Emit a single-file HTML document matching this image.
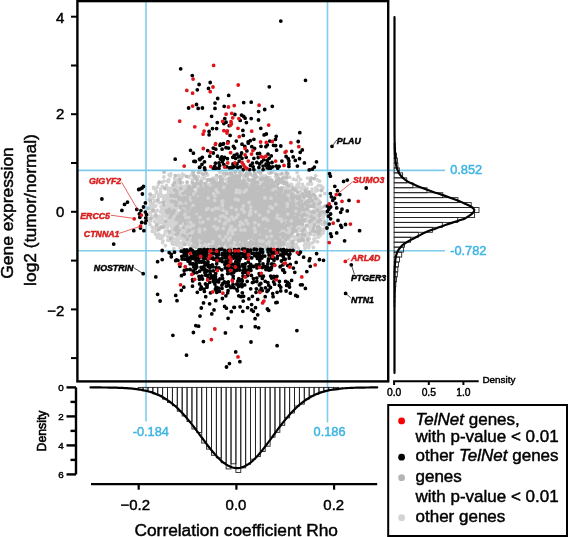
<!DOCTYPE html><html><head><meta charset="utf-8"><style>html,body{margin:0;padding:0;background:#fff;width:568px;height:537px;overflow:hidden}svg{display:block;will-change:transform}text{font-family:"Liberation Sans",sans-serif;stroke-width:0.45px;paint-order:stroke}</style></head><body>
<svg width="568" height="537" viewBox="0 0 568 537">
<path d="M179.4 193h0M288.8 220.1h0M301.1 205.9h0M255.1 210.3h0M200.6 218.9h0M175.7 208.9h0M269.4 217.2h0M238.8 204.3h0M243.7 205.5h0M217.5 209h0M244.4 229.5h0M165.9 208.7h0M267.8 205.6h0M217.4 225.2h0M246.7 221.8h0M215.3 241.8h0M308.2 216.6h0M214.3 230.7h0M258.9 195.2h0M213.9 237h0M231.4 209.4h0M246.2 215.3h0M235.9 177.4h0M320 220h0M193.9 235.6h0M250.8 216.4h0M262.6 247.7h0M210.9 231.5h0M154 210.7h0M298.1 236.9h0M263.8 178.1h0M272.8 225.9h0M153.6 187.3h0M196.1 211.2h0M223.8 227.4h0M260 221.4h0M244 221.4h0M295.1 213.9h0M206.7 224.2h0M161.4 195.2h0M187.7 221.8h0M290.8 220.8h0M249.4 207h0M178.3 190.3h0M276.2 229.3h0M290.8 247.1h0M221.3 237.1h0M288.2 212.7h0M158.6 218.4h0M196.5 218.2h0M213.8 222.4h0M301.3 209h0M192.4 216.1h0M268.4 224.5h0M255.3 176.6h0M181.7 242.9h0M247.5 185.6h0M194.3 187h0M187 239.6h0M225.3 238.6h0M245.1 185.6h0M198.7 194.7h0M296.2 217.8h0M235.7 245.8h0M150 224.5h0M184.5 187.4h0M196.2 239.5h0M229.1 178.6h0M181.7 247.1h0M286.1 193.7h0M177.5 213.2h0M286.5 207.3h0M208.5 186.2h0M232.4 203.8h0M248 190.1h0M210.6 198h0M176.9 191.8h0M186 191.8h0M263.9 218h0M171.2 226.5h0M250.1 245.9h0M226.4 211.7h0M202.2 218.5h0M260.2 219.6h0M223.5 227.5h0M240.5 221.1h0M190.2 220.2h0M187.1 198.7h0M284.9 216.1h0M227.2 236.2h0M303.9 241h0M226.9 219.9h0M219.8 210.2h0M194 210.9h0M256.9 197.1h0M262.5 189.5h0M217.9 224.1h0M185.1 201.4h0M201.4 204.3h0M237.6 215.5h0M284.3 232.2h0M216.2 208.7h0M166.5 185.4h0M199.7 231h0M241.9 232.4h0M282.2 212.6h0M205.3 207.2h0M291.8 213.2h0M199.7 224.9h0M291.6 213.7h0M223.6 238.2h0M284.2 235.3h0M198.5 221.8h0M253.8 179.3h0M295 218h0M243.2 201.3h0M232.9 227.5h0M275.9 214.8h0M193.6 201.8h0M195.9 194.5h0M235 206h0M238.7 199.1h0M193.5 212.2h0M218.9 239.5h0M191.7 220.2h0M234 189.3h0M271.7 219.5h0M282 199.7h0M319 219.2h0M179.5 227.5h0M218.4 188.7h0M200 229.1h0M255 205.4h0M319.6 231.3h0M218.6 196h0M258.5 210.1h0M176 219.4h0M193 216.3h0M272.3 237.8h0M242.8 209h0M254.4 187.5h0M311.9 221.1h0M231.4 210h0M254.5 204.2h0M163.9 176.9h0M230 205.5h0M274.8 238.2h0M211.6 222.1h0M225.7 211.8h0M272.4 228.3h0M250.9 219h0M165.6 201h0M254.6 208.6h0M198.1 223.2h0M191 202.3h0M279.1 208.7h0M305.7 226.6h0M275.5 239h0M173.1 206.6h0M230.9 241.2h0M210.4 214.9h0M240.5 235.2h0M233.5 203.5h0M220 187.6h0M297.3 231.2h0M256.8 221.6h0M206.6 207.8h0M275.3 200h0M197.9 248h0M311.8 221.9h0M261.9 219.8h0M305.3 207h0M240 225.8h0M306 211h0M247.3 206.1h0M204.2 202.8h0M240.1 233.9h0M202.4 203.9h0M216.4 223.1h0M269.8 190.8h0M253.2 195.9h0M270.5 196.6h0M183.7 201.7h0M233 196h0M246.2 219h0M240 221.4h0M278.2 201.3h0M236.1 215.4h0M198.9 201.6h0M214.5 218h0M251.9 225.7h0M202.6 230h0M256.1 208.2h0M235 232.1h0M256.8 230h0M241.1 238.8h0M208.6 188.3h0M288.6 236.1h0M217.6 245h0M232.3 204.2h0M239.3 220.3h0M238.4 224h0M208.7 229h0M197.6 219.3h0M227.5 184.4h0M254.4 228.7h0M182.4 174.1h0M205 199.2h0M241.3 215.7h0M313.4 229h0M223.7 219.2h0M191.8 213.8h0M251.3 220.3h0M280.9 202.2h0M250.7 213.4h0M236.6 222.4h0M222.5 220.2h0M234.3 236.4h0M230.6 222.1h0M260.6 237.5h0M187.7 230.2h0M271.9 224.8h0M282.7 231.7h0M293.1 203.2h0M256.7 205.1h0M295.4 218.7h0M173.7 218.2h0M188 235.6h0M219.8 172.3h0M217.4 236.4h0M251.8 203.4h0M267 227.5h0M306.4 234h0M253.6 200.3h0M249.6 222h0M236.7 224.4h0M179.3 227.4h0M236.5 223.1h0M231.4 210h0M248.2 231.6h0M220.7 222.5h0M199.4 224.3h0M236.9 190.5h0M291.6 198.3h0M239.8 189.9h0M153.3 229.1h0M169.1 174.8h0M225.7 185.2h0M217.3 223.1h0M262.8 220.9h0M230.3 245.9h0M232.2 223.1h0M241.3 190.6h0M251.2 217.1h0M266.9 229.7h0M310.6 178.3h0M209.5 206.6h0M194.9 224.2h0M232.3 218.8h0M158.5 197h0M232.9 207.1h0M207.1 213.7h0M222.8 195h0M315.1 202.6h0M266.9 227.8h0M281.9 204.7h0M188.6 224.7h0M217.5 210.7h0M255.7 196.8h0M297.6 221.4h0M209.9 224.7h0M230.6 229.2h0M194.3 208.8h0M236.2 201.1h0M214.4 228.1h0M275.1 193.5h0M214.3 222.5h0M263.4 195.8h0M264.4 218.9h0M298.1 234.5h0M261.9 208.2h0M248.4 199.1h0M196.8 179.6h0M174.3 190.9h0M231.1 218h0M172.4 214h0M255 234.2h0M231.4 220.3h0M218.1 234.2h0M162 220.7h0M279.6 174.4h0M210.9 188.1h0M152.3 207.8h0M194.1 236.4h0M211 194h0M231.9 223.9h0M274.4 225.8h0M165.1 199.7h0M226.9 199.3h0M270.7 209.1h0M232.1 208.4h0M237.5 186.2h0M201 180.7h0M231.3 188.6h0M250.8 239.3h0M264.2 207h0M295.4 212h0M233.1 217h0M212.8 224h0M177.1 180.8h0M291.9 201.2h0M218.6 222.3h0M213.1 192.5h0M225.9 197.1h0M261.1 207h0M223 230.8h0M162.3 186.4h0M269.7 240.6h0M239.5 201.8h0M293.3 225.9h0M283.6 180h0M229.1 195.4h0M183.5 227.1h0M269.6 206.4h0M223.4 242.8h0M266.2 213.3h0M259.4 217.9h0M175.7 205.6h0M248.6 227.9h0M178.6 199.9h0M207.6 185.9h0M287.2 224.7h0M297.1 172.7h0M168.8 179.8h0M245.7 246.6h0M265.5 196.8h0M261.4 223.8h0M247.7 223.4h0M274.4 238.6h0M299.9 236.6h0M228.4 179.3h0M261.1 186.2h0M253.8 221.6h0M266 221.4h0M198.5 231.7h0M202.5 186.1h0M278.2 226.2h0M191.2 210.8h0M283.9 234.2h0M184.7 237.5h0M253.5 213.4h0M240.7 184.1h0M229.2 225.6h0M191.5 218.5h0M206.6 227.2h0M161.8 216.2h0M251.2 190.6h0M223.6 233.4h0M269.6 196.2h0M283.7 222.5h0M241.4 245.5h0M270.2 223.1h0M281 228.9h0M295.7 213.6h0M273.7 226.2h0M237.8 214.1h0M240.5 197.2h0M272.3 217.6h0M190.5 221.1h0M220.2 215.3h0M185.2 224h0M269.4 224.3h0M306.2 207.4h0M220.2 215.7h0M170.9 237.7h0M176.9 226.7h0M292.5 199.4h0M227.5 211.9h0M317.3 221.1h0M284.8 176.5h0M240 173.9h0M285.9 244h0M269.5 215.5h0M202.4 223.5h0M197.3 219.1h0M223.7 207.1h0M261.8 235.3h0M278 224.8h0M315.8 191h0M239.1 219.6h0M214.9 209.7h0M247.1 214.1h0M256.2 235.4h0M178.1 240.7h0M269.5 235.7h0M309.8 211.1h0M255.7 221.2h0M207.1 200.8h0M198.9 232.7h0M239.6 241.9h0M231.1 241h0M233 205.4h0M161.4 219.7h0M318.3 217.8h0M186.4 227.6h0M170.5 193.3h0M289.1 224.1h0M282 220.7h0M230.3 219.4h0M220.5 236.9h0M174.6 178.4h0M195.5 233.9h0M226.7 227.4h0M253.5 212.7h0M161.7 226.3h0M189.1 212.4h0M272 208.3h0M150.4 204h0M264.9 230.2h0M174 216.9h0M250 237.2h0M255.2 219.1h0M221.4 225.3h0M272.7 212.8h0M233.9 200.4h0M268.1 191.4h0M184.3 234.1h0M237 231.6h0M272.8 200.9h0M259.9 208.5h0M246.2 221h0M232 190.4h0M250.3 216.4h0M261.2 195.1h0M245.4 211.9h0M215.6 210.7h0M224.1 189h0M210.1 206.8h0M258.1 212.9h0M303 227.9h0M250.9 220.1h0M168.7 223.1h0M295.7 196h0M298.5 228.1h0M249.5 207.6h0M237 200.5h0M235.2 217h0M239 191.9h0M279.9 203.1h0M254.8 227.6h0M241.7 224.3h0M224.3 222.5h0M176.3 228.6h0M218.6 205.9h0M271.9 233.8h0M215.9 195.9h0M259.2 228.5h0M176.6 217h0M285.5 201.1h0M209.8 198.2h0M255.5 178.9h0M229.8 225.2h0M233.4 234.8h0M264.9 206h0M188.8 195.2h0M259 213.3h0M241.4 198h0M290.2 233h0M271.4 194.1h0M185 234.9h0M229.9 200.7h0M200 225.7h0M250.4 220.1h0M225.8 195.9h0M247.8 210.7h0M226.4 228h0M315.6 203.7h0M281.4 201.6h0M275.5 228.6h0M237.7 220.6h0M199.5 209.4h0M280.8 231h0M214.2 218h0M238.8 206.2h0M216.5 214.1h0M295.9 214h0M200.7 222.1h0M206.4 222h0M185.9 235.2h0M273.2 207.3h0M258 193.2h0M246.2 221.1h0M285.9 207.6h0M185.5 205.4h0M219.1 248.3h0M233.9 238.5h0M239.5 188.8h0M257.5 226.1h0M209.7 185.6h0M255.5 225h0M280.1 227.6h0M166.8 189.1h0M274.6 242.5h0M285.9 232.2h0M235.5 234.8h0M308.5 226.3h0M294.7 239.6h0M202.8 238.9h0M200.3 198.2h0M311.6 184h0M227.3 233.7h0M254.3 208.5h0M192.5 226h0M260.9 214.5h0M190.6 188.2h0M235.7 215.1h0M275 210h0M278.6 192.5h0M155.6 234.2h0M216.3 199.7h0M229.5 192.4h0M220.2 189.2h0M244.1 204.7h0M233.6 216h0M256.9 182.8h0M243.4 210.9h0M182.6 211h0M259.6 225.2h0M208.4 200h0M214.7 204.6h0M235 218.8h0M200.9 194h0M233.6 192.3h0M198.3 222.8h0M231.7 196.8h0M169.7 196.8h0M167.3 226.4h0M270.5 221.9h0M250.6 206.5h0M243.7 217.2h0M238.3 206.6h0M186.2 221.6h0M253.8 194.5h0M225.3 215.4h0M259 183.2h0M171 189.4h0M178.6 195.2h0M275.4 193.7h0M268.1 215.1h0M276 223.4h0M273.3 227.3h0M264.7 223.5h0M286.8 216.4h0M212 246.7h0M213.9 223.8h0M223.5 203h0M193 228.6h0M226.7 218.5h0M157.1 225.4h0M202.9 178.8h0M202.7 185h0M309.7 183.6h0M249.3 196h0M198.2 191.3h0M292.2 194.7h0M206.7 220.5h0M219 229.4h0M201.9 184.8h0M257.1 239.1h0M260.6 199.9h0M290.2 231.3h0M218.6 224.5h0M234.7 218.3h0M266 232.9h0M240.2 217.3h0M257.5 200.6h0M253.4 212.3h0M239.3 217.9h0M296.8 225.8h0M238.4 193.2h0M253.3 195.3h0M293.3 202.6h0M207.4 213.2h0M189.7 225.6h0M251.3 203h0M289.8 226.7h0M249.5 245h0M218.3 211h0M229.9 195.7h0M243.4 199.1h0M225.2 206.8h0M216.2 215h0M168.3 181.6h0M226.9 211.6h0M182.1 214.1h0M210.3 220h0M226.7 237.5h0M300.8 228.9h0M237.6 232.5h0M270.3 225.2h0M272.2 209h0M272.4 226.4h0M255.4 213.1h0M218 227.4h0M213.8 195.8h0M313.9 239.1h0M201.6 242.9h0M268.3 221.1h0M227.7 231.3h0M260.8 194.7h0M203.4 235.5h0M271.3 194.6h0M169 224.8h0M199.3 202.5h0M213.2 220.7h0M220.2 233.9h0M184.9 199.8h0M259.6 235.4h0M234.6 210.2h0M298.5 237.2h0M250.9 211.8h0M294.7 229.7h0M220.9 244.6h0M287.8 220.7h0M258.7 231.3h0M216.1 193.6h0M291.8 185.4h0M167.9 189.6h0M260 236.4h0M207.5 241.4h0M312.4 242.8h0M178.3 241.4h0M163 241.1h0M261.3 215.8h0M234.8 183.8h0M198.6 220.2h0M258.9 234.3h0M280.3 207.6h0M233.8 243.8h0M174.9 226.6h0M198.2 220.6h0M322.5 224.2h0M216.6 203.4h0M172.7 216.1h0M243.3 199.2h0M201.1 239.3h0M290.2 222.6h0M227.4 240.2h0M268.8 220h0M320.4 213.6h0M245.6 237.7h0M260 218.1h0M222.3 230h0M257.2 219.9h0M314.8 215h0M316 197.8h0M243.5 201h0M254.5 229.9h0M263.3 221h0M225.5 193.2h0M276.8 217.1h0M290.8 184.4h0M226 183.8h0M288.1 202.6h0M189.5 233.5h0M233.4 221.3h0M232.7 238.1h0M250.3 221.6h0M236.8 235.2h0M289.5 209.8h0M277.2 187.8h0M200.6 206.3h0M203.3 226.9h0M173.3 186.6h0M246.1 199.8h0M239.8 218.2h0M206.2 208.7h0M276.7 216.6h0M240.4 229.4h0M203.4 193.2h0M220.6 247.8h0M283.2 234.2h0M214.2 184.8h0M185.4 193.8h0M263.1 222.1h0M177.1 221.4h0M301.3 234.5h0M204.9 234.7h0M216.2 240.3h0M180.8 198h0M221.2 231h0M172.1 221h0M220.2 207.5h0M178 224.5h0M243.6 224.7h0M244.9 214.2h0M195.9 216.1h0M273.4 219.1h0M261.6 233.2h0M252.5 211.6h0M191.9 240.7h0M229 213.1h0M241.2 232.1h0M277 202.8h0M233.4 238.9h0M208.8 217.1h0M197.8 188.3h0M177 219.5h0M225 212.1h0M165.3 215.1h0M200.5 242.5h0M191.2 236.4h0M182.1 196.4h0M303.2 201.8h0M217.1 185.8h0M244.1 243.4h0M223.6 211.1h0M236.9 201.7h0M177.6 217.2h0M221.8 182.5h0M177.9 225.1h0M278.4 215.1h0M307.7 233.5h0M201.4 195.7h0M259.4 177.6h0M269.5 234.4h0M180.4 195.4h0M319.6 206.7h0M244.3 209.6h0M312 204.8h0M194.7 245.7h0M166.2 210.1h0M173.6 185.6h0M180.1 216.9h0M202.1 194.5h0M212.4 237.4h0M266.1 219.4h0M270.9 209h0M239.9 245.6h0M193.6 218.6h0M233.4 235h0M260.2 216h0M260.8 230h0M213.8 228h0M217.8 243.1h0M212.2 217.3h0M198.4 213.6h0M288 243.6h0M276.8 229.2h0M242 191.1h0M265.4 203.5h0M249.5 214h0M275.9 203.1h0M273.2 216.3h0M312 213.8h0M229 179.6h0M277.1 216.7h0M258.9 209.8h0M296.8 214h0M229.3 223.8h0M183.9 226.8h0M196.4 221h0M287.6 208.7h0M206.5 248.4h0M237.8 237h0M264.1 225h0M302.9 215.5h0M165 211.6h0M208.6 194.6h0M217.9 224.4h0M260 217.9h0M230.3 217.6h0M216.1 199.9h0M240.3 233.3h0M203.1 216.6h0M269.1 197.6h0M254.4 219.5h0M284.7 199.3h0M216.5 246.5h0M301.4 204.5h0M284 222.6h0M269.4 193.1h0M244.9 230.1h0M289.7 225.5h0M257.8 235.7h0M317.8 189.8h0M152.1 217.8h0M272.6 198.8h0M266.4 205h0M278.1 213.8h0M317.3 198.6h0M306.9 203.1h0M270.8 223.2h0M177.3 179.7h0M230.3 210.9h0M210.6 231h0M252.3 228.6h0M189.9 214h0M230.7 236.5h0M297.2 207.2h0M262.2 223.4h0M230.7 182.6h0M195 201h0M227.2 195.2h0M247.6 229.2h0M246 219.6h0M207.3 232.8h0M206.7 216.6h0M318.4 185.4h0M287 222.4h0M248.4 244.1h0M210.5 229h0M214.8 241.9h0M180.5 215.5h0M213 195.5h0M284.7 209h0M189.8 197.5h0M254.7 185.4h0M253.3 235.5h0M241.5 219.4h0M219.5 199.5h0M235.7 220.6h0M306.9 220.2h0M203.8 232.7h0M189 177h0M225.8 202.6h0M266.5 215.1h0M175.7 202h0M177.8 195.9h0M294.4 244.9h0M220.5 243h0M232.5 198.4h0M231.9 233.8h0M305.6 212h0M175.3 220.6h0M215.1 203.1h0M256.5 220.4h0M179.6 202.7h0M302.2 212.2h0M185.8 216.5h0M190.5 219.5h0M240 189.9h0M157.3 210.5h0M174.8 208.2h0M215 211.5h0M288.9 239.7h0M221.2 224.5h0M267.9 185.6h0M240.1 196.3h0M290.8 240.9h0M251.3 245h0M223.3 200.9h0M300.1 216.4h0M252 190.2h0M270.4 214.6h0M229.9 194.8h0M200.4 207.8h0M243.4 241h0M153.9 188.6h0M191.1 201.7h0M196.6 193.2h0M204.4 224.6h0M216.4 198h0M264.5 218.8h0M189.8 239.6h0M205 196.7h0M253.3 199.7h0M188.5 242.9h0M214.3 197h0M244.5 213h0M258.8 207h0M256.9 192.9h0M275.3 208.9h0M200.8 191.4h0M279.6 214.9h0M216.9 222.6h0M228.6 209h0M251.7 206.9h0M155.5 216.3h0M215.8 228.3h0M289.7 195.7h0M228.3 248.2h0M289.2 200.9h0M248.3 243h0M297.8 208.8h0M255.1 226.9h0M225.7 211.4h0M282.5 216.2h0M233.4 239.3h0M291 227.4h0M217.1 200.4h0M184.8 204h0M251.3 190.6h0M196 196.3h0M245.6 207.9h0M308.6 242.3h0M239.1 213.8h0M287.8 199.1h0M282.1 191.6h0M219.2 222.9h0M243 184.7h0M198.5 219h0M203.9 219.1h0M250.1 227.9h0M230 196.4h0M164.1 220.9h0M226.6 242.6h0M245.7 229.6h0M187.3 210h0M257 209.2h0M268.3 208.2h0M223.5 223.9h0M176.9 245h0M309.2 211.4h0M256.5 235.5h0M254.1 229.1h0M221.3 226.4h0M211.1 194h0M226.6 230.8h0M250.8 223.7h0M218.4 219h0M199.5 213.8h0M241.3 200.4h0M307.5 178.1h0M267.2 209.8h0M284.9 206.3h0M276.1 201.2h0M200.1 212.1h0M238.2 196.9h0M292.1 195.1h0M225.1 218.2h0M230.2 236.6h0M192.5 235.2h0M289.9 216.7h0M208.5 187.8h0M249.3 194.5h0M174.6 207.4h0M210.9 243.6h0M249.6 214.2h0M275.2 224h0M264.5 193.4h0M235.1 225.2h0M236 226.4h0M285.2 241.9h0M246.1 227.3h0M217.5 208.8h0M270.8 190.9h0M291.6 193.6h0M231.4 200.3h0M194.5 225.1h0M156.8 230h0M222.4 209.9h0M251.5 241.5h0M244.6 201.9h0M236.1 235.5h0M187.5 221.3h0M294.5 203.6h0M228.2 234.1h0M207.6 215.4h0M222.3 220.6h0M182.5 182.6h0M288.1 200h0M190 233h0M207.9 211.7h0M181.5 210.1h0M252.9 236.5h0M271.4 191.5h0M219.1 229h0M194.4 197.5h0M219.9 237.6h0M179.8 231.5h0M269.5 202.6h0M176.1 209.9h0M218.2 203h0M280.3 239.9h0M232.4 239.2h0M202.2 220.4h0M261.8 218.7h0M232.8 196.8h0M264.1 248.6h0M268.5 214.4h0M223.1 196.6h0M300.7 215.6h0M291.9 197.9h0M271.1 231.9h0M228.3 204.9h0M297.8 202.6h0M304.7 228.1h0M319.6 213.6h0M224.8 195h0M162 182.3h0M217.1 216h0M249.6 223.6h0M215.3 196.7h0M202 219.4h0M243 181.2h0M228.3 195h0M187.9 217.2h0M194.4 219.8h0M244.2 205.8h0M193.5 183.5h0M253.1 213.2h0M202.8 202.1h0M176.8 221.3h0M279.1 194.2h0M263.7 206.2h0M249.9 196.9h0M205.7 209.3h0M279.8 201.6h0M208.1 238.2h0M198.3 211.3h0M223.8 201.1h0M209.1 190.7h0M187.4 237.9h0M176.5 240.5h0M167.8 240.2h0M227.4 227.7h0M224.1 225.1h0M205.2 223.5h0M305.1 189.6h0M237.5 233.1h0M210.5 216.2h0M247.8 235.5h0M255.6 223.6h0M203.9 205.7h0M217.5 201.9h0M238.7 197.8h0M270.5 200.7h0M207.4 184.9h0M212.4 184h0M220.9 225.6h0M274 219.7h0M217.1 236.1h0M256.3 207.1h0M243.2 218.3h0M194.7 243.2h0M169.8 224.4h0M190.8 214.5h0M224.4 219.2h0M310.4 206.3h0M262.4 223.7h0M247.8 192.7h0M235.4 182.6h0M290.5 245.5h0M243.9 226.4h0M234.5 179.3h0M220.6 234.7h0M232 199.4h0M237 229.3h0M208.8 220.7h0M291.6 204.1h0M266.5 196.5h0M260.3 226.1h0M275.7 195.1h0M245.1 188.8h0M236.5 191.3h0M244.2 233.4h0M288.3 204.9h0M303.4 221.7h0M303.3 214.9h0M183.1 217.1h0M190.8 195.8h0M299.5 193.2h0M224.2 184.5h0M254.1 238h0M232.6 229.5h0M269.1 211.5h0M272.1 181.2h0M227.2 218.5h0M266.5 241.9h0M224.6 197.9h0M212.8 209h0M190.2 186.8h0M248.6 190.8h0M233.2 215.4h0M231 236.3h0M252.8 219.4h0M306.2 208h0M168.2 204.3h0M282.3 195.2h0M193 224.8h0M287.3 246.1h0M208.5 201.7h0M222.9 200.9h0M234.3 190.4h0M221.9 212.5h0M238.8 199.4h0M231.9 206.2h0M193.7 210.7h0M197 219h0M282.3 225.2h0M238.3 228.4h0M223.9 225h0M214.7 220.9h0M184.5 226.3h0M292.4 224.6h0M276.4 216.8h0M213.5 178.6h0M257.4 234.4h0M275.5 210.4h0M262.7 226.2h0M265.3 202.3h0M178.7 175.4h0M213 206.8h0M193.7 218.1h0M170.2 219.6h0M308.5 211.4h0M148.5 214h0M204.6 215.4h0M217.7 202.1h0M247.2 235.3h0M223.8 216.5h0M190.1 214.8h0M164.4 224.3h0M187.1 215.6h0M202.3 208.2h0M215.3 196.8h0M223.7 198.2h0M215.5 205.9h0M180.4 218.2h0M260.8 217h0M156.8 224.4h0M270.9 180.3h0M245.2 226.8h0M290.8 243.1h0M251.5 232.2h0M244.9 230.2h0M174 198.6h0M297.4 222.3h0M176.1 211.3h0M150.6 212.5h0M278 180.3h0M229.2 221.1h0M225.1 216.9h0M200.1 198.7h0M234.1 178.2h0M227.9 185.4h0M197.6 243.9h0M214.4 205.2h0M272.9 199.4h0M204.8 213.4h0M262.5 196.2h0M231.5 177.6h0M172.8 212.8h0M201.6 219.4h0M268.8 173.1h0M248.1 217.1h0M216.8 217.5h0M195.3 222.9h0M252.1 234.4h0M174.7 192.9h0M208.3 221.6h0M189.2 233.1h0M304.2 210.1h0M286.9 184.6h0M184.6 226.3h0M274.6 188.3h0M210.9 223.6h0M231.4 199.5h0M232.6 231.1h0M209.2 189.4h0M295.1 205.7h0M277.2 236.4h0M279.1 214.6h0M249.6 224h0M312.8 221.6h0M160.2 235.4h0M241.6 212.1h0M222.9 230.7h0M235 220.8h0M234.6 234.2h0M179.5 223.2h0M258.9 215.1h0M305 248.3h0M222 240.2h0M293.1 205.6h0M274.4 226.7h0M218.3 191.2h0M226.9 235.8h0M281.2 223.7h0M257.5 198.3h0M207.6 218.6h0M224.4 195.8h0M173.8 238.7h0M230.4 223.7h0M186.7 190.5h0M277.7 222h0M279.2 200.3h0M214.8 221.8h0M220.8 241.8h0M296.9 201h0M284.2 212h0M275.8 223.7h0M225 221.1h0M256.3 209.5h0M256.3 230.7h0M241 229.5h0M288.4 220.3h0M239 208.4h0M210.5 216.6h0M260.4 173.9h0M277.9 198.5h0M284 240.7h0M311.1 230.7h0M218.9 248.1h0M200.5 216.4h0M185.1 217.2h0M269.7 236.9h0M163 209.8h0M200.6 239.4h0M254.6 239h0M250.5 231.5h0M272.6 223.2h0M202.6 212.3h0M309.7 245.1h0M223.6 229h0M161.8 238.7h0M233.8 172.8h0M194.4 210.9h0M219.3 215.9h0M198.2 181.2h0M314 196.9h0M183.8 187.2h0M220.1 240.8h0M206.2 215h0M302.5 213.2h0M189 196.1h0M266.1 203.9h0M225.2 241.6h0M257.5 245.7h0M204.2 217.9h0M256.2 224.4h0M263.1 178.8h0M157.2 201.4h0M213.8 232.8h0M266.5 207.2h0M191.6 197.9h0M294.7 224.3h0M265.4 175.9h0M199.1 182.9h0M175.5 224.6h0M251.6 203.3h0M268.6 246.6h0M260.6 205.9h0M181.3 209.1h0M213 221.9h0M262.4 213.3h0M245.4 218.9h0M229.4 219.8h0M233.9 247.7h0M237.8 219.2h0M260.5 216.5h0M286.8 209.6h0M236 222.2h0M209.6 202.5h0M257.8 235.4h0M225.4 198.3h0M207.3 211.1h0M222.9 213.9h0M187.7 205.6h0M172.3 236h0M169.5 201.1h0M190.5 223.1h0M230.9 203.5h0M216.5 228.4h0M206.2 246.2h0M158.3 222.4h0M287.3 232.8h0M251 200.7h0M275.3 226.8h0M245.8 182.4h0M275.1 222.9h0M270.2 207.6h0M318.8 236.8h0M258.2 196.3h0M209.7 184.5h0M252.1 204.9h0M250.1 192.4h0M322.7 214.5h0M276.1 199.2h0M280.6 236.3h0M264.7 229.5h0M184.5 206.1h0M181.1 186.8h0M275.2 210.5h0M276.6 211h0M189.2 243.4h0M292.4 212.4h0M261.5 180.1h0M209.6 241.4h0M245 214.5h0M305.3 244.5h0M190.2 207.6h0M249.9 195.1h0M264.6 230.2h0M240.6 187.4h0M228.8 216.1h0M255.5 215.8h0M303.7 204.4h0M177.3 238.4h0M205 193.1h0M249.5 191.3h0M200 212.3h0M239.9 206.6h0M291.9 231.9h0M255 237h0M232.6 238.9h0M212.3 207.2h0M255.9 227.3h0M243.7 224.9h0M249.2 214.7h0M267.5 193.2h0M287.1 235.1h0M201.2 188.6h0M238.3 227.3h0M208.8 203.8h0M173.9 195.8h0M311.6 222.5h0M284.3 213.3h0M197.7 207.9h0M260.8 206.3h0M281.9 229.9h0M177.4 224.9h0M189.5 211.7h0M235.8 210.4h0M316.1 197.9h0M233.7 238h0M318.6 224.6h0M299.7 211.5h0M289.8 212.9h0M298.5 187.6h0M283.6 206h0M223.2 215.7h0M255.6 213.4h0M179.1 202.7h0M256.4 232.5h0M234 218.6h0M197.9 227.5h0M221.2 185.6h0M233.4 243.5h0M206.2 183h0M263.4 229.9h0M204.5 204.6h0M278.9 205.5h0M231.3 208.7h0M278.8 212h0M250.7 220.9h0M325.9 223.3h0M206.9 196.8h0M271.6 234.6h0M203.8 216.1h0M299.8 196.7h0M269.8 240.1h0M283.3 223h0M281.5 243.4h0M314.3 234.6h0M184.6 196.9h0M228.4 188.1h0M180.5 209h0M267.2 218.4h0M217.4 196.8h0M177.5 237.2h0M266.2 180.4h0M242.3 243.2h0M173.5 221.5h0M262.7 222.7h0M245.8 196.8h0M195.2 202.7h0M199.2 212.3h0M254.3 209.3h0M306.5 243.2h0M171.7 225.9h0M183.9 199.6h0M259 209.6h0M259.9 204.1h0M271.8 223.7h0M149.9 212.6h0M253.5 234.1h0M178.6 204h0M217.1 193.6h0M303.6 236.6h0M241.1 208.6h0M238 214h0M209.1 190.4h0M229.9 224.3h0M232.8 244h0M150 208.3h0M267.5 240.5h0M231.3 221.6h0M244.9 224.9h0M243.2 220.7h0M280.8 213.1h0M238.4 195.1h0M199.5 214.9h0M267.1 211.3h0M316.9 207.3h0M250.2 209.2h0M305.6 213.6h0M181.4 203.6h0M273.2 235.1h0M226.6 203.9h0M298 194.8h0M265.2 227.5h0M194.2 178.5h0M274.6 215.8h0M268.8 193.2h0M213 227.3h0M246 219.3h0M213.9 220.3h0M248.1 232.9h0M257.2 226.1h0M176.9 228.7h0M286.4 175.4h0M290.4 192.4h0M266.7 203.4h0M202.5 204.8h0M269.8 208.9h0M271.3 216h0M193.7 243.8h0M206 209.9h0M304.4 245.3h0M251.2 239h0M264.9 196.3h0M207.6 217.7h0M295.9 205.4h0M212.3 198.6h0M224.8 197h0M255.5 232.9h0M243.1 176.2h0M165.8 213.4h0M299.7 204.4h0M272.2 213.7h0M291.7 192h0M177.9 204.5h0M240.4 219.2h0M183.8 232.2h0M232.2 196.7h0M214.5 205.4h0M262.6 211.9h0M286.6 202.9h0M258.8 244.6h0M234.4 226.7h0M261.9 175.4h0M291.9 197.2h0M218.4 206.9h0M278.8 215.8h0M229 212.5h0M212.4 238.2h0M187.1 219.4h0M229 218.6h0M208.7 201.1h0M270.9 228.5h0M197.8 187.1h0M215.4 221h0M190.4 196.7h0M197 234.1h0M261.2 218h0M246.6 228.1h0M246.5 224.5h0M291.9 203.1h0M174.5 217.7h0M231.5 195h0M237 216.1h0M311.3 223.1h0M287.5 220.2h0M190.1 213.8h0M313.2 206.5h0M225.7 202.2h0M253.2 224.7h0M273.9 228.1h0M210.4 207.4h0M273.9 224.9h0M305.1 192.5h0M223.7 242h0M201.9 212.9h0M199.7 212h0M246.1 202h0M242.1 203.3h0M287.5 217.2h0M286.2 196.8h0M235.1 239.7h0M201.5 241.7h0M229.1 227.8h0M249.5 216h0M263.6 229.2h0M205.8 238.1h0M208.2 216.4h0M272.2 188.4h0M248 227.1h0M279.8 231.5h0M185.9 191.9h0M280.3 202.9h0M257.6 224.5h0M232.6 208.7h0M181.9 193.6h0M262.9 217.4h0M239 237.4h0M286.7 187.1h0M230.3 218h0M205.4 212.7h0M224.7 235.5h0M183.7 175h0M295.4 226h0M222.9 207.2h0M270.7 226.8h0M196.6 242.3h0M305.4 210.2h0M283.3 207.3h0M179.1 220.5h0M290.4 233.7h0M223.3 193.9h0M183.1 194.8h0M294 194.2h0M254.5 213.3h0M265 216h0M286 196.3h0M244.6 197.9h0M229.2 228.1h0M253.1 222.8h0M279.1 248.4h0M287.5 214.2h0M279.7 231.7h0M249.9 207.5h0M228.1 244.9h0M314.7 239h0M235.1 190.6h0M240.5 205.2h0M270.2 195.6h0M170.5 240.5h0M222.3 217.6h0M231.8 210.8h0M204.9 210.6h0M193.5 227h0M214.2 189h0M215.3 227.6h0M239.1 208.8h0M169.1 199.8h0M228.3 212.7h0M295.8 230.2h0M251.4 188.4h0M310.2 213h0M237.8 225.7h0M227.2 219h0M182 205.8h0M260.8 241.5h0M163 221.9h0M257.6 181.3h0M227.1 207.6h0M172.4 202.7h0M251.6 234.2h0M198.1 213.9h0M270.2 224.1h0M165.1 233.7h0M169.5 213.9h0M311.4 221.8h0M258.8 200.2h0M219.3 210.3h0M282.9 207.9h0M203.2 219.7h0M317.6 180h0M186.3 228.8h0M218.9 246.3h0M168.1 189.6h0M292.5 218.6h0M246.5 215.1h0M203.1 202.2h0M266.3 227.2h0M268.4 212.8h0M243.9 218.7h0M182.5 199.1h0M325.1 224.9h0M243.1 189.2h0M173.1 208.3h0M284.1 208.3h0M261.1 215.6h0M287.3 189.8h0M244.7 230.1h0M321.4 229.6h0M315.8 234.6h0M302.6 239.7h0M256.2 220.8h0M251 206.9h0M186 218.3h0M290 198.6h0M309.2 213h0M222.2 218h0M298.8 195.1h0M283.3 239.5h0M229.5 237.4h0M246.9 223h0M161.6 222.4h0M213.2 178.2h0M303.7 198.7h0M233.6 206.1h0M283.3 209.2h0M217.6 214.6h0M318.9 234.1h0M209.4 205.2h0M242.8 223.4h0M239.7 200.1h0M320.3 228.4h0M224.5 227.2h0M193.9 208.3h0M183.5 212.5h0M199.4 212h0M248.1 236.2h0M185 221.2h0M199 239.5h0M261 211.4h0M309.8 216.2h0M197.6 233.5h0M230.6 200.8h0M298.7 227.5h0M288.7 214.3h0M289 206.5h0M205.6 189.4h0M243.4 187.2h0M206.3 187h0M192.2 201h0M206.1 202.5h0M246.7 234.3h0M188.8 203.3h0M268 224.7h0M238.7 205.2h0M213 217.1h0M185.9 224.3h0M261.4 221.3h0M280.8 208.3h0M202.2 214.9h0M249.2 206.6h0M225.2 228.2h0M229.4 175.8h0M195.9 222.5h0M255 211.4h0M239.9 198.6h0M267 207.6h0M300.8 187.8h0M223.4 228.5h0M223.2 210.1h0M199.5 208.1h0M224.8 207.8h0M221.8 201.4h0M167.7 201.4h0M257.2 231.4h0M219.7 186.2h0M245.1 212.9h0M201.8 227.9h0M278.2 200.4h0M222.7 226.4h0M195 222.3h0M303.1 219.7h0M273.6 202.9h0M235.3 203.3h0M207.7 229.9h0M262.9 182.7h0M247.6 205.5h0M201.4 238.7h0M167.5 230h0M323.1 217.2h0M298.2 199.4h0M191.9 240.7h0M255.5 190.4h0M236.9 185.3h0M248.5 173.1h0M242.3 172.1h0M231.3 207.9h0M318.1 237.3h0M230.7 205.2h0M293.6 195.2h0M245.2 233.9h0M207.4 190.7h0M154.3 196.5h0M202.8 221.8h0M187.7 215.9h0M225.7 208.5h0M230.4 224.4h0M265.7 228h0M153.9 207h0M165.4 245.7h0M214.5 231.3h0M280.8 246h0M154.4 216.8h0M263.8 221.8h0M254.3 215.5h0M282 224.2h0M165.3 231.1h0M299.7 228.3h0M254.8 247.1h0M233.7 220.6h0M203 220.5h0M230.4 215.9h0M205.1 221.8h0M193.9 237.1h0M232.4 193.1h0M200.5 223.2h0M174.8 195.3h0M237.7 226.4h0M225.1 200.9h0M238.5 190.6h0M272.8 226.1h0M318.8 200.4h0M320 214.4h0M275.4 199.1h0M266.9 205.8h0M205.8 188.6h0M294.9 236.8h0M269.5 177.6h0M233.5 199.9h0M191.4 202.1h0M282.2 197.1h0M171.5 233h0M248.5 188.1h0M187.2 237.5h0M215.5 211.9h0M232.4 227.2h0M212.7 215.2h0M241.7 189.4h0M284.7 239.7h0M238.8 211h0M230.4 193.4h0M322.2 189.5h0M172.9 191.9h0M266.3 246.2h0M211.2 184.4h0M202.5 220.4h0M214.9 224.3h0M197.7 190.4h0M174.7 191.8h0M220.8 242.6h0M255.9 189.1h0M253.8 230.6h0M220.5 232.1h0M217.2 198.2h0M214.2 220.2h0M254.7 217.3h0M195.7 204.2h0M278.5 220.4h0M211.4 209.7h0M210.6 226.6h0M167.7 198.2h0M239.2 213h0M308.1 237.6h0M186.2 217.1h0M259.9 204.4h0M150.7 220.6h0M231.4 208.8h0M199.5 202.9h0M283 201.3h0M264.1 205.1h0M200.7 203.2h0M306.3 216.7h0M193.6 214.4h0M215.9 235h0M232.3 220.3h0M287.7 247.6h0M301.4 235.9h0M320.3 213.9h0M203.6 216.9h0M252.8 205h0M290.7 217h0M222.2 215.5h0M185.7 220.6h0M209.6 200h0M157.4 237.7h0M246.6 201.5h0M222.1 214.3h0M228.3 215.9h0M203.6 201.5h0M287.9 206.1h0M276.4 245.1h0M188.7 232.1h0M228.9 196h0M221 214.9h0M229.3 223.2h0M180.9 216.4h0M246.9 234.4h0M263.9 203.2h0M313.5 214.1h0M195 215h0M208.9 180.1h0M248.8 194.8h0M259.5 206h0M263.9 219.1h0M204.1 189.1h0M242.4 219.2h0M250.7 212.2h0M234.7 194.3h0M208.4 228.4h0M224.1 196.5h0M242.2 220.4h0M283.8 222.4h0M226.2 190.2h0M283 200.6h0M162.5 213h0M216.2 206.8h0M185.3 209.5h0M180.4 216.8h0M170.6 214.7h0M225.4 226.7h0M316.1 215.3h0M245.3 198.5h0M229.2 228.9h0M272.1 217.6h0M293.2 224.1h0M272.9 213.1h0M314.6 234.8h0M153.1 195.6h0M231.5 220.4h0M206.6 202.4h0M251.4 225.7h0M291 230.9h0M239.5 207.3h0M238.1 242.6h0M218 211.7h0M198.7 241.4h0M238 226.6h0M228 218.5h0M258.1 219.5h0M273.9 203.6h0M230.3 178.8h0M269.6 213.7h0M204.6 175.4h0M235.7 210.1h0M277.3 186.4h0M224.6 212.7h0M241.1 217.2h0M174.8 207.1h0M309.3 238.6h0M214 221.9h0M203.7 208h0M243.3 229.4h0M241.2 207.1h0M238.2 226.9h0M199.7 190h0M211 221h0M222.4 211.8h0M176.9 187.2h0M261.3 234.8h0M158.1 220h0M229.2 199.9h0M184.3 221.5h0M220.4 227.6h0M261.4 210.7h0M279.8 215.3h0M239.3 193.6h0M186.2 219.7h0M293 221h0M209.6 204h0M269.1 193.4h0M184.2 191.4h0M231.8 202.2h0M289.4 191.7h0M240.5 183.1h0M220.6 172h0M227.2 232.7h0M227.3 205.2h0M221.7 240.3h0M279.5 217h0M198.5 176.8h0M243.2 230.9h0M216.3 203.5h0M310.4 218.4h0M299 227.3h0M281.4 230.4h0M276.2 203.6h0M283.3 204.7h0M233.4 201.1h0M270 217.8h0M167 196h0M252.3 224.7h0M225 230.8h0M188.6 242.8h0M183.8 240.9h0M175.3 179.5h0M193.8 234h0M246.1 228.9h0M180 247.5h0M279.4 203.3h0M210.4 230.3h0M187.3 207.1h0M309.2 214.6h0M196.6 235.9h0M226.1 235.5h0M271.3 219.8h0M220.2 230.2h0M219.7 208.4h0M215.4 239.5h0M173.6 210.6h0M253.3 229.8h0M246 223.4h0M245.8 217.1h0M264.6 197h0M300.5 237.6h0M267.5 216.1h0M232.1 183.1h0M170.4 213.6h0M205.2 207.3h0M196.3 238.5h0M294.5 202h0M255.9 230.1h0M191.7 204.5h0M228.7 218.4h0M200.2 228.4h0M237.2 246.3h0M228.9 201.2h0M172.4 198h0M185.7 202.2h0M235.3 231.7h0M211.6 237.2h0M207.7 222.7h0M173.8 248.6h0M258.6 208.7h0M249.3 229.4h0M269.9 216.3h0M180.1 195.4h0M263.2 237.7h0M188.1 190.9h0M203.7 185.2h0M257.6 221.5h0M227.8 194.5h0M215.9 184.9h0M246.6 184.7h0M209.5 195.9h0M255.8 199.6h0M199.8 238.2h0M267 214.4h0M230.4 225h0M204 197.5h0M191.3 218.6h0M193.7 235.6h0M265.7 235.2h0M270.6 235h0M186.6 216.5h0M241.5 240.4h0M280.8 211.9h0M172.2 230.5h0M152.3 216.6h0M262.7 206.5h0M181.7 215.7h0M170.1 223.5h0M249.9 231.1h0M237.4 237.4h0M220 231.5h0M298.9 206.8h0M227.3 224.3h0M192.6 195.7h0M222.8 213.4h0M168.4 194h0M170.6 204.1h0M207.5 231.5h0M233.8 191.1h0M196.1 214.9h0M249.3 215.1h0M198.2 209.2h0M169.9 199.7h0M278.4 219.1h0M226.5 204.4h0M278.6 217.1h0M204.5 178.4h0M260.6 240.8h0M291.5 191.2h0M199.7 198.4h0M241.4 231.9h0M198.5 209.4h0M225.3 201.6h0M212.4 206.4h0M197.1 177.7h0M274.8 202.8h0M259.6 211.1h0M205.3 226.2h0M223.5 220.3h0M194.7 236.7h0M236 194.3h0M299.7 202.1h0M230.7 177.9h0M185.8 242.8h0M196.7 217.9h0M199.5 188.6h0M308.4 225.5h0M248 214.5h0M283.6 208.9h0M279.5 207.6h0M168.7 224.1h0M224.9 229.8h0M211.9 200.9h0M275.3 218.6h0M298.2 196.2h0M274.2 233.8h0M212 208.7h0M189.8 186.5h0M206 224.5h0M192.4 179.5h0M233.4 204.6h0M223.8 203.1h0M247.3 224.8h0M248.6 191.3h0M265.6 215.1h0M211.1 228.5h0M284.3 188.5h0M228.4 192.8h0M230.2 236h0M293.1 236.8h0M188.7 200.8h0M253.6 208.3h0M220.2 209.1h0M233.8 245.1h0M243.2 234.6h0M207 227.7h0M216.4 199.8h0M167.8 236.6h0M297.9 229.5h0M186.6 216.6h0M208.6 220.5h0M288.6 239.1h0M219.7 229.5h0M256.2 242.9h0M215.2 190.1h0M287.2 219.3h0M210.3 222.3h0M234.4 195.7h0M267.1 196.6h0M277.5 222.6h0M220.9 223.3h0M209.8 203.1h0M266.7 219.4h0M198.5 188.9h0M241.5 234h0M186.8 239.5h0M304.9 210.6h0M173.4 201.2h0M249.1 212.2h0M249.7 220.6h0M226.4 197.4h0M194.4 203.2h0M191.9 217.5h0M307 201h0M297.4 225.8h0M279.7 208.4h0M246.7 220.6h0M191 211.4h0M166.5 206.9h0M175.8 226.9h0M184.7 201.2h0M203.2 214.5h0M226.2 245.7h0M257 212.4h0M285.8 223h0M247.8 243.1h0M314 232h0M210.5 229.6h0M223 224.3h0M215.3 226.7h0M288.9 220.6h0M276.6 186.9h0M212.4 213.3h0M200.5 220.1h0M256 239.2h0M185.2 220.2h0M262.3 207.3h0M271 199.5h0M262 202.7h0M226.9 220.5h0M243.8 233.7h0M232.2 226.1h0M210.9 217.7h0M215 238.4h0M194.6 198.3h0M243.8 194.5h0M275.3 190.4h0M218.8 210.4h0M220 230.7h0M304.2 187.1h0M214.5 187.1h0M241.7 218.8h0M282 226.3h0M291.1 231.9h0M225 227.9h0M270.2 181.7h0M181.3 219.2h0M284.6 234.1h0M234.5 174.3h0M273.4 183.3h0M266 223.8h0M163.3 207.1h0M193.6 194.7h0M225.2 196.2h0M273.8 220.4h0M168.8 200.9h0M185.9 230.2h0M275.8 193.9h0M187.6 218.7h0M272.9 227.7h0M292.4 212.2h0M167.7 222.9h0M243 237.5h0M238.1 240.4h0M150.4 214.2h0M238.6 197.1h0M297.9 214.4h0M214.2 223.7h0M280.7 217.9h0M207.1 205.6h0M273.4 232.5h0M259.4 226.2h0M159.2 216.3h0M197 241.8h0M225 225.9h0M255.3 188.3h0M192.1 188.5h0M218.3 215.4h0M271.3 236.2h0M228.8 211.5h0M224.2 171.9h0M156.3 191.1h0M155.9 218.1h0M294.5 220h0M234.8 180.7h0M279.2 206.4h0M311.7 225.9h0M242.8 212.7h0M191.3 174.8h0M214.9 242.3h0M196.7 205.2h0M254.6 211.7h0M273.5 245.3h0M241.2 193.2h0M257.5 206.4h0M236.1 221.7h0M257.2 201.5h0M193.6 201.3h0M199.1 211.8h0M298.4 240.9h0M194.3 222.3h0M221.4 214.4h0M234.7 197.8h0M218.8 230h0M310.8 224.8h0M192.9 184.7h0M186.8 229.9h0M252.2 200.3h0M191.9 219.5h0M283.7 187.3h0M308.6 247.5h0M230 218.7h0M236.5 211.5h0M247.5 206.4h0M242.9 210.6h0M287.7 237.6h0M176.6 195.7h0M279.5 234.3h0M288 186.6h0M279.7 191h0M259.3 194.2h0M171.5 220.4h0M249 204.4h0M238.1 226.1h0M245.5 220.2h0M173.5 214.5h0M197.6 193.5h0M213.7 216.9h0M201.3 233.5h0M292 214.2h0M194 192.5h0M183.6 195.6h0M262.3 225.1h0M251.1 236.2h0M250 219.9h0M235.2 208.8h0M271.5 220.8h0M192.2 230.9h0M168.2 198.3h0M269.1 209h0M190.9 221.9h0M259.9 239.6h0M256 204.6h0M246.7 223.1h0M220.6 208.4h0M268.7 213.3h0M174.7 224.6h0M162.1 195.5h0M211.2 242.3h0M273 193.7h0M303.2 231.4h0M287.4 232.7h0M180.6 189.8h0M252.2 208h0M237.4 217.8h0M290.9 213.6h0M156.3 193.1h0M252.1 232.5h0M210.4 201.1h0M233.5 195.6h0M183.4 203.5h0M253.5 201.4h0M174.2 207.1h0M239.1 227.7h0M179.8 228.7h0M267.2 194.3h0M182.6 216.3h0M276.4 220.2h0M244.6 187.5h0M303.7 188.9h0M237.4 198.2h0M232.2 235.3h0M222.2 219.3h0M260.9 244.7h0M246.2 209.8h0M252.4 229.2h0M261.2 195.9h0M218.3 242.6h0M228.6 190h0M164.4 196.3h0M170.9 207.1h0M291.9 205.2h0M160.8 188.9h0M269.1 228.3h0M203 238.8h0M247 189.7h0M159.1 202.7h0M190.8 239h0M242.2 193.7h0M236.3 212.3h0M178.5 194.5h0M228.3 207.1h0M168.3 212.8h0M261.4 225h0M229 210.9h0M221.7 218.4h0M190.3 195.1h0M257.1 223h0M213.9 230.5h0M172.2 217.7h0M231.4 219.6h0M323.6 230.6h0M209.8 221.5h0M218.7 212.6h0M237.7 242.7h0M222.6 222.1h0M215 203.5h0M266.5 212.9h0M255.4 230.2h0M269.8 177.6h0M248.1 202.6h0M187.8 230.7h0M245.2 192.6h0M325 214.1h0M236.9 182.8h0M310.3 203.6h0M183.6 203.8h0M223.9 211.8h0M219.8 209.9h0M251.6 209h0M221.4 248.6h0M253.6 226.8h0M256.1 214.7h0M265.4 217.3h0M255.7 188.3h0M265.9 195.7h0M154.8 232.6h0M174.8 243h0M216.1 211.5h0M290.3 220h0M288.3 222.9h0M235.2 198.6h0M215.8 198.2h0M239.5 223.7h0M175 200.3h0M195.1 209.8h0M260.1 223.4h0M267.9 201.6h0M212.9 208.5h0M236.9 223.4h0M273.5 215h0M210.3 221h0M232.7 217.3h0M180.6 230.8h0M228.7 220.7h0M214 196.7h0M173.5 194.3h0M234.8 208.1h0M169.5 195.8h0M249.7 190.1h0M232.9 179.9h0M251.6 203.1h0M269.7 225.4h0M286 228.8h0M267.5 233.1h0M197.4 236.9h0M226.9 224.9h0M185.1 235.3h0M252.4 219.3h0M169.2 209.8h0M269.8 209.1h0M191.8 234.5h0M296.7 231.7h0M261.8 179.9h0M202.4 204.8h0M268.2 232.3h0M226.5 212h0M278.8 231.8h0M239.6 244.5h0M302.8 210.4h0M314.5 207.1h0M203.2 189.7h0M257.8 210.6h0M246.4 176.9h0M299.3 216.6h0M184 214.9h0M226.3 223.9h0M237.9 212.4h0M197.1 207h0M304.4 193.2h0M207.3 226.2h0M286 219.9h0M276.5 246h0M179.1 214.4h0M257.3 221.7h0M246.4 227.1h0M267.8 227.9h0M180.7 209.5h0M186.6 227.9h0M282.1 223.1h0M230.6 212.5h0M181.6 177.7h0M219.3 231.6h0M250.9 219.5h0M208 196.2h0M310.6 224.5h0M273.9 192.4h0M200.8 226.6h0M271.3 220.5h0M266.4 217.8h0M215.1 224.9h0M269.5 183.7h0M245.6 188.8h0M167.5 180.8h0M260.5 188h0M241.7 216h0M183.2 225.8h0M236 205.3h0M179.1 223h0M174.9 191.9h0M163.6 199.2h0M312 194.8h0M269.2 200.6h0M252 236.2h0M176.3 218h0M192.9 172.4h0M260.7 219h0M238.2 235.2h0M230.8 218.9h0M248.6 228.6h0M197.4 210.9h0M239.4 213.9h0M223.7 197.7h0M245.5 202.3h0M264.9 210.3h0M201.9 184.9h0M309.7 195.2h0M273 172.2h0M287.8 246.9h0M275.3 240.5h0M229.7 235.8h0M232.7 226.2h0M217.2 225.9h0M249.1 201.5h0M248.2 219.8h0M212.4 191.8h0M215.2 183.7h0M304.1 214.5h0M217.1 197.5h0M317.2 190.6h0M196.9 229h0M216.2 188h0M252.3 248.4h0M216.3 218.1h0M226.4 210.8h0M191 225h0M308.7 202.5h0M279.1 233.5h0M214.7 203.9h0M222.6 212.8h0M229.1 189.4h0M231.2 222.4h0M197.2 190.4h0M233.4 198.5h0M163.3 235.9h0M205 206.4h0M292.9 236.8h0M263.7 197.7h0M238.4 220.3h0M161.6 208.5h0M278.5 227.3h0M198 232.2h0M192.2 203.8h0M224.3 202.5h0M230.7 193.2h0M179 201.7h0M311.2 218.8h0M168.9 210h0M240.8 237.5h0M193.3 226.2h0M271.1 207.4h0M222.2 217.9h0M218.1 229.2h0M214.2 223.4h0M224.5 233.6h0M183.5 221.2h0M191.6 194.1h0M186.5 219.4h0M166.5 213.2h0M268.7 179.9h0M257 227h0M164.9 188.7h0M152.3 227.2h0M232.6 215h0M172.3 241.2h0M255.6 243.6h0M205.7 200.6h0M251 207.6h0M262.7 239.5h0M234.5 211.7h0M220.9 203.3h0M180 212.7h0M231.2 195.8h0M243.4 199.2h0M278.5 210.1h0M257.3 231.3h0M304.7 204.9h0M225.7 224.5h0M207.4 186.5h0M266 230.4h0M262.4 190.6h0M300.2 209.8h0M263 237.2h0M226 226.4h0M274 188.7h0M273.4 232.5h0M285.9 209.9h0M215.1 213.7h0M282 213.9h0M196.9 211.4h0M282.6 208.6h0M184.7 186.5h0M258.2 194.2h0M274.5 189.3h0M204.8 235.3h0M177.9 207.4h0M213.2 197.6h0M281.5 180.5h0M275.3 245.7h0M259 232.5h0M236.7 211.1h0M269.2 213.8h0M273.9 195.3h0M232.7 192.7h0M149.7 221.6h0M268.8 220.6h0M191.3 240.9h0M300 202.7h0M290.4 248.4h0M320.5 211.4h0M281.6 234.2h0M222.7 191.8h0M208.2 238.8h0M196.7 201.6h0M228.4 228.7h0M256.8 225.4h0M151.5 204.3h0M209.7 233.2h0M275.6 246.3h0M239.5 230.8h0M261.5 210.1h0M234.4 230.1h0M315.9 188h0M191.8 240h0M174.5 193.1h0M222.2 206.8h0M225.6 205h0M244.9 208.8h0M257.3 237.9h0M255.6 199.2h0M214.8 223.3h0M221.3 200h0M232.2 219.6h0M235.8 227.9h0M261.2 225h0M265.7 195.7h0M289.2 203.4h0M173.8 217.4h0M225.5 202.8h0M232.3 244.5h0M204.4 196.3h0M152.2 231.3h0M250.6 223.5h0M192 186h0M225.7 230.7h0M200.2 194.8h0M255.6 217.5h0M270 228h0M315.2 221.3h0M197 196h0M233.5 227.6h0M284.6 207.3h0M220.9 237.2h0M198.8 213.4h0M320.4 235.3h0M263.5 187h0M161.5 217.6h0M292.2 220.9h0M255.7 180.6h0M250.7 195.6h0M247.7 228.3h0M173.2 228.6h0M233.1 229.2h0M269.7 194h0M159.8 228.8h0M175.4 179.5h0M214.3 223.1h0M300.1 228.5h0M229.5 221.6h0M171.9 210.7h0M270.2 207.5h0M223.8 205.9h0M214.7 225.1h0M218.3 186.9h0M221.8 217.1h0M199.8 215.2h0M202 214.8h0M172 190.1h0M227.2 212.2h0M272 215h0M275.4 219.1h0M277.6 226.5h0M214.9 193.8h0M217.4 196.8h0M256.3 205.2h0M202.3 233.3h0M179.5 177.2h0M216.9 188.9h0M209.2 205.6h0M260.6 206.1h0M302.6 199.5h0M220.1 225.4h0M253.2 186.9h0M252.7 205.3h0M251.3 227.3h0M155.5 214h0M220.6 222.9h0M184.4 218.1h0M197.6 214.4h0M237.9 218.2h0M265.7 217.9h0M237.7 236.2h0M282 180.3h0M276.2 192.8h0M228.8 235.4h0M215.2 228.5h0M241.9 208.6h0M268.4 213.9h0M251.3 189.2h0M238.3 247.4h0M184.7 195.6h0M250.9 194.6h0M186.9 185.4h0M292.6 200.8h0M286.9 223.9h0M295 197.2h0M277.2 245.5h0M235.6 206.1h0M274.7 236.3h0M237.4 219.8h0M300.5 179.4h0M271.1 212.4h0M254.2 214.1h0M240 197.5h0M230.4 197.5h0M233.7 195.6h0M219.9 214.6h0M251.3 215.5h0M272.1 216.4h0M210.7 184.7h0M266.4 227h0M241.3 227.5h0M221.3 226.6h0M306.1 221.2h0M221.2 223.8h0M256.8 202.1h0M272.1 217.1h0M246.3 204.8h0M298.9 215.3h0M272.9 183.1h0M240.5 185.8h0M294.5 248.3h0M275.5 225.2h0M311.6 203.2h0M226.1 209.4h0M195.5 210.6h0M252.9 211.3h0M202.5 213.5h0M217.6 207.5h0M189.6 206.6h0M253.2 218.3h0M204.3 205.6h0M259.1 204.9h0M320.7 185.9h0M289.6 219h0M170.6 225.3h0M248.2 214.5h0M273.1 201.3h0M185.9 238.3h0M226.8 224.6h0M250.8 217.2h0M264.3 214.8h0M223 195.2h0M263.9 208.6h0M255 227.1h0M225.5 217.4h0M190.3 227.5h0M188.9 188h0M255.1 204h0M272.2 209.5h0M228.8 203h0M272.2 196.1h0M228.1 227.7h0M262 214h0M308 245.9h0M243.6 212.9h0M233.9 172.5h0M248.3 207.4h0M255.5 209.6h0M264.1 232.7h0M265.5 197.4h0M240.8 213.9h0M302.6 200.2h0M262.2 211.1h0M273.4 233.2h0M257.6 244h0M170.9 174h0M235.2 241.3h0M306.3 211.1h0M163.9 225.4h0M204.5 245.1h0M197.7 207.8h0M269 237.7h0M243 234.3h0M162.6 242.5h0M213 212.4h0M268.2 217.4h0M176.8 203.9h0M168.1 207.8h0M218.6 237.5h0M253.7 202h0M253 216h0M174.2 219.9h0M236.1 226.8h0M168.8 188.4h0M203.4 185h0M279.3 218.6h0M180.6 211.9h0M251.8 205.6h0M316.7 214.5h0M206 198.5h0M163.9 181.2h0M180.3 223.1h0M187.5 222.2h0M316.2 210.8h0M209.3 222.8h0M262.2 219.9h0M187.6 195.9h0M264.7 208h0M258.4 188.2h0M231.7 238.7h0M258.9 196.9h0M277.9 181.2h0M229.4 202.9h0M226.4 212.2h0M246.8 223h0M254.5 234.4h0M246.5 234.5h0M206.8 220.5h0M182.4 229h0M247.5 207.9h0M280 203.7h0M270 225h0M249.8 197.9h0M297.1 184.8h0M277.7 194h0M232.7 181.4h0M319.7 181.2h0M285 214.6h0M175.8 185.7h0M243 206.9h0M255.5 202.9h0M226.4 199.2h0M258.3 202.4h0M277.9 228.7h0M220 224.7h0M194.9 183.8h0M204.3 201.9h0M205.6 217.9h0M323.9 221h0M178.7 205.3h0M159.9 227.6h0M253.7 186.3h0M238.6 180.6h0M286.5 178.1h0M197.2 215.1h0M241.3 196.4h0M253 220.4h0M247.2 213.7h0M284.9 206.3h0M279.9 209.4h0M187 217h0M236.3 244h0M202.7 234.2h0M297.8 238.6h0M312.3 220h0M236.2 221.2h0M218.1 217.5h0M181.4 238.6h0M256.6 215.9h0M217.4 212.9h0M190 195.2h0M175.8 234.8h0M188.1 200.2h0M289.5 205.5h0M217.4 230.1h0M223.9 218.8h0M308.3 199.9h0M282 190.9h0M258 209.4h0M243.3 211.8h0M269.7 212.5h0M271 234.3h0M180.9 184.8h0M236 221.6h0M226.5 229.7h0M265 192.8h0M293.7 228.3h0M214.5 185.5h0M268.5 219.2h0M177 205.7h0M231.7 194.1h0M232.6 193.7h0M267 240.6h0M205.1 209.4h0M267.8 231.9h0M196.6 185.3h0M243.8 217h0M263.4 229.5h0M203.4 226h0M257.2 246.8h0M205 201.4h0M181 223.3h0M185.9 234.8h0M229.9 220.2h0M246.4 217.9h0M262.1 190.9h0M202.5 204.3h0M174.2 209.6h0M233.3 225.2h0M277.6 227.4h0M216.6 190h0M268 232.8h0M289.1 228.5h0M286.8 213.4h0M179.3 205.6h0M231.2 237.9h0M202 220.7h0M174.3 225.4h0M193.9 241.1h0M284.3 201.9h0M272.1 190.2h0M281.9 207.9h0M254.6 221.4h0M271.7 215.3h0M238.1 226.6h0M243.5 224.7h0M184.2 205.2h0M247.3 175.9h0M202.6 228.1h0M186.1 229.2h0M197.1 208.4h0M282.6 198.7h0M205.3 215.2h0M197.4 232.8h0M288.2 188.1h0M261.7 216.7h0M224.9 233.7h0M254.9 207.2h0M254.7 228.7h0M239.3 225.3h0M185.7 234.7h0M234.6 193.4h0M204.9 217.1h0M257.3 248.6h0M189.7 233.3h0M263.8 236.9h0M276.7 241.8h0M224.8 212.6h0M317.6 241.8h0M215 210.3h0M272.4 221.4h0M267 210.7h0M296.5 187.7h0M290.8 223.9h0M238.6 219h0M275 198.2h0M263.9 218.2h0M192.4 245.7h0M249.5 197.7h0M201.7 230.1h0M207.4 228h0M211.2 213h0M237.9 208h0M292.3 215.5h0M183.8 214.6h0M244.5 227h0M268.9 222.2h0M284.1 229.4h0M234 211h0M240.8 198.3h0M289.7 213.6h0M228.9 219.7h0M250.4 200.5h0M230.1 215.4h0M225.7 207.1h0M238.1 217.1h0M207 244.6h0M226 220h0M307.3 214.5h0M246.7 185.5h0M271.5 190.1h0M189 227.3h0M279 211.6h0M310.3 211.6h0M206.8 221.4h0M215 181.3h0M208.6 215.4h0M171.3 226.9h0M284 199.5h0M179.5 203.3h0M243 193.6h0M253.2 218.2h0M222.6 246.9h0M275.1 211.1h0M274.8 191.2h0M272 186.3h0M253.9 207.4h0M303.9 205.1h0M240.2 217.2h0M190.2 244.6h0M303.7 221.3h0M173.9 214.4h0M202.6 209.3h0M228 227.8h0M188.1 229.5h0M313.4 247.5h0M221.3 210.6h0M231.6 225.1h0M208.9 200.3h0M197.7 225.2h0M296.8 246.3h0M261.4 224h0M293.3 223.9h0M219.7 186.2h0M241.4 189h0M298 204.2h0M226.6 248h0M269.8 231.6h0M243.5 220.8h0M170.5 188.3h0M227 228.1h0M207.5 190.1h0M177.4 201.1h0M286.4 221h0M277.1 210.4h0M265.8 208.9h0M252.2 227.5h0M150.3 219.1h0M236.7 179.7h0M157.2 187.1h0M259.3 203.2h0M241.9 218.8h0M223.9 226.6h0M200.8 212.5h0M219.3 211.6h0M237.8 233.2h0M260.5 190.1h0M306.5 203.6h0M287.3 208.6h0M242.9 229.4h0M308.4 205.8h0M155.9 205.8h0M239.9 210.4h0M248 222.1h0M213.8 221.1h0M224.9 195.8h0M238.6 185.5h0M225.2 217.3h0M219.5 221.3h0M230 248.4h0M279.1 201.3h0M202.7 188.7h0M208 216.8h0M285 191.3h0M234.3 208.7h0M229.6 198h0M243.2 236.9h0M218.2 238.7h0M245.5 225.7h0M309.7 225.7h0M210.8 215.4h0M210.2 225.1h0M196.8 244.8h0M184.3 243h0M164.7 210.4h0M293.6 213.2h0M266.8 213.2h0M204.5 187.4h0M313.6 221.1h0M183.2 229.5h0M181.6 188.4h0M287.6 222.5h0M296.8 204.5h0M191.7 221.9h0M228.2 222.7h0M272.7 245.1h0M240 242h0M212.8 247.3h0M241.9 193h0M195.2 195h0M246 237h0M268.2 242.7h0M305.5 231.3h0M153.7 228.3h0M219.7 212h0M231.3 194.9h0M259.3 220.9h0M172.4 233h0M277.8 208.7h0M317.2 207.1h0M203.4 231.5h0M252.8 212.2h0M246.9 215.7h0M270.3 196.3h0M263.4 178.5h0M165.8 195.6h0M186.9 207h0M245.5 196.5h0M195.7 224h0M154.6 201h0M226.8 212.4h0M290.2 225.6h0M213.9 213h0M250.2 221h0M227.3 230.2h0M216.5 189.8h0M267.8 227.2h0M167.1 217.5h0M195 225h0M255.1 217.2h0M213.5 179.4h0M231.2 191.5h0M240.3 205.2h0M240.7 209.3h0M191.2 202.4h0M174.4 234.2h0M243.2 189.7h0M221.9 212.3h0M241.4 217.5h0M203.9 225.6h0M249.6 230.2h0M256.5 220.1h0M197.5 187.1h0M292.6 220.3h0M275.3 220.8h0M234.4 228.7h0M254.6 228.5h0M267.8 228.4h0M252.1 175.5h0M236.9 241.6h0M229.1 233.5h0M309.1 224.3h0M211.5 224.9h0M190.5 213.9h0M216.9 206.9h0M292.1 246.4h0M265.1 215.3h0M194.7 210.8h0M269.3 241.1h0M216.5 243.1h0M188.5 198.6h0M219.4 219.8h0M249.5 214.4h0M264.9 232.6h0M290.3 205.4h0M226.1 223.4h0M242.2 244.1h0M233 223.3h0M231.8 213.2h0M232 230.2h0M243.1 241.3h0M206.4 205.8h0M255.6 193.9h0M226.6 217.5h0M193.5 221h0M256.5 203.6h0M261.3 248.5h0M299.5 204h0M206.3 236.9h0M158.5 194.5h0M222.2 236.1h0M182.4 242.7h0M222 235h0M243.7 217.2h0M212.6 232.7h0M270.8 231.5h0M236.3 242.9h0M246.1 231.4h0M300.6 208.7h0M232.6 201.9h0M186.7 226.9h0M239 227.5h0M300.2 218.1h0M189.7 207.7h0M191.4 187.9h0M232.1 244.5h0M244.7 201.8h0M247.1 205.7h0M236.5 231.8h0M196.5 206.8h0M279.7 239.6h0M251.3 218.3h0M265.1 207.2h0M176 187.4h0M313.2 211.1h0M276.8 188.1h0M262.7 202.3h0M220.9 185.1h0M246.2 208.3h0M247.7 184.4h0M216.7 224.8h0M282.9 234.6h0M257.5 223.5h0M233 212.1h0M212.1 197h0M180.5 188.4h0M188 244h0M263 237.4h0M299.8 210.3h0M203.4 215.2h0M225.7 226.7h0M186.1 229.2h0M239.7 219.4h0M187 201.3h0M218.1 221.5h0M267.4 225.1h0M251.3 209.1h0M251.2 220.7h0M293.6 224.5h0M150.2 205.8h0M255.3 203h0M155.7 227.3h0M177.6 223.6h0M247.3 216.8h0M217.3 225.8h0M201.9 221.1h0M206.2 210.3h0M276.7 198h0M202.5 233.8h0M269.6 199.4h0M228 223.7h0M291.9 216.2h0M222.4 200.8h0M263.6 215.7h0M272.7 227h0M162.7 218.9h0M219.7 213h0M203.3 203.5h0M252.3 194.6h0M195.3 199.8h0M203.3 225.9h0M241.8 190.5h0M229.5 199h0M154.6 221.6h0M202.8 220.5h0M171.6 219.3h0M218.4 206.2h0M270.4 233.6h0M263.2 206.4h0M259 202.8h0M221.2 202.3h0M270.9 200.5h0M247.5 210.8h0M181.5 202.7h0M239.1 217.9h0M184.1 229.3h0M187.3 227.9h0M267.9 225.3h0M196 195.5h0M204.8 246.3h0M245.5 216.9h0M233.8 217.8h0M236 209.7h0M148.6 207.8h0M243.6 177.9h0M261.7 241.1h0M213 213.7h0M246.6 206.9h0M187.1 218.2h0M229.2 224.7h0M222.8 216.4h0M266.7 213.6h0M262.9 237.6h0M229.9 199h0M317.6 205.7h0M225.2 216.7h0M225.3 230h0M256 202.9h0M227.9 183.2h0M171.9 228.3h0M269.7 192.7h0M217.9 191.7h0M291.7 184.6h0M165.2 223.5h0M323.5 229.4h0M237.3 215h0M233.3 222h0M193.5 191.5h0M284.4 230.2h0M207.3 219.3h0M239.8 225h0M212 200.9h0M227.8 214.1h0M222.4 185.7h0M324.8 193.5h0M310.3 228.3h0M297.8 205.1h0M197 201.6h0M209 230.6h0M255.7 188.1h0M190.3 239.2h0M233.3 203h0M257.2 225.7h0M241 202.2h0M201.4 172.8h0M182 211.4h0M243.5 198.1h0M196.3 223.6h0M235.6 204.9h0M216.2 195.5h0M251.5 235.7h0M223.2 198h0M230.7 216.1h0M245.2 208.9h0M198.8 215.3h0M222 210.4h0M278.5 234.8h0M218.8 212h0M185.7 189h0M220 193.7h0M284.5 229.3h0M191.2 226.4h0M251.6 218.3h0M180.3 208.7h0M207.7 210.9h0M236.7 222.8h0M245.3 200.6h0M273.7 231.8h0M311.9 191.3h0M277 222.9h0M224.9 243.8h0M277.3 197.6h0M242.2 204.8h0M262 237.9h0M189.4 200.3h0M257.4 191.6h0M248.3 184.2h0M199.4 208.5h0M191.4 190.7h0M232.8 221.5h0M195.7 212.4h0M293.4 179.2h0M293.8 227.6h0M247.3 213.3h0M191.8 238.3h0M217 202.8h0M272.8 219.8h0M260.9 208.5h0M170.8 212.6h0M228.9 227.8h0M153.1 203.6h0M257.1 240.2h0M170.7 210.8h0M209.9 246.3h0M257.3 199.1h0M233.5 238.6h0M203.1 188.7h0M179.7 192h0M184.8 213h0M267.9 216.3h0M151.5 205.4h0M289 203.1h0M197.7 208.8h0M251.8 199.9h0M223.9 196.7h0M278.4 232.5h0M236.6 217.4h0M182.7 202.1h0M298.3 176.6h0M201.6 226.8h0M239.9 235.5h0M238.5 210.1h0M293.8 201.2h0M188.3 210.1h0M242.7 240.3h0M228.7 227.9h0M160.7 212h0M255.8 222.8h0M208.2 212.8h0M199 204.6h0M307.6 235.8h0M266.1 192.5h0M273.9 209.3h0M229.3 196h0M206.4 231h0M251.2 205.7h0M207.6 175h0M202.1 178.2h0M171 197.6h0M190.3 247.4h0M187.3 186.3h0M288.7 206.8h0M230.7 229.7h0M177.5 187h0M239.6 233.9h0M214.5 192.9h0M298 226.4h0M299.3 230.3h0M288.1 219h0M205.2 211.6h0M215 224.4h0M325.3 206.1h0M155.6 189h0M271.5 215.6h0M302.2 226.5h0M181.4 231.4h0M205.6 234.8h0M225.2 216.3h0M252 208.1h0M272.2 233.7h0M297.3 212.4h0M213.4 218.3h0M229.4 173.7h0M227.6 200.5h0M158.5 184h0M320.1 209.7h0M249.4 246.9h0M256.7 192.3h0M325.7 228.1h0M255.5 196.4h0M234.5 238.8h0M322.8 187.4h0M315.2 210.1h0M211.1 211.7h0M211.8 221.4h0M260.4 219.1h0M228.3 199.1h0M262 222.1h0M194.9 227h0M282.9 191.8h0M280.7 209.1h0M296.4 205.6h0M302.5 230.5h0M163.6 198.6h0M270.8 195.5h0M173 205.5h0M202.6 218.6h0M247.2 213.8h0M171 203.2h0M197.5 182.1h0M195.7 217.4h0M251.3 231h0M276.5 221.7h0M253.7 211.1h0M245.7 233h0M215.9 203.6h0M219 204.8h0M264.1 229.1h0M253.1 227.2h0M255.9 197.3h0M232.7 235.2h0M166.3 206.7h0M288.6 189.2h0M261.4 231.7h0M183.6 239h0M215.1 217.4h0M196.4 229.2h0M294.5 187.6h0M210.4 242.4h0M275.6 220.3h0M231.4 198.3h0M230.4 216.8h0M212.1 209.1h0M201.7 218.2h0M248.9 212.9h0M230.6 231.2h0M301.3 202.8h0M275.6 176.9h0M273 230.3h0M294.1 238.5h0M170.1 175.9h0M231.2 204.5h0M243.4 229.6h0M234.1 242.4h0M180.1 199.7h0M235.6 246.8h0M270.3 187.6h0M291.6 213h0M310.4 234.3h0M314.1 224.6h0M203.6 184.4h0M195 210.4h0M174.3 214.5h0M203.5 244h0M240.6 216.8h0M233.9 188.2h0M200.5 231.6h0M213.1 229h0M175.9 244.5h0M225.7 199h0M164 201.4h0M278.2 234.3h0M249.7 210h0M149 218.5h0M149.1 199.5h0M206 210.3h0M317.4 203.2h0M150.2 194.2h0M275 213.8h0M238.3 201.2h0M202.3 220h0M210.4 239.1h0M157.8 226.7h0M168.6 190.7h0M206.6 211.7h0M240.9 223.1h0M277.3 224.9h0M281.7 238.9h0M262.2 198.4h0M300.4 201.8h0M212.9 182.4h0M231.6 227.7h0M222.2 226.1h0M263 208.5h0M150.2 213.8h0M218.6 213.7h0M224.3 215h0M225.1 194.4h0M189.7 217.2h0M261.9 175.3h0M247.6 200.9h0M243.1 238h0M247.2 197h0M235.3 202.8h0M192.3 220.1h0M242 198.3h0M255.8 207h0M258.6 232.4h0M193.7 228.5h0M270.5 191.6h0M201.7 202.6h0M267.8 233.1h0M241.5 192.1h0M221.1 209.5h0M286.7 182.2h0M232.7 219h0M256 223.9h0M277.2 205.9h0M303.6 197.4h0M213.8 236.2h0M310.2 229.7h0M244.5 237.6h0M293.5 244.3h0M168.8 232h0M275.9 242.6h0M267.1 232.1h0M194.9 229.2h0M268.5 213h0M219.3 208.1h0M211.5 208.4h0M256.3 211.4h0M206.9 204.8h0M242.3 216.8h0M272.8 183.8h0M282.8 226.4h0M258.3 222.1h0M199.7 219.5h0M202.9 214h0M180.9 213.9h0M245.5 182h0M297.5 205.2h0M267.9 214.5h0M254.6 229.9h0M172.4 212.9h0M196.7 226.9h0M264.4 187.4h0M232.9 218h0M265.1 237.9h0M256 213.9h0M223.1 245.2h0M238.8 198.6h0M227.1 218.6h0M250.2 246h0M218.1 230.8h0M202.2 207.8h0M316.7 222h0M284.6 217.9h0M210.9 223.2h0M245.4 221.4h0M198 224h0M277.3 197.5h0M213.8 231.5h0M221.8 237.2h0M298.9 183.1h0M229.7 223.1h0M201.5 224.7h0M279.8 204.7h0M195.1 226.6h0M258.1 197.1h0M318.5 212.4h0M253.2 223.4h0M232.9 227h0M255.2 204.7h0M193.2 220.4h0M208.9 233h0M196.5 176.7h0M241.3 202.3h0M298.5 248.3h0M288.8 237.1h0M197.2 220.2h0M280.1 217.4h0M222 208h0M292.5 236.7h0M238.7 242.8h0M283.3 221.5h0M235.5 247.6h0M271.8 223.3h0M258.9 194.1h0M206 225.2h0M211.3 213.8h0M232.6 218.6h0M245.3 187.3h0M269.6 216.5h0M231.7 199h0M187 243.7h0M267.8 239.3h0M255 217.8h0M304.4 209.2h0M296.2 207.8h0M257.2 217.8h0M239.7 235.7h0M224.2 221.8h0M211.3 179.3h0M168.2 220.2h0M284 226.3h0M246.3 197.1h0M221.4 245.1h0M253.1 197.1h0M211.4 215.8h0M245.3 200.5h0M249.5 228.5h0M158.6 234.2h0M216.1 223.6h0M206.3 219.2h0M240.5 211.5h0M287.3 231.6h0M197 214.8h0M281.3 233.9h0M293.5 204.8h0M209.5 231.7h0M254 225.2h0M158.5 223.2h0M240.1 232.3h0M265.2 202.9h0M223.2 218.1h0M223.5 233.9h0M251 200.6h0M240.9 216.5h0M266.7 207.1h0M286.6 225h0M225.4 214.6h0M220.2 206.2h0M273.8 183.3h0M221.6 199.3h0M270.1 214.9h0M284.5 222.3h0M190.7 210.8h0M180.8 219.6h0M221.4 224.5h0M202 206.7h0M278.4 232.4h0M286.9 219.3h0M200.3 200h0M168 202.7h0M267.4 210.7h0M217.1 211.5h0M239.8 222.7h0M307 188.5h0M277.4 225.5h0M215.4 246.1h0M273.9 215.2h0M260.3 225.6h0M226.4 220.9h0M168.6 192.6h0M284.9 200.8h0M223.6 232.9h0M234.5 237.6h0M239.4 194h0M216.3 227.5h0M269.4 184.9h0M234.4 188.5h0M205.4 214.8h0M231 230.9h0M167.7 210.7h0M233.9 245.5h0M238.4 214.6h0M150.8 205.8h0M323 233.2h0M264.5 177.8h0M196.1 185.3h0M289.2 245.1h0M280.4 203.4h0M283.9 244.5h0M190.6 214.9h0M228.1 212.4h0M196.1 193.1h0M269.3 222.1h0M301.3 204.1h0M284.6 209.5h0M212.1 228.4h0M319.5 212h0M272.4 230h0M205.5 228h0M285.4 201h0M296.4 179.9h0M203.6 223.2h0M195.4 212.6h0M217.2 206.3h0M250.4 204.4h0M160.5 193.8h0M233.6 237h0M203.4 190.1h0M238.1 222.4h0M320.8 207.4h0M258.2 197.8h0M225.9 218.9h0M179.3 187.7h0M314.2 215.7h0M183.4 213.7h0M186.9 230.1h0M266.2 245.5h0M217.3 210.5h0M228.1 214.9h0M251.7 221.7h0M180.6 220.9h0M280.5 223.9h0M168 212.8h0M233.7 207.5h0M222.2 233.6h0M230.7 200.2h0M185.7 202.9h0M265.7 192.2h0M264.2 203.3h0M160.8 202.7h0M191.7 235.1h0M296.3 244.3h0M228.1 230h0M214.2 233.4h0M199.9 242h0M250.8 186.4h0M264 206.5h0M315.7 198h0M228.8 221.8h0M212.4 185.9h0M320.3 222.6h0M229.2 237.2h0M254.4 217.2h0M298.1 217.6h0M202.1 227.6h0M253.2 235.6h0M249.8 243.6h0M253.2 232.4h0M214.5 225.3h0M218.6 246.4h0M289.5 233.2h0M242.8 219.7h0M169.2 207.5h0M210.1 224.5h0M254 223.6h0M206.8 228.9h0M264.1 248.1h0M231.5 223.4h0M202.4 213.3h0M283.2 238h0M201.3 215.2h0M195.7 241.5h0M241.9 234.2h0M217.9 206.8h0M235.6 230h0M305.7 236.8h0M280.8 196.7h0M161.4 209.9h0M186.1 235.4h0M297.4 238.7h0M284.5 220.5h0M252.6 240.2h0M242.3 172h0M268 187.5h0M265 182.6h0M249.1 236.3h0M206.4 215.7h0M193.1 228.9h0M248.6 233.7h0M243.1 175.5h0M251.3 223h0M225.7 218.7h0M241.6 218.4h0M231.6 188.6h0M285 213.8h0M234.3 205.5h0M299.8 223.2h0M271.2 226.1h0M235 199.5h0M227.1 200.9h0M252.6 224.7h0M197.5 210.7h0M289.4 197.6h0M177.4 231.7h0M282.7 207.5h0M150.1 198h0M270.2 199.5h0M171.2 215.2h0M224.8 240.9h0M302.6 201.9h0M264.6 221.9h0M273.8 210.2h0M202.7 207.2h0M309.7 192.1h0M205 245.7h0M222 208.8h0M223.4 244h0M229 191h0M204.6 206h0M243.1 243.3h0M225.9 218.5h0M301.6 209.6h0M187.1 233.2h0M164.8 223.3h0M214.7 219h0M263.9 202.6h0M218 200.3h0M245.8 223.3h0M246.2 199.5h0M208.4 224.1h0M195.8 209h0M284.4 240.4h0M201.4 242h0M187.2 224.5h0M221.9 231.7h0M258 195.7h0M245.2 234.1h0M217.6 241h0M290.2 205.4h0M264.8 209.2h0M251.5 187.7h0M234.6 215.5h0M249.5 213h0M230.1 210.6h0M261.7 216.2h0M219.6 225.5h0M197.7 219.8h0M213.5 224.8h0M277.6 189.3h0M274.7 201.4h0M224.5 221.8h0M181.8 197.9h0M149.7 199.1h0M190.7 192h0M216.2 222.3h0M225.1 187h0M179.9 243.7h0M262.7 215.8h0M270.3 220.8h0M191.4 208.8h0M234 180.1h0M313.5 217.3h0M213.7 205h0M233.1 207.7h0M208.8 239.9h0M292 232.1h0M198.1 242.6h0M283.6 235.4h0M274.3 229.7h0M262.1 234.5h0M242.7 204h0M201.9 244.3h0M225.7 231.5h0M208.3 208.9h0M317.2 218.2h0M215.1 228.5h0M289.6 177.2h0M193.2 230.5h0M160.4 196h0M252.8 226.8h0M278.8 194.4h0M224.1 199.2h0M254.3 181.4h0M305.5 244.1h0M180.5 237.9h0M207.7 186h0M202.1 215.4h0M237.4 208.6h0M242.3 199.5h0M184.2 216.6h0M244.2 185.6h0M238.9 199.1h0M258.4 212.9h0M290.4 206.9h0M259.8 189.1h0M259.5 189h0M276 203.6h0M224.2 235.1h0M240.4 230.5h0M172.4 213.6h0M242.7 190.2h0M168.5 209.8h0M156.6 234.9h0M305.4 215.3h0M253.9 236h0M213.9 232.3h0M255.9 242.8h0M289.6 198.4h0M269.4 245.3h0M204.5 205.9h0M248.6 244.1h0M169.7 214.6h0M234.9 204.8h0M177.5 230h0M195.4 198.9h0M167.7 195.7h0M184 188.4h0M176.8 225.2h0M194 197.2h0M196.5 237.4h0M322.1 207.4h0M228.6 229.2h0M216.4 201.3h0M243.6 215.4h0M256.8 206.6h0M230.3 186.2h0M241.7 238.2h0M264.6 215.3h0M191.5 211.3h0M221.1 213.2h0M231.5 202.1h0M225.3 203.2h0M150.4 220.9h0M214 199.7h0M244.2 234.2h0M237.7 203.1h0M208.4 199.9h0M160.4 238.4h0M216 205.3h0M296.5 203.2h0M162.3 221.5h0M222.6 222.4h0M269.5 236.7h0M221.8 227.8h0M243.9 247.3h0M231.7 205.6h0M177.5 218.6h0M242.4 244.9h0M245.5 180.4h0M205.1 198.8h0M282 200.3h0M261.6 218.3h0M244.2 239.2h0M220.7 212.7h0M259.1 219.3h0M291 212.7h0M209.8 215h0M276.5 246h0M230.1 203.5h0M297.7 236.5h0M241.5 201.7h0M228.5 215.7h0M234.4 235.7h0M271.1 194.6h0M261.4 230.8h0M196.7 241.2h0M230.7 211.1h0M197 235.1h0M169.4 233.6h0M271.4 212.9h0M234.7 209.1h0M195.3 245.7h0M188.7 202.9h0M185.4 196.8h0M223.4 189.6h0M204 226.4h0M302.5 184.4h0M228.8 238.1h0M216.2 179.8h0M252.7 190.2h0M224.1 218.2h0M279.1 244.7h0M246.8 188.1h0M263.1 212.7h0M314 235h0M175.6 224.7h0M225.6 243.6h0M294.7 204.7h0M240.9 210.5h0M200.6 202.6h0M234 194.6h0M215.1 241.1h0M215.6 219.2h0M272.9 205.7h0M309.5 220.8h0M206.9 224.2h0M228.1 206.2h0M315 220.7h0M264.5 229.9h0M234.7 174h0M263.9 201.8h0M283.4 201.1h0M235.9 216h0M167.5 217.2h0M254.2 218.2h0M172 212.2h0M190.2 224h0M269.6 213.6h0M239.4 212.9h0M198.7 208.2h0M289.3 224.6h0M184.2 211.4h0M177.9 182.9h0M209.1 241.1h0M214.2 242.9h0M299.5 202.5h0M235.4 209.9h0M209.7 214.7h0M232.4 209.1h0M259.1 239.4h0M274.3 194.9h0M300.7 191.4h0M209.2 223.4h0M241.1 235.1h0M179.2 217.6h0M178.3 201.9h0M211.4 228.8h0M239.5 203.1h0M299.8 208.5h0M243.5 195.5h0M168.6 203.2h0M313.1 218.6h0M233.8 230.5h0M228.8 217.6h0M230.4 225.4h0M155.3 212.4h0M222.4 244.2h0M250.8 226.8h0M229 210.2h0M277 186.6h0M265.4 193.1h0M239.8 197.3h0M214.1 210.6h0M221.4 230.7h0M267.2 203.8h0M227.8 200.9h0M259.6 214.3h0M252.4 196.7h0M196 234.1h0M200.6 233.6h0M251.4 244.1h0M224 222.3h0M217 188.5h0M214.7 196.8h0M250.1 233.6h0M205.1 233.6h0M288.2 208.6h0M223.5 188.5h0M264.8 217.6h0M242.1 230.8h0M265.7 217.6h0M180.4 235.4h0M275.1 233.6h0M248.5 236.5h0M224.7 186.1h0M274.2 226.4h0M251.8 217.8h0M205.7 228.7h0M210.1 224.7h0M273.1 201.5h0M190.5 232.1h0M226.9 209.3h0M273.7 233.2h0M164.8 197.7h0M298.4 186.2h0M314.2 241.2h0M267.7 230.6h0M272.5 212.3h0M273 217.2h0M172.6 234.1h0M151.6 204.5h0M169.3 196.5h0M219.1 221.3h0M256.5 210.9h0M216.7 191.1h0M196.4 220.7h0M292.7 229.1h0M306.2 204.5h0M265 215h0M222.3 221.1h0M276.5 205.8h0M312.1 189.1h0M240.1 247h0M178.8 230.8h0M151.4 202.8h0M237.2 213.4h0M262.1 245.1h0M244 214.1h0M160.5 191.6h0M186.4 207.2h0M315.7 175.7h0M233.2 229.7h0M202.1 237h0M271.5 223.7h0M207.2 200h0M174.6 217.2h0M153.7 196.6h0M161 206.7h0M225.1 234.6h0M173 222.1h0M267.1 238.1h0M241.1 211.8h0M236.4 237h0M264.5 195.3h0M190.3 213.8h0M239.3 225.8h0M307 191.7h0M276.1 245.9h0M169.2 214.4h0M175.2 229h0M243.6 205.9h0M202.8 206.6h0M153.2 206.2h0M252.3 230.6h0M186.1 221.9h0M234.7 212.8h0M284 224.7h0M182.9 233.2h0M185.3 226.1h0M248.4 225.3h0M217.5 218.8h0M166.9 210.1h0M287.6 219.1h0M246.9 235.2h0M262.4 208.4h0M240 193.2h0M222.2 215.5h0M207.7 202.6h0M274 187h0M306.5 211.5h0M195.8 214.2h0M186.3 223.4h0M284.4 218.1h0M270 211.8h0M260 241.5h0M221.2 205.3h0M272.4 208.5h0M205.4 247.8h0M230.7 223.5h0M237.7 231.6h0M307.9 184.2h0M165.9 216.5h0M230.5 213.8h0M236.1 204.7h0M246.1 231.7h0M192.6 220.8h0M152.4 198.4h0M170.8 194.3h0M162.1 216.3h0M252.4 211.7h0M176.4 222.1h0M175.9 224h0M302.5 231.8h0" stroke="#d3d3d3" stroke-width="3.8" stroke-linecap="round" fill="none"/>
<path d="M267.5 194.5h0M282 173.7h0M226.9 219h0M268.8 217.1h0M230.2 195.9h0M292.2 208.2h0M274.4 220.5h0M266.2 188.9h0M232.9 212.2h0M265 202.4h0M246.2 216.9h0M309.8 212.9h0M251.3 204.1h0M232.3 220.1h0M236.2 186.4h0M231.5 233h0M229.2 210.6h0M220.1 220.1h0M180.6 207.2h0M239 186.6h0M244.5 204.6h0M279.7 228.6h0M230.5 183h0M266.4 230.9h0M237.8 206.4h0M230.9 205h0M240.2 235h0M273.4 224.1h0M252.8 193.7h0M226.1 223.2h0M267.3 207.1h0M272.8 213.9h0M256.6 245.4h0M275.3 214.3h0M183.4 201.3h0M275.4 221h0M231.4 178.2h0M261.2 211.1h0M232.6 199.9h0M202 196h0M234.3 244.6h0M248.2 201.1h0M232.6 204.9h0M226.7 200.4h0M233.9 210.1h0M269.4 204.3h0M197.2 238.1h0M279.6 200.9h0M235 212.8h0M291.2 212.1h0M207.6 219.7h0M278.8 218.3h0M224.5 209.1h0M223.9 215.9h0M292.4 208.2h0M268.6 211.7h0M275.4 215h0M273 222.5h0M187.2 197.7h0M296.3 210.9h0M239.2 207.9h0M273.5 204.6h0M252.7 208.1h0M255.6 206.3h0M238.2 203.9h0M192.9 207.2h0M268.9 216.2h0M246.9 227.3h0M319.5 215.8h0M238.6 208.7h0M208.4 227.5h0M245.5 226.8h0M282 200.6h0M264.2 206.5h0M267.7 206.9h0M248.8 216.1h0M225.8 224.6h0M305.8 191.9h0M227.3 213.1h0M205.4 219.2h0M243 209h0M215.7 241.3h0M301.2 220.8h0M254.1 191.1h0M232 227.3h0M193.1 223.5h0M234 205.6h0M258.9 188.1h0M230.4 227.6h0M206.6 238.5h0M203.7 234.3h0M211.4 192.6h0M240.7 196.6h0M210.4 208.5h0M194.3 198.4h0M233.9 226h0M246.3 232.8h0M247.7 219.3h0M263.3 209.3h0M227.1 209.4h0M213.6 206.5h0M200.5 184.9h0M189.6 217.5h0M250.6 233.8h0M208.3 230.2h0M248.1 218.9h0M257.5 203.4h0M247.6 213.2h0M214.5 187.6h0M292.1 201.2h0M271.4 186.5h0M315.9 199.1h0M297.8 219.2h0M205.5 223.8h0M246.1 202.5h0M243.6 207.4h0M231.2 227.5h0M209.3 204.5h0M294.7 210.7h0M276.7 180.2h0M202.1 242.9h0M219.3 207h0M245.3 244.7h0M274.5 234.8h0M280.6 221.4h0M219.2 191.7h0M286.7 229.5h0M246.3 200h0M243.7 230.6h0M246.4 198.4h0M284.1 183.3h0M264 204.4h0M222.4 221.9h0M264.5 208.1h0M212.6 223.1h0M260.7 221.1h0M228.3 208.5h0M257.6 216.5h0M235.9 210.3h0M253.8 190.4h0M237.2 213.1h0M284.9 226.4h0M264.4 240h0M269.1 208.7h0M205.6 236.9h0M216 185.9h0M281.8 204.3h0M198.8 192.9h0M225.8 223h0M210.4 206.3h0M234.9 228.2h0M252.4 206.8h0M197.1 217.1h0M282.2 181.7h0M221.4 217.8h0M279.6 193.3h0M276.4 223.6h0M220 233.9h0M235.2 197.8h0M201.3 207.4h0M268 236.8h0M197.4 244.5h0M247.1 222.7h0M267.1 179.3h0M229.3 237.4h0M209.8 210.7h0M227.5 197.4h0M216.3 218.8h0M245.1 234.8h0M293.6 205.6h0M296.5 220.9h0M251.3 198h0M239 238.1h0M230.6 200.6h0M217.5 212.1h0M256.1 194.5h0M211.4 211.9h0M247.9 226.5h0M246.4 229.6h0M239.7 231.4h0M275.7 181.8h0M254.8 229.7h0M253.3 203.2h0M222.1 201.5h0M264 217.8h0M192.2 194.4h0M219.5 205.3h0M259.5 224.6h0M212.1 218.6h0M223.9 231.9h0M231.9 228.7h0M297.8 209.4h0M264.7 205.1h0M223.9 217h0M255.8 216.8h0M320.1 202.5h0M227 238.3h0M240.9 200.4h0M222.9 222h0M230.2 183.5h0M230.9 198.4h0M235.7 203.6h0M293.1 189.6h0M267.7 195h0M238.1 177.1h0M257.9 194.9h0M176.4 234.4h0M236.7 194.9h0M216.4 228.1h0M244.5 195.9h0M215.8 222.1h0M247 238.2h0M216.8 226.4h0M263.1 207.8h0M257.4 210.9h0M237.5 192.6h0M255.4 244.2h0M262.9 229.9h0M249 228.9h0M278.7 189h0M246.6 222.2h0M278.1 199.8h0M218.1 189.5h0M199.9 203.8h0M232.8 199.8h0M258.8 216h0M184.4 244.4h0M241.8 225.9h0M243.3 216.6h0M295.6 223.4h0M229.7 186.2h0M263.9 209.3h0M253.5 207.2h0M205.6 223h0M250.7 203.8h0M234.8 194h0M240.2 175.1h0M173.1 184.9h0M312.3 200.5h0M246.1 206.9h0M215.2 229h0M240.3 221.8h0M279.3 193.1h0M212.6 189.9h0M236.4 200.5h0M250.9 214.6h0M258.2 239h0M219.8 187.2h0M256.2 218.8h0M218.9 213.5h0M205.9 187h0M299.1 220.9h0M219.9 203.6h0M245.6 227.6h0M244.8 227.7h0M273.3 214.6h0M270.9 199.3h0M271.2 227.2h0M246.9 188.4h0M201.8 217.4h0M265.6 232.6h0M260 209.5h0M242.3 235.8h0M222.9 221.3h0M224.8 204.2h0M248.1 192.1h0M219.7 206.4h0M251.6 190.6h0M263.7 223.8h0M289.4 223.4h0M218.7 182.9h0M298.6 240.6h0M220.3 186.5h0M196 204.6h0M231.6 208.3h0M269.5 203.1h0M218.4 235.7h0M217.1 225.5h0M212.4 226.2h0M256.3 210.1h0M262.2 219.1h0M239.3 193.6h0M271 197.9h0M266.1 197.8h0M289.4 209.9h0M286 201.7h0M291.9 189.6h0M212.1 188.5h0M220 242.8h0M279.9 181.1h0M268.1 180h0M229.5 196.5h0M221.6 200.6h0M279 222.7h0M257.1 224.9h0M275.4 201h0M196.7 227.9h0M214.5 198.5h0M220.6 180.7h0M279.5 208h0M286.8 212.1h0M216.4 247.2h0M237 244.2h0M242.6 223.3h0M278.5 234.9h0M218.2 186.2h0M271.6 221.3h0M248.9 193h0M313.7 194.5h0M252.7 199.3h0M231 209.6h0M221.2 203.7h0M234.4 219.1h0M231.7 222.7h0M238.6 222.8h0M189.6 235.7h0M207.6 207.8h0M272.9 182.9h0M222.8 203.5h0M265.7 194.7h0M263.5 201.5h0M232.5 188.6h0M183.7 219.4h0M210.2 196.6h0M260.1 199.9h0M252 234.3h0M275.4 203.9h0M193.9 175.5h0M293.5 196h0M241.2 200.9h0M289.5 206.2h0M219.7 216h0M219.1 187.5h0M203.4 220h0M207.6 225h0M298.9 230h0M242.6 227.1h0M203.2 197.9h0M169.4 231.7h0M226.7 224.9h0M259.3 205.5h0M218.2 229.7h0M242.8 201.6h0M234.7 231.9h0M225.5 231.2h0M257.8 208.9h0M199.7 218.8h0M227.7 210.1h0M258.6 214.1h0M297.9 234.8h0M267.3 234.3h0M205.2 230.5h0M310.8 198.2h0M224.7 236.4h0M156 215.6h0M238.6 222.2h0M213.4 236.5h0M264.6 217.5h0M286.2 202.7h0M262.6 208.9h0M252.1 224.9h0M247.3 216.4h0M257.3 208.3h0M287.2 205.8h0M273.9 203.1h0M224.8 190.5h0M252.4 186.9h0M231.9 224.7h0M245.6 220.5h0M236.7 242.4h0M247.3 222.9h0M218.4 211.1h0M293.3 214h0M223.4 228.9h0M272.3 234.9h0M250.2 199.3h0M224.2 210.8h0M235.7 190.9h0M214.6 209.1h0M212.8 220.8h0M261.1 230.6h0M225 187.5h0M264 208.8h0M269.1 198.6h0M252.8 206h0M233.2 199.2h0M222.5 237h0M210.5 215.9h0M260.8 230.4h0M277.8 239.1h0M239.8 232.4h0M268.1 188.9h0M241 201.6h0M277 203h0M201.7 215.8h0M192.6 240.3h0M245.1 175.1h0M204.9 207.4h0M248.7 202.9h0M226.7 179.3h0M253.8 196.5h0M271.6 243.8h0M191.9 192.1h0M177.3 226.3h0M284.4 215.1h0M238.5 202.2h0M238.9 206.4h0M255.5 187.5h0M306.8 204.6h0M223.3 219.6h0M221.8 228.4h0M211.3 224.2h0M246.8 203h0M233.5 219.4h0M268.5 190.2h0M226.6 239.5h0M237.1 207.8h0M270.3 199.9h0M217.4 189h0M282.3 211.2h0M240.1 217.1h0M242.1 224.6h0M237.6 206.4h0M248 197.7h0M262.6 232.5h0M237.3 201.7h0M216.7 213.4h0M220.3 194.9h0M239.9 195.9h0M276.1 227.2h0M245.4 195.8h0M216.6 237.2h0M261.3 188.5h0M213.5 216.4h0M216.7 183.5h0M225.7 219.8h0M246.1 207.1h0M282.5 233.6h0M250.7 201.7h0M296.7 223.9h0M260.7 198.5h0M171.4 201.2h0M198.5 202h0M257.6 193.4h0M193.6 215.1h0M292.9 232.2h0M273.1 194.1h0M228.2 236.6h0M283.7 202.2h0M237 225.7h0M260.7 172.4h0M258.7 220.2h0M257.6 197.6h0M271.5 213.1h0M255.5 237h0M226.9 222.7h0M202.1 194.3h0M213.8 191.9h0M292.3 243.4h0M204.6 206.8h0M266.9 207h0M242.2 240.6h0M225.8 198h0M224.9 230.4h0M273.3 212.5h0M254.7 205.3h0M286.7 177.4h0M214.8 229.3h0M218.1 226.8h0M211.8 216.8h0M265 198.1h0M190.1 219h0M227.9 223.2h0M215.3 226h0M266.3 233.2h0M252.2 182.8h0M211.1 213.4h0M245 194.5h0M248.9 218.1h0M271.5 188.1h0M207.7 233.6h0M217.9 232.8h0M267.9 194.9h0M273.8 224.9h0M278.6 224.2h0M286.9 200.9h0M194.6 212.3h0M275.2 232.8h0M202.1 198.3h0M267.3 195h0M209.2 193.3h0M319.7 203.1h0M261.5 226.1h0M204.8 220.5h0M225.9 208.6h0M261.7 218.4h0M258.4 171.8h0M152.9 210.5h0M247.8 223.5h0M298.2 203.7h0M269.9 226.7h0M236 232.5h0M286.3 172.7h0M250 243.1h0M282.5 197.6h0M201.2 196.6h0M202.9 220.1h0M187.6 200.8h0M266.2 247.6h0M239.4 179.1h0M252.6 221.4h0M222.6 202.6h0M246.5 197.9h0M265.2 182.5h0M305 209.6h0M231.2 212.7h0M188.5 208.7h0M258.7 208.5h0M234.9 211.8h0M252.6 197.1h0M224.8 219.1h0M203.5 238h0M251.3 231.2h0M271.9 226.8h0M229.2 218.2h0M284.3 199.8h0M225.6 208.4h0M211.5 232.1h0M250 207.2h0M249.3 195.9h0M254.9 187.3h0M255.4 226.6h0M202.9 211.7h0M235.1 181.7h0M307.7 192.9h0M181.6 199h0M242.5 185.7h0M265.4 231.4h0M220.7 206.4h0M249.4 210.4h0M231.3 211.8h0M269.4 200.4h0M223.1 214.6h0M250.2 231.3h0M313.7 206.4h0M215.5 246.3h0M236.9 201.5h0M170.7 238.5h0M208.1 187h0M248.8 194.4h0M236.4 210.9h0M248.8 201.2h0M211.9 195.3h0M258 193.2h0M276.3 229.5h0M226.6 240.9h0M268 232.2h0M205.5 224.3h0M263.2 204.2h0M266.7 237.2h0M242.6 212.7h0M255.7 199.1h0M246.8 218.4h0M250.5 208h0M235.2 185.1h0M222.5 216.4h0M268.7 183.3h0M150.2 200.8h0M193.7 194.5h0M229.3 203.1h0M180 197.6h0M259.7 209h0M234.4 190.7h0M221.8 197.8h0M264 198.9h0M237.5 195.4h0M202.4 220h0M274.2 203.8h0M264.5 219.6h0M221.7 218.8h0M242 212.5h0M205.1 196.9h0M254.4 222.4h0M238.2 208.1h0M298.2 213.8h0M302.5 224.2h0M227.5 232.9h0M167.7 212.5h0M227.5 207.1h0M247.5 199.8h0M269.2 209h0M223.5 228.6h0M227.1 198.7h0M253.5 225.9h0M254.7 196h0M251.4 201.1h0M262.1 237.7h0M265.7 193.1h0M228.7 214.3h0M191.3 213.9h0M246.4 243.2h0M244.8 217.7h0M305.5 204h0M266.9 177.5h0M275.4 205.4h0M199.9 212h0M215.7 222.4h0M256.1 215.9h0M282.5 203h0M241.2 181.6h0M220 218.1h0M256.3 189.7h0M245.1 200.8h0M268.6 221.5h0M185.7 213.6h0M250.5 219.1h0M230 212.6h0M237.1 180.5h0M226.1 210.1h0M232.7 238.4h0M204.6 219.4h0M251.4 215.6h0M221 195.1h0M294.5 208.4h0M282.8 217.9h0M234 231.7h0M237.9 206.7h0M287.4 211.1h0M207.5 213.3h0M244.4 190.3h0M254.8 226.6h0M188.4 187.4h0M224.9 225h0M210.8 246.8h0M284 199.5h0M266.7 216.1h0M194.2 218.2h0M297.3 198.2h0M208.8 202.3h0M245.8 204.1h0M235.8 223.9h0M220.5 195.4h0M179.6 223.2h0M306.7 194.9h0M219 215.6h0M248.6 236.9h0M201.4 212.6h0M205.3 215h0M273.9 224.1h0M207.7 180h0M233.6 236.4h0M217.7 198.7h0M220 177.5h0M279.2 229.9h0M247.7 214.1h0M243.6 211.1h0M249.5 237.9h0M189.5 203.3h0M224.9 203.2h0M255 216.5h0M225.5 223.4h0M276 209.7h0M253.5 184.6h0M214.6 219.5h0M234 209.8h0M213 202.9h0M251.8 230.9h0M231.3 179.8h0M274.2 204.5h0M251.2 241.6h0M294.4 189.6h0M225.4 217.3h0M260.8 209.4h0M293.6 224.4h0M294.2 224.1h0M258.6 196h0M259.8 187.8h0M238.8 213.9h0M203.8 211.6h0M266.3 201.7h0M212.1 228.8h0M220.3 235.8h0M297.8 219.8h0M242.5 203.7h0M257.4 230h0M241.5 199.8h0M207.7 233.9h0M207.4 192.9h0M264.4 222.3h0M289.1 236.9h0M227.5 210.3h0M281.4 220.8h0M256.4 195.1h0M273.6 196.1h0M156.6 224.9h0M226.8 197.3h0M287.3 211.6h0M229.5 217.7h0M252.5 214.9h0M311.2 178.2h0M200.5 196.4h0M237 199.7h0M193.3 236h0M249.9 216.4h0M215.4 200.3h0M219.3 228.7h0M197.4 223.6h0M237.1 196.9h0M251.4 203.3h0M220.4 195.7h0M252.4 210.5h0M208.4 233.7h0M268.8 192.8h0M255.4 238.5h0M287.9 209.4h0M264 216.2h0M230.3 217.7h0M216 227.5h0M293.4 203.6h0M319.5 220.8h0M202.5 214.1h0M184.2 197.5h0M250.2 213.8h0M268.6 218.2h0M245.6 211.7h0M185.6 198.2h0M245.8 175.9h0M212.6 238.9h0M270.8 185.7h0M240.6 221.4h0M261 208.1h0M211.7 208.3h0M241.4 220.4h0M252.2 211.2h0M235.9 229.3h0M270.2 212.1h0M237.2 211.9h0M219.5 205.6h0M240.1 209.3h0M320.2 219.8h0M237.3 240.9h0M210.1 212.6h0M276.8 213.3h0M246.3 200.3h0M254.4 217.4h0M227.7 215.3h0M274.3 204.5h0M250.7 199.5h0M285.4 217.7h0M278.2 219.9h0M276.8 185.6h0M221.3 211.8h0M188.8 194.8h0M283.6 202.2h0M243.8 209h0M209.8 209.9h0M270.8 172.8h0M234.7 212.7h0M263.7 197.6h0M280.3 196.2h0M262.6 222.4h0M248.4 221h0M252.4 212.4h0M316.1 231.3h0M225.6 207.2h0M255.7 207.1h0M269.5 218.2h0M267.8 239.8h0M259.3 221.9h0M265.4 181.4h0M246.2 215.4h0M205 194.9h0M231.8 195.3h0M196 247.3h0M309.1 193.9h0M245.4 220.8h0M176.3 219.4h0M264.8 193.8h0M188.1 189.9h0M205.2 192.9h0M288.8 186.1h0M235.3 208.8h0M211.5 234.3h0M223.7 228.3h0M198.8 201.8h0M255.4 228.2h0M229.8 206.8h0M237.8 218.1h0M214.5 198.1h0M240.7 229.2h0M214.6 233h0M217.7 217.2h0M219.3 198h0M277.6 231.2h0M220.8 219.2h0M201.8 188h0M254.1 222.7h0M237.6 208.1h0M232.8 231.9h0M243.5 211.6h0M218.9 239.6h0M317.6 210.2h0M257 238.3h0M254 205.7h0M241.9 238.9h0M269.1 224.4h0M220.6 200h0M225.3 207.5h0M209.5 228.5h0M284.9 213.1h0M277.9 197h0M280.3 246h0M251.4 190.4h0M214.1 226.1h0M261.2 207.5h0M218.4 193h0M302.3 206.9h0M285.3 206.9h0M207.4 221.5h0M224.9 174.9h0M251.5 198.1h0M308.1 196.2h0M179 230.1h0M263.5 192.1h0M279 227.2h0M260.5 240.9h0M254.3 226.9h0M231.3 212h0M273.6 243.4h0M224.2 218.6h0M283 200h0M274.3 191.1h0M231.7 207.2h0M215.9 216.6h0M223.4 207.9h0M267 211.1h0M233 201.6h0M283.9 198.3h0M196.2 240.4h0M231.1 199h0M247.6 196.2h0M244.7 228.7h0M226.9 195.4h0M270.6 214.2h0M200.5 183.2h0M283 212.2h0M265.3 217.6h0M242.2 221.2h0M229.3 247.8h0M239.4 230.1h0M191.3 216.3h0M293.4 203.4h0M227.8 244.6h0M185.1 213.8h0M226.9 234.9h0M221.8 201.2h0M215.8 222.2h0M235.6 199.2h0M238.3 229.2h0M247.1 246.6h0M222.9 235.9h0M205.5 221.3h0M206.4 188.1h0M281.1 221.6h0M232.4 197.1h0M248.5 231.5h0M274.8 198.1h0M243.6 247h0M249.6 211.7h0M217.3 207.3h0M259 219.7h0M255.8 213.7h0M189.6 223.1h0M250.8 217.1h0M216.4 241.8h0M241 217.3h0M250.4 229h0M282.9 182.9h0M266.3 217h0M245.7 207h0M246.8 205.4h0M229.5 211.1h0M231.4 225.2h0M246.5 204.9h0M247 233.4h0M244.8 212.6h0M242.5 204.6h0M192.3 182.3h0M256.8 186.2h0M251.1 193h0M278.1 208.9h0M256.6 176.8h0M191.5 216.4h0M233.3 188.7h0M234.9 210.8h0M297.9 220.2h0M283 212.5h0M223.1 202.6h0M260.2 190.4h0M254.9 212.3h0M262.7 223h0M277.3 243.1h0M220.4 208h0M267.5 211.8h0M226.1 228.7h0M210.8 225h0M229.7 215.9h0M259.4 217.3h0M273.1 217.6h0M180.7 213.6h0M292.3 217.4h0M230.7 173.2h0M270.6 209.8h0M246.6 187.5h0M191.6 211.3h0M194.4 184.1h0M274.6 223.5h0M240.5 238.6h0M288.2 221.4h0M253.1 200.4h0M283.4 194.6h0M243.1 233.7h0M228.2 194.5h0M190 204.8h0M224.3 192.9h0M246.4 232.3h0M301.3 201.3h0M180.1 206.4h0M257.2 237.3h0M223 198.2h0M201.7 208.4h0M200.5 199.8h0M264 211.7h0M245.8 197.5h0M244.4 203.2h0M251.6 205.6h0M285.6 204h0M185.1 213h0M260.9 215h0M254.2 215.6h0M218.9 223.2h0M253.3 208.7h0M251.3 219.5h0M224.1 198.8h0M233.2 247.6h0M231 202.7h0M273.6 238.7h0M304.3 197.1h0M206.2 203.8h0M269.2 223.1h0M250.2 229.3h0M220.4 200.8h0M299.3 198.4h0M279.7 226.1h0M271.8 222.5h0M292 210.4h0M220.6 219h0M216.5 216.6h0M308 201h0M234.5 196.5h0M239.8 215.2h0M231.3 214.3h0M277.8 219.2h0M297.3 215.8h0M228.6 193.8h0M206.7 224h0M228.6 233.8h0M214 224.5h0M253.4 199.1h0M199.6 210h0M193.2 224.3h0M247.7 215.8h0M233 207.4h0M301 223.9h0M225.1 216.4h0M226.7 219.4h0M243.3 181.2h0M245.4 210.3h0M212.6 213.8h0M284.7 206.4h0M247.6 208.5h0M280.3 190.9h0M278.3 209.1h0M243.4 199.5h0M252.3 215.3h0M256.1 218.9h0M194.7 203.7h0M260.6 217.6h0M215.7 178.6h0M206.8 197.1h0M230.3 189.6h0M244.6 210.7h0M203 206.6h0M309 192.1h0M237.4 216.2h0M201.5 229.8h0M255.7 208.2h0M242.6 197.2h0M225 221.3h0M231.7 192.5h0M270 180.3h0M262.7 216.8h0M239.2 209.3h0M270.8 247.7h0M254.2 200.3h0M224.6 199.4h0M302.8 204.6h0M272.8 225.6h0M263.7 226.2h0M280.3 211.8h0M208.9 224.6h0M234.5 216.8h0M215.1 231.3h0M264.9 192h0M251.3 203.1h0M267.4 210.1h0M252.1 203.3h0M226.9 173.5h0M245.6 183.4h0M222.6 216.3h0M196.2 231.6h0M267.7 195h0M235.8 235.4h0M293 212.9h0M235.6 207.3h0M292.4 194h0M257.7 241.9h0M238.8 200.9h0M277.7 211.4h0M248.1 198.9h0M199.5 189.5h0M314.9 195.9h0M206.8 190.3h0M219.7 203.8h0M224.9 191.4h0M283.9 222.8h0M222.7 232.5h0M234.6 188h0M220.6 187.9h0M263.6 213.4h0M269.6 211.2h0M213 179.5h0M223 215h0M252.8 218.5h0M254.3 225.3h0M197.9 204h0M209.1 217.1h0M225.3 234.9h0M301.3 223.2h0M287.2 206.3h0M248.7 225.2h0M253.6 209h0M202.4 222.6h0M242.3 231.4h0M285.2 216.7h0M246.2 224h0M261 225.8h0M229.8 212.6h0M247.1 213.2h0M266.4 223.3h0M252.7 212.4h0M285.4 201.4h0M262.6 226.5h0M307.5 214.8h0M243.8 210.5h0M240.2 200.3h0M278 198.5h0M214.8 217.2h0M265 198.4h0M223.7 241.3h0M220.4 235h0M171.4 214.3h0M195.1 227.6h0M234.2 205.9h0M205.4 218.2h0M259.9 243.2h0M243.8 217.4h0M308.4 202.1h0M204.4 232.1h0M239.8 216.9h0M247.4 228h0M262.2 221.6h0M249.3 224.9h0M264.5 220.6h0M223.3 193.3h0M236.4 215.2h0M254.6 214.9h0M206.2 211.7h0M219.7 205.9h0M193.5 186.8h0M193.6 195h0M237.2 223.9h0M296.2 196.7h0M220.2 211.6h0M237.8 208.8h0M233 200.4h0M292.6 217.2h0M251.3 244.4h0M279.4 208.8h0M229.1 196.4h0M271 198.1h0M239.9 199.6h0M242.1 205h0M224.3 214.6h0M240.5 205.9h0M273.6 211.8h0M242.4 218.7h0M233.3 234.8h0M280.8 188.2h0M274.6 230.9h0M242.2 191.9h0M202.5 216h0M211.8 182.8h0M209.2 220.3h0M258.3 213.5h0M247.6 226.1h0M219.1 216.5h0M245.9 209.2h0M235.5 239.1h0M275.2 204h0M268.8 216.9h0M291.8 209.5h0M314.2 178.6h0M222.6 224.5h0M233.7 217.1h0M309.8 221.7h0M256.8 194.1h0M250.3 208.5h0M263.7 209.8h0M321.3 190.5h0M253.4 217.3h0M220.9 196.4h0M284.3 217.9h0M196.8 244.3h0M275.6 237.7h0M255.8 199.1h0M243.2 196.3h0M189.5 235.8h0M197 183.4h0M239 214.9h0M292.3 247.3h0M237.4 211.8h0M261 227.9h0M250.4 211h0M226.7 219h0M233 221.2h0M323.3 212h0M319.8 213.7h0M271.2 200.6h0M185.6 223.7h0M192.5 211.7h0M231.3 181.5h0M239.6 187.4h0M245.4 186.8h0M150.8 218.5h0M278.3 212.6h0M254.3 178h0M285.7 196.9h0M235.4 213.1h0M216.9 229.9h0M224.5 242.3h0M233.5 219.2h0M223 213.5h0M203.9 204.4h0M268.7 234.7h0M260.3 189.2h0M240 215.3h0M231 201h0M242.1 232.3h0M196.8 179.6h0M192.8 212.9h0M265.4 178.7h0M220.2 185.7h0M266.5 184.1h0M224.3 184h0M288.7 192.4h0M211.1 180.7h0M277.2 218.1h0M245.7 200h0M257.9 230.9h0M230.8 202h0M254.2 176.1h0M187.1 182.2h0M195.4 177.2h0M195.6 233.2h0M211.3 199.1h0M267 187.2h0M214.6 201.1h0M293.2 220.4h0M263.5 199.2h0M277.5 200.9h0M239 209.4h0M172.6 243.7h0M241.6 232.5h0M238.2 209.5h0M269.6 234.6h0M261.3 212h0M188.5 205.6h0M250.8 211.3h0M270.4 203.6h0M209.1 206.6h0M258.1 210.9h0M181.8 214h0M260.2 191.8h0M224.5 175.5h0M235 196.9h0M258.2 217.7h0M276.6 175h0M273.4 201.6h0M265.1 211.2h0M270.5 229.5h0M226.9 220.5h0M260.7 217.2h0M272.7 227.1h0M268.3 226.5h0M193 222.4h0M263.1 212.1h0M225.7 223.6h0M180.9 222h0M233.7 207.8h0M247.4 222.3h0M240.1 236.2h0M198 203.7h0M271.5 213.9h0M216.6 233.8h0M235.3 208.9h0M208.3 230.1h0M266.7 179.5h0M205.4 201.7h0M231.2 195.1h0M211.7 236h0M238.2 212.3h0M255.9 218.3h0M247.2 211.7h0M203 235.5h0M224.8 193.9h0M239.4 230.8h0M233 243.1h0M236.2 208.6h0M208.3 203.5h0M243.6 235.2h0M313.1 212h0M218 188.7h0M211.7 230.8h0M223.4 205.6h0M221.8 213h0M250.5 242.1h0M274.6 205.3h0M209.6 237.9h0M237 175.8h0M275 200.5h0M307.1 208.7h0M259 229.5h0M225.3 220.9h0M233.9 188.4h0M252.5 209.9h0M235.4 220.5h0M183.9 217.8h0M208 212.8h0M203.7 201h0M189.2 186.4h0M250.8 194h0M231.2 199.3h0M279.4 192h0M205.9 195.6h0M288 202.5h0M280.2 194.6h0M238.6 226.1h0M249.3 245.2h0M175.2 202.7h0M262.8 217.5h0M243.4 203.1h0M281.8 223.4h0M307.4 205.7h0M181.9 213.4h0M268.8 210.5h0M256.4 201.6h0M212.7 202.4h0M271.7 180.1h0M230.2 202.8h0M194 221.1h0M281.5 234.5h0M304.4 196.3h0M250.8 218.3h0M223.8 227.8h0M269.3 203.7h0M202.4 189.7h0M239.2 206.5h0M240.6 244.1h0M224.4 237.6h0M272 218.4h0M270.6 201.1h0M232.8 226.6h0M253.6 221h0M279.4 215.8h0M210.2 218.3h0M193.4 218.8h0M228.8 200.5h0M258.4 209.2h0M238.7 213.4h0M248.3 220.5h0M209.2 214.1h0M274.4 208.6h0M221.8 210.4h0M201.7 214h0M226.5 196.7h0M325.1 222.4h0M281.4 196.2h0M221.5 208.8h0M218.6 237.2h0M176.1 205.2h0M293.4 222.8h0M262.2 191.2h0M218.2 226.5h0M214.6 216.5h0M313.6 228.2h0M219 236.5h0M278.5 178.1h0M246.3 242.9h0M285.9 207.3h0M250 224.9h0M283.3 203.4h0M210.3 218.7h0M269.6 180.8h0M274.9 218.9h0M239.1 219.3h0M284.6 234.4h0M256.4 220.6h0M240 186.1h0M252.3 202.5h0M208.9 222.8h0M263.3 184.3h0M264.6 194.5h0M265.2 213.5h0M248.1 198.1h0M233.7 244.4h0M212.6 216.9h0M229.7 205.5h0M174.9 229.7h0M281.9 200.7h0M248 202.4h0M242.6 214.8h0M274.3 196.9h0M290.3 223.5h0M260.1 224.8h0M266.4 213.6h0M218.4 199.2h0M212.4 213.8h0M251.2 206.5h0M268.7 228.2h0M242 190.9h0M235.4 203.7h0M245.7 200.1h0M173.4 212.9h0M265 208.2h0M215.7 211.3h0M205.3 197.9h0M241.8 215.6h0M186.9 231.4h0M289.2 209.7h0M215.2 205.9h0M233.2 201.2h0M239.3 207.3h0M237 203.8h0M227.7 219h0M257.5 204.7h0M256.1 216.2h0M262.9 191.7h0M219.4 186h0M256.2 224.3h0M212 214.5h0M260.8 190.8h0M218.7 207.8h0M262 208.4h0M215.4 220.5h0M207 216.1h0M245.7 216.8h0M268.1 211.4h0M217.7 233.9h0M229.6 191.3h0M259.7 201.2h0M216.1 223.1h0M221.2 214.2h0M272.1 240.8h0M204.6 219.2h0M244.4 220.9h0M225.7 216.7h0M218.3 201.5h0M254.6 206.6h0M257.9 239.2h0M214.2 218.4h0M194.1 185.9h0M259.2 217.2h0M241.2 209.4h0M283.4 223.8h0M208.7 215h0M280.7 217.5h0M286.7 183.4h0M227.1 208.9h0M300.1 201.4h0M263 184.3h0M215.7 242.1h0M202.3 213.2h0M281.1 203.8h0M243.3 218.4h0M257.2 232h0M231.4 201.9h0M251.4 227.4h0M325.1 206.2h0M238 232.3h0M230.2 193.9h0M236.3 209h0M194.4 185.2h0M241.7 218.8h0M218.4 219.7h0M235.4 234.2h0M206.3 239h0M283 199.8h0M186 217.4h0M222.4 222.1h0M232.7 219.1h0M222.8 212.7h0M292.9 200.1h0M251.6 217.5h0M281.2 191h0M159.2 182.1h0M253.1 214.3h0M263 236h0M206.2 173.1h0M266.4 248.8h0M242.8 225.3h0M231.2 226.8h0M248.4 212.5h0M272.7 220.5h0M257.6 182.7h0M232.1 203.6h0M246.8 224.6h0M259.7 199.2h0M258.5 222.1h0M230.6 210.4h0M275.1 225.7h0M303.3 196.2h0M157.9 199.9h0M280.6 202.4h0M230.6 204.8h0M227.9 208.8h0M289.1 204.1h0M243 221.9h0M150.1 194.4h0M244.8 213.4h0M293.9 203.8h0M261.4 228.9h0M288.6 218.8h0M252.4 213h0M255.4 225.2h0M272.8 228.5h0M271.8 221.4h0M222.4 191.2h0M228.8 239.8h0M223 205.9h0M256.4 187.3h0M208 221.3h0M311.4 220.6h0M213.8 210.2h0M256.1 211.4h0M251.9 198.1h0M240.8 236.3h0M227.1 212.8h0M246.7 230.9h0M252 198.7h0M240.9 231h0M203.2 220.6h0M241.6 217.1h0M249.9 211.7h0M258.8 216.5h0M270.2 212.5h0M225.9 216.2h0M253.9 198.5h0M242.9 213.9h0M248.6 191.7h0M221.9 200.9h0M235.7 225h0M218.1 232.4h0M319 233.3h0M215.2 204.4h0M252.7 244.1h0M222.6 215.7h0M268 206.6h0M290 210.4h0M271.4 222.7h0M242.6 204.9h0M236 203.8h0M254.5 212.5h0M232.5 198.6h0M248.5 187.8h0M242.1 206.8h0M280 179.4h0M261.8 229.7h0M251.5 180.2h0M194.7 208.7h0M217.9 214.5h0M302.2 234.6h0M202.6 217.3h0M251.5 184.7h0M231.5 221.6h0M264.9 193.6h0M207.4 228h0M263.1 205.4h0M216.6 228.1h0M253.5 195.2h0M299.9 198.8h0M205 183.6h0M227.8 211.4h0M192.4 203.1h0M165.7 221.3h0M242.1 247.7h0M210.7 189.7h0M246.7 209.2h0M205.3 228.5h0M226.1 197.1h0M204.6 212.6h0M250.3 221.6h0M214.3 247.8h0M208.7 207.5h0M284.5 198.9h0M229.8 204.4h0M249.9 209.4h0M221.3 226.2h0M269.4 235.6h0M228.1 197.9h0M264.8 216.1h0M228 231.2h0M274.4 227.1h0M218.6 237.2h0M212.6 203.8h0M256.1 227.9h0M196.1 226h0M270 216.6h0M241.2 218.8h0M269.1 192.7h0M205.5 200.7h0M247.3 175.6h0M234.4 180.9h0M248.5 226.9h0M195.1 197.7h0M163.7 227.2h0M245 218.6h0M255.8 209.3h0M264.2 233.4h0M199.8 198.5h0M201.7 227.8h0M265.5 206.3h0M273.4 239.3h0M243.5 237h0M292.2 199.3h0M237.2 200.2h0M256.3 214.6h0M215.2 213.7h0M240.8 232.6h0M199.7 209.8h0M208.3 210.3h0M241.5 225.7h0M277.8 236.1h0M287.7 203.8h0M202.6 227.8h0M209.7 237.9h0M196.7 206.8h0M245 208.2h0M178.3 233.6h0M271.1 216.4h0M260.6 179.5h0M222.3 240.6h0M264 195h0M262 219.1h0M244.8 209.6h0M264.9 204.7h0M261.6 198.3h0M215.8 210.6h0M200.3 200.7h0M228.3 185.7h0M232.4 212h0M282.8 177.9h0M249.6 244.9h0M227.5 226.3h0M268.3 206h0M226.1 213.1h0M259.4 220.1h0M236.1 214.3h0M292.9 241.7h0M223.3 237.2h0M226.9 214.8h0M228.6 212.5h0M260 203.7h0M289.3 224.4h0M245.9 183.6h0M275.5 224h0M268.2 209.8h0M227.6 204.7h0M265.2 240.4h0M254.9 248.5h0M280.1 221.1h0M236.2 240.8h0M238.4 186.7h0M254.4 213.8h0M222.1 211.7h0M253.5 218.4h0M314 218.3h0M236.8 239.1h0M251.4 233.8h0M265.1 215.4h0M261.7 226.4h0M213.9 225.7h0M253.5 211h0M214.5 182.3h0M233.6 234.1h0M240.2 215.8h0M246 200.7h0M299.8 223.3h0M283.4 217.5h0M186.9 214.7h0M205.6 238.9h0M252.5 190.9h0M231.7 196h0M263.4 240.6h0M228.9 207h0M314.1 212.1h0M222.1 199.2h0M261.9 186.6h0M214.1 235h0M234.5 208.2h0M257.3 243.5h0M264.1 232.1h0M255.3 205.2h0M181.5 220.3h0M245.8 208.7h0M258 225.3h0M247.7 212.4h0M234.9 224.1h0M274.6 230.1h0M234.7 219.4h0M292.4 206h0M251.4 242.9h0M243.7 180.4h0M238 204h0M278 200.4h0M252.1 219.5h0M275 191.4h0M213.3 229.6h0M280 217.8h0M246 239.4h0M274.6 203.5h0M268.5 213.9h0M255.4 209.4h0M216.7 175.6h0M193 246.2h0M254.4 217.1h0M222.2 245h0M269.7 205.8h0M262.9 198.7h0M247.9 212.2h0M272.2 209.2h0M291.4 215.2h0M212.4 212.6h0M264.6 211.4h0M235.1 204.9h0M254.7 214h0M243.6 192.6h0M268.3 215.9h0M194.4 186.7h0M249.9 202.5h0M223.3 221.2h0M232.6 215h0M223.8 209.3h0M261 227.5h0M242.4 227.8h0M275.6 201.7h0M249.4 192h0M234.9 219.2h0M293.2 211.6h0M225 204.2h0M227.4 240.3h0M236.5 202.6h0M246 220h0M234.3 239.3h0M229.1 186.9h0M228 208.9h0M252.3 194.8h0M257.6 207.5h0M245.4 199.6h0M176.5 191.2h0M223.4 209.6h0M230.8 212.7h0M280.4 216.8h0M250.8 246.3h0M255.7 239.1h0M220.1 223.8h0M258.5 197.3h0M209.5 179.7h0M196.1 194.4h0M268.4 208.7h0M246.5 213.6h0M274.3 209.9h0M228.9 212.2h0M224.7 203.5h0M246.2 243.2h0M272.9 231.1h0M317.5 227.2h0M245.6 227.1h0M268.6 193.8h0M232.7 210.6h0M266.4 207.4h0M230.8 180.3h0M238.1 193.7h0M246.7 201h0M261.2 210.9h0M267.7 232.3h0M170.1 217.2h0M248.9 215.5h0M280.5 204h0M237.1 220.1h0M235.1 208.7h0M232.3 175.6h0M251.1 226.3h0M185.9 191.5h0M198.1 233.6h0M296.3 222.8h0M220.8 215.3h0M195.3 201.9h0M297.5 214.1h0M245.2 213.1h0M239.4 232.9h0M212.6 196.7h0M229.3 209.9h0M224.3 213.8h0M246.6 220.1h0M291.1 195.1h0M209 200.6h0M176.7 219.2h0M252.9 195h0M214.6 200h0M292.2 188.4h0M270.7 223h0M280 205.8h0M272.1 200h0M293.9 209.9h0M278.3 202.3h0M232.7 239.9h0M244.8 190h0M274.2 207.6h0M249.3 221.9h0M243.2 207.9h0M212.2 188h0M277 206.9h0M220 203.8h0M273.9 220.7h0M256.9 196.6h0M208.4 199.6h0M234.4 196.8h0M239.1 216.2h0M271.8 206.1h0M254 243.1h0M252.6 192.7h0M277.4 214.6h0M211.7 199.4h0M270.5 228.5h0M279.9 239.8h0M254.9 209.4h0M262.5 236.3h0M230.9 231.8h0M260.3 199.4h0M253.2 207.1h0M200.4 206.9h0M188.2 230.5h0M248.7 224h0M216.3 224.5h0M270.9 210.5h0M245.7 228.4h0M251.3 202.5h0M283 237.2h0M262.3 179h0M148.1 208.5h0M303.4 239.8h0M262.4 178.4h0M305.5 190.5h0M293.8 227.5h0M218.2 187h0M282.9 223.1h0M259.1 194.7h0M254.4 217.8h0M251.9 202.1h0M305.8 202.2h0M227.6 216.7h0M272.2 225.6h0M218.3 227.8h0M216.8 222.2h0M228 210.5h0M217 233h0M216.1 209.2h0M247.9 221h0M213.1 212.3h0M221.6 195.9h0M209.1 238h0M280.6 242.5h0M216.5 205.6h0M248.8 205.9h0M215.6 241.8h0M258.9 216.9h0M232.2 217.8h0M230.3 206.1h0M264.8 203.4h0M225.6 226.7h0M242.3 198.8h0M210.5 222.5h0M229.5 217h0M279.5 190.9h0M228.9 205.3h0M319.7 230.5h0M221.2 223h0M289.9 218.9h0M249.1 207.9h0M223.2 224.2h0M268.7 215.5h0M210.3 204.6h0M214.1 211.8h0M282.9 206h0M250.1 203.3h0M222 193.9h0M278.7 193.6h0M209.9 216.7h0M206.9 235.3h0M207.4 209.7h0M271.7 229.8h0M254.9 176.9h0M294.6 226.4h0M210.9 210.3h0M275.4 208h0M306.7 225.4h0M241.8 210.7h0M268.1 217.1h0M247.1 214.1h0M210.9 210.4h0M196.4 228.2h0M213.1 227h0M262.1 216.1h0M281.4 227.8h0M310.4 180.9h0M206.4 209h0M236.8 213.4h0M220.2 201.6h0M231.2 192.3h0M208.5 188h0M220 212.1h0M268.9 217.7h0M245.9 216.2h0M247.7 228.9h0M255 193.8h0M245.1 208h0M272.9 235.1h0M259.4 207.6h0M251.8 204.7h0M193.7 238.4h0M189.4 230.3h0M277 198.5h0M226.8 202.1h0M214.1 234.2h0M260 225.6h0M216.6 209h0M217.8 196.9h0M221.8 187.3h0M201.9 247.8h0M214 216.8h0M235.8 223h0M209 208.2h0M273.6 245h0M220.5 224.3h0M257.9 218.7h0M253 222.7h0M273.3 194.6h0M296.2 208.2h0M212.9 246.3h0M187.3 193.8h0M272.8 212.2h0M235.6 225.7h0M228.1 197.6h0M272.1 212.3h0M220.5 221.5h0M231.6 223.8h0M259.4 207.7h0M269.7 227.5h0M263.9 196.2h0M234.5 224.5h0M193 195.2h0M249.5 216.2h0M221.6 211.2h0M233.5 183h0M321 212.3h0M197.8 218.7h0M302.6 194.2h0M214.2 234.8h0M202.3 234.6h0M239.6 224h0M220.4 235.2h0M251.6 195.1h0M267 201.7h0M199.7 226h0M215.9 213.3h0M255.8 196h0M244.4 210.5h0M217.6 204.7h0M268.2 224.1h0M269.4 237.1h0M219.9 223.3h0M230.5 234.2h0M219.7 229.3h0M214.4 191h0M198.5 172.6h0M219.5 214.6h0M211.1 201.2h0M251.6 222.3h0M243.2 216.9h0M251.2 209.9h0M246.6 197.8h0M201.7 212.7h0M246.5 221.9h0M247.5 208.2h0M258.8 201h0M214.6 208.5h0M214.7 241h0M220.9 184.3h0M201.4 209.2h0M258.8 194.8h0M245.4 188.3h0M238 181h0M210.9 225.5h0M263.8 243.1h0M236 227.3h0M240.8 217.1h0M217.6 203.8h0M284.3 235.6h0M216.1 214.1h0M277.6 218.2h0M198 235.7h0M251.8 201.4h0M314.7 224.9h0M191.4 213.8h0M286.9 198.6h0M239.3 211.4h0M236.5 223.7h0M247.9 215.5h0M199.2 217h0M248.3 208.3h0M244.5 187.8h0M264.4 184.6h0M238 227h0M282 220.2h0M217 203.7h0M248 208.3h0M272.8 200h0M267.6 214.2h0M252.3 216.3h0M245.6 207.1h0M207.7 207.2h0M246.9 237.8h0M208.3 226.5h0M257.9 198.8h0M250.1 229.5h0M249.8 218.1h0M225 204h0M222.5 212.1h0M265.3 182.7h0M302.5 206.7h0M233.2 220.3h0M195.4 224.1h0M276.1 174.1h0M269.1 202.8h0M263.6 203h0M275.2 200.2h0M245 222.2h0M202.9 199.3h0M209.3 207.3h0M245.2 187.8h0M252.4 231.8h0M215.3 221.8h0M279.7 200h0M262.5 220h0M224.9 223.6h0M260.9 194.2h0M266 199.3h0M240.8 216.1h0M215.6 194.9h0M234.9 177.2h0M196.5 209.8h0M213.9 186.4h0M238.1 212h0M201.1 214h0M243.6 189.9h0M226.9 224h0M228 218h0M238.9 236.4h0M257.4 219h0M255.3 182.3h0M236.6 193.8h0M243.7 226.4h0M256.2 189.6h0M235.3 195.7h0M213.7 221h0M207.2 213.1h0M241.6 234.3h0M287.2 237.7h0M274.2 218.9h0M280.5 222.8h0M228.2 189.2h0M246.7 205.5h0M250.5 210.8h0M260.1 247.3h0M271.6 181.2h0M246.5 220.7h0M223.6 174.3h0M225.7 229.8h0M282 213.5h0M234.8 186.4h0M288.6 221.9h0M218.7 205.7h0M251.2 208.9h0M272.9 216.5h0M200 191.9h0M201.2 237.9h0M201.2 197.7h0M179.9 179.9h0M207.7 212.5h0M215.7 225.1h0M220.4 206h0M235.2 192.3h0M233.4 223.8h0M270.7 201.2h0M272.5 208.3h0M187.1 213.1h0M225.1 198.8h0M258 210.2h0M229.2 221.9h0M263.4 206.8h0M220.2 212.4h0M295.9 190.5h0M242.7 198.3h0M240 200.2h0M174.7 189.8h0M234.4 230.4h0M240.6 203.1h0M177.8 219.3h0M187 219.3h0M229.2 236.4h0M224.5 233.4h0M219.7 229.8h0M255.8 223.5h0M233.3 202.2h0M211.7 183.7h0M270.4 225.1h0M266.3 187h0M260.2 211h0M268.7 195.8h0M258.8 203.3h0M288.8 218.9h0M265.8 217h0M248.1 217.8h0M198.1 203.2h0M211.5 199.8h0M175.3 175.7h0M226.1 187.7h0M216.5 223.2h0M285.5 192.5h0M274.4 196.8h0M224.9 203.6h0M244.5 220.2h0M273.1 212h0M270.9 233.3h0M255.8 235.1h0M214.1 230.2h0M261.7 237.6h0M192.4 228.5h0M304.5 234.8h0M287.9 221.8h0M279.4 201.8h0M265.3 236.6h0M226.2 231.5h0M263.3 201.4h0M300.1 206h0M277 223.8h0M265.1 226.3h0M234.3 223.3h0M246.7 238.9h0M180.7 216.1h0M229.4 202.1h0M277.7 238.2h0M250.1 233.7h0M217.1 237.2h0M191.1 188.8h0M262.5 241.6h0M221.5 219h0M231 227.5h0M254 238.3h0M202.3 205.5h0M224 217.2h0M226.5 201.3h0M253.3 198h0M242.2 205.7h0M201 205.2h0M254.9 224h0M210.8 215.7h0M274.1 185.9h0M258.9 192.8h0M201.1 196.7h0M248.5 194.6h0M248.4 179.3h0M248.5 196.7h0M211.8 211.7h0M192.9 209.8h0M261.7 230.8h0M221.2 218h0M248.9 212.2h0M248.7 248.5h0M248 248.2h0M291.7 217.9h0M214 201.7h0M184.8 236.3h0M201.6 190.8h0M283.4 209.6h0M216.5 224.2h0M318.7 203.3h0M226.4 198.4h0M318.1 221.7h0M255.3 215.4h0M239.9 172.4h0M277.6 196.5h0M270.9 227.4h0M200.2 208.8h0M209.7 237h0M199.8 207.5h0M282.2 199.4h0M243.4 204.6h0M247.2 202.2h0M281 226.9h0M257.5 199.1h0M266.6 205.1h0M208.6 201.5h0M197.3 244.2h0M237.2 222.5h0M180.2 214.8h0M282.6 214h0M220.7 219.1h0M232.4 241.7h0M293.5 197.7h0M291.8 203.5h0M242 196.9h0M229.8 242.9h0M189.1 213.5h0M205.9 212h0M235.7 183.7h0M218.9 215.8h0M260.7 191.2h0M270.9 205.2h0M253.1 216.6h0M231 209.1h0M263.7 224.8h0M253.8 194.9h0M309.6 233.4h0M246.5 173.2h0M222.2 208.3h0M284.9 213.9h0M238.8 205.5h0M235.6 236.7h0M240.9 214.3h0M279.9 212.8h0M268.4 194.1h0M217.5 209.3h0M223 196.5h0M289 226.2h0M236.8 218.9h0M254.7 173.1h0M228.7 188.2h0M186.7 206.7h0M243.2 224h0M217.8 226.5h0M279.1 245.5h0M216.3 237h0M238 181.6h0M210.2 240.4h0M174.1 210.4h0M229.8 206.7h0M185.1 220.8h0M292.9 204.2h0M286 239.5h0M166.7 211h0M299.1 211.5h0M248.7 205.9h0M242.8 196.2h0M199 210h0M248.3 215.1h0M209.6 231h0M207 189.9h0M268.4 191.2h0M248.8 233.6h0M234 221.4h0M243.9 199h0M273.7 211.4h0M301.9 216.9h0M286.6 228.7h0M233.6 208.1h0M251.6 208.9h0M270.7 211.1h0M249.1 205.2h0M202.7 226.1h0M223.7 183.7h0M250.6 200.3h0M257.4 193.4h0M250.3 237.4h0M268.3 227h0M198.3 216.9h0M236.5 211.8h0M218 214.9h0M281.5 219h0M253.3 195.7h0M204.3 221.4h0M272.6 225.7h0M260.1 216.7h0M269 208.3h0M239.4 210.6h0M287.5 238.1h0M216.5 222.7h0M261.5 213.1h0M253.9 207.1h0M230.8 201h0M240.1 211h0M227.5 205.6h0M241.6 216h0M212.7 220.3h0M237.4 232h0M226.5 213.9h0M291.3 197.9h0M205.8 205.5h0M231.1 214.7h0M263.4 244.4h0M229 231.4h0M241.7 213.9h0M201 229.2h0M244.5 220.2h0M267.2 182.2h0M246.9 213.1h0M292.5 209h0M288.5 215.2h0M211.5 231.1h0M259 226.5h0M273.4 206.4h0M248.9 215.4h0M237.6 187h0M261.7 196.1h0M252.2 204.9h0M248 214h0M206.4 208.9h0M218.3 219.8h0M267.2 246.6h0M163.4 202.4h0M221.4 190h0M234.3 217.2h0M225.7 199.8h0M172.8 243.9h0M235.1 203.1h0M243.5 227.8h0M243.9 210.3h0M240.7 217.5h0M284.8 182.4h0M210.3 210.6h0M233.1 212h0M250.6 193.2h0M253.5 207.4h0M226.8 192.8h0M236 198.3h0M209.9 222.6h0M224.4 190h0M190.3 192.9h0M229.2 185h0M245.3 218.7h0M258.3 227.1h0M280 219h0M224.2 228.1h0M255.3 174.7h0M204.6 199.4h0M255.5 230.7h0M248.9 180.3h0M242.1 182.9h0M250.7 207.5h0M287.7 173.6h0M278.2 183.4h0M280 240.5h0M204.6 190h0M204.5 205.6h0M214.3 202.5h0M253.7 219.2h0M253.3 211.9h0M211.9 210h0M181.9 220.7h0M250.3 174h0M260 218.1h0M230.7 206.7h0M196.9 216.8h0M249.6 224.5h0M274.2 201.4h0M270.5 228.9h0M268.1 192.8h0M171.2 211.6h0M260.7 195.2h0M225.8 218h0M205.6 226.7h0M233.2 210.6h0M265.7 220.1h0M272.4 194.3h0M235.5 225.7h0M221.7 202.4h0M285.7 191.1h0M263 207.3h0M251.4 236.8h0M261.1 230.9h0M247.3 195.4h0M258.1 197h0M257 232.6h0M242.3 205.2h0M307.7 209.2h0M212.6 230.5h0M277.8 216h0M196.7 241.8h0M209.8 209.3h0M234 212h0M226.3 199.6h0M237.4 181.9h0M273 191.6h0M263 190h0M268.1 231.5h0M217.2 211.4h0M252.8 211.5h0M260.9 197.2h0M242.2 218.6h0M285.1 213.4h0M221.1 222.3h0M259.4 236.8h0M232.8 188.6h0M225.2 213.7h0M271.8 217.3h0M266.5 203.2h0M282.8 215.9h0M218.2 202.5h0M213.4 206.4h0M283.7 244.4h0M234.3 225.7h0M171.2 195.3h0M312.8 230.9h0M199.6 214.5h0M207.8 207.9h0M304 215.1h0M208.7 186.6h0M256.7 213.7h0M239.1 211.3h0M296.7 230.7h0M303.2 209.4h0M318.9 227.4h0M250.9 203h0M244.4 235.8h0M257.3 213.9h0M237.7 225.3h0M218 239.8h0M224.9 236.4h0M189.1 204.2h0M198.1 211.1h0M225.8 202.6h0M253.5 215.4h0M244.3 213.7h0M309.6 201.2h0M291.7 234h0M244.5 227.5h0M210 210h0M280.8 241.8h0M230 234.3h0M251.2 208.4h0M231.4 216.5h0M235.8 228.2h0M213.1 215.8h0M225.4 215.8h0M260.5 209.4h0M287.8 213.2h0M222.9 228.9h0M261.2 230.8h0M187.5 209.3h0M249.4 197.6h0M259.2 204.8h0M224.3 212.7h0M244.8 218.1h0M201.2 236.2h0M228.6 228h0M279.2 182.6h0M295.8 220h0M211 239.1h0M294.9 217.9h0M212.2 220h0M234.9 188.2h0M244.1 206.5h0M197.1 221.2h0M203 226.7h0M245.9 202.9h0M237.9 194.8h0M228.1 216.9h0M198.8 201.4h0M283.6 210h0M240 195.6h0M289.2 208.4h0M304.5 229.1h0M302.7 220.6h0M233.9 237.6h0M259.8 198.9h0M235.8 196.9h0M223.7 223.3h0M279 228.2h0M187.3 239.2h0M246.9 205.4h0M211.7 219.7h0M220.1 201.9h0M246.4 223.2h0M273 212h0M248.1 227.7h0M258 232.7h0M214.1 226.9h0M174.4 182.7h0M235.2 227.4h0M229.4 196.1h0M249.6 212.5h0M192.7 208.1h0M267.7 195.6h0M215 217.4h0M269.5 229.2h0M313.9 204.1h0M231 173.4h0M294.7 212.2h0M257.9 218.1h0M241.8 217h0M205 207.4h0M215.2 192.1h0M237.1 244.1h0M212.6 201.4h0M186.6 176.4h0M259.4 217.9h0M230.2 191h0M229.1 178.9h0M211.1 218.5h0M228.1 227.6h0M254.1 184.9h0M201.6 217.2h0M193 214.2h0M316.9 230.9h0M254 213.9h0M194.3 200.7h0M205.5 219.4h0M216.6 219h0M186.6 216.9h0M242 223.9h0M272.1 192.8h0M244.4 198.3h0M233.2 209.4h0M258.7 207.9h0M274 190.7h0M240.1 200.4h0M249.8 199.1h0M192.8 197.9h0M245.4 242.1h0M281.6 188.1h0M197.6 237.7h0M252.3 222.5h0M190.6 224.9h0M242.9 226.9h0M257.7 202.6h0M246 234.7h0M205.6 236.4h0M214.2 212h0M255.6 235.8h0M260.5 222.2h0M221.7 228.5h0M227.7 235.2h0M278.9 195.6h0M264 241.6h0M279.6 217.4h0M292.4 242.8h0M231.9 247.7h0M233.7 206.1h0M239.8 209.9h0M226.2 201.8h0M232.4 203h0M286.7 204.6h0M213 192.6h0M264.4 209.4h0M225.7 224h0M232.3 219.6h0M180.8 188.3h0M256.7 221.1h0M246 224.6h0M221 210.5h0M219.7 237.3h0M226.8 238.4h0M247.3 236.5h0M242 192.7h0M233.1 183.7h0M226 198.6h0M215.6 208.8h0M253.4 214.8h0M247.7 196.1h0M223.1 224.3h0M297 215.8h0M286.6 184h0M225 213.7h0M275.7 224.1h0M220.9 218.2h0M281.5 216.1h0M224.2 224.6h0M255.7 196.6h0M288 235.6h0M256.2 205.4h0M243 194.9h0M273.7 207h0M226.6 234h0M233.4 211.7h0M259.1 187h0M229.7 229.9h0M246.8 201.3h0M227 238.2h0M184.8 198.8h0M219.6 230.5h0M229.5 187.9h0M255.4 200.7h0M287 225.5h0M273.2 217.1h0M272.1 225.9h0M224.6 220.7h0M251.4 204.1h0M238.3 182.1h0M218.3 220.9h0M190.4 221.4h0M207.8 206h0M241.2 222.8h0M214.6 197.3h0M239.2 200.5h0M193 195.5h0M224.6 191h0M176.7 193.9h0M222.5 226h0M220.5 176.6h0M231 218.4h0M254.6 173.1h0M266.8 220.2h0M204 197h0M226.4 207.1h0M163.9 204.5h0M263.2 225.7h0M256.2 211.5h0M262.7 200.6h0M253.9 198.3h0M218.8 224.4h0M211 231.4h0M241.2 209.2h0M232.3 203.7h0M227.4 209.1h0M233.9 208h0M267.1 207.8h0M230.4 214.5h0M260.7 212.5h0M270.2 234.9h0M245.2 217.8h0M256.7 193.7h0M215 199.5h0M222.3 177.1h0M206.2 203.6h0M239.6 207.4h0M271.5 196.7h0M301.8 239h0M273.8 217.1h0M270.7 232.3h0M201.8 220.2h0M268 207.4h0M237.1 222.2h0M231.5 201.7h0M263.4 212.3h0M245.3 218.5h0M258.1 199.9h0M291.4 212.7h0M221.1 216.6h0M227.9 212.8h0M255.1 218.3h0M246.7 184.1h0M279.2 247.9h0M293.8 219.8h0M220.4 196.6h0M226.6 227.5h0M224.8 214.4h0M246.9 194.7h0M212.7 233.7h0M250.6 202.8h0M176.1 227.6h0M238.2 205.8h0M229 208.9h0M240.2 211.1h0M251.3 211.6h0M224.8 233.5h0M238.6 217.8h0M282.5 219.5h0M219.2 216.2h0M310.6 206.1h0M235.9 195.8h0M304.7 219.9h0M205.4 215.3h0M244 226.9h0M248.2 208.6h0M254.1 179.7h0M243.2 190.5h0M273.8 222.3h0M214.1 203.4h0M240.2 245h0M196.1 208.3h0M267.7 207.7h0M301.4 215.5h0M236 212.8h0M182.7 235.2h0M282.1 203.2h0M249.4 209h0M235.1 235.9h0M265.8 223h0M201.8 237.3h0M237.9 197.4h0M262.2 233.3h0M239.6 216.6h0M283.4 213.6h0M228.5 197.6h0M271 205.4h0M266.5 225.5h0M236.9 241.6h0M233.4 197.9h0M281.5 206.6h0M262.5 198.4h0M280.3 224.7h0M228.2 221.8h0M219.7 228.3h0M202.9 174.1h0M231.1 214.7h0M291.9 222.7h0M254.7 199.1h0M272.9 207.8h0M293 206.5h0M284.3 227.9h0M230.7 248.4h0M177.9 216.4h0M257.4 210h0M235 220.8h0M174.6 196h0M265.4 216.4h0M237.2 204h0M206.3 214.8h0M256.1 205.7h0M190.6 217.8h0M259.7 210.8h0M206.8 189.3h0M232.4 227h0M158.6 229.6h0M204.4 209.6h0M238 198.9h0M250.4 229.3h0M202.7 212.4h0M277.1 232.3h0M179.3 199.3h0M251.6 227.1h0M217 215.4h0M164.1 172.1h0M259.3 240.9h0M198.9 208.6h0M194.4 240.4h0M227 202.9h0M164.7 188.1h0M215.1 207.5h0M234.3 215.8h0M222.2 226.8h0M215.6 244.1h0M251.5 195.9h0M304.3 213.9h0M176.2 196.6h0M293.4 199.5h0M181.5 218h0M311.3 216.6h0M295.5 230.8h0M257.9 199.9h0M206.7 220.2h0M241 234.1h0M260.7 214.9h0M222.5 178.2h0M251.2 206.6h0M223.4 205.9h0M206.6 212.8h0M276.5 206.1h0M174.6 201.7h0M219.8 213.5h0M224.7 241.1h0M195.5 239.3h0M212.8 207.2h0M310.7 195.7h0M260.4 210.2h0M257.9 217.6h0M199.4 212.3h0M255.4 201.8h0M249.1 210.3h0M292.7 213.7h0M201.2 234.3h0M266.7 205.1h0M214 196.1h0M278.6 226.3h0M246 205.8h0M235.6 213.7h0M236.6 222.5h0M204.2 226h0M216.9 187.5h0M287.1 195.9h0M237.2 208.4h0M232.6 194.7h0M271.6 237.6h0M288.9 226.4h0M209.7 195.7h0M256.7 201.4h0M307.8 239.7h0M219.3 208.1h0M267.1 189.3h0M244.1 217.5h0M225.9 207.5h0M212.6 241.5h0M270 226h0M281.5 204.4h0M222.1 180.9h0M274.3 196.7h0M194.1 242.4h0M234.2 221.6h0M233.8 192.5h0M275.6 227.7h0M283.9 202h0M227.3 229.8h0M229.7 232.4h0M256.1 240.8h0M215.5 222h0M248.2 205.7h0M255.7 234.8h0M230.4 209.9h0M286 205.6h0M273.4 211.9h0M261.4 205.1h0M302.6 230.8h0M260.4 207.4h0M221.2 231.2h0M160.9 227.4h0M212 190.9h0M249.8 188.1h0M196.2 235.4h0M261.3 213.3h0M215.4 189h0M283.2 242.7h0M261.7 214h0M183.5 228h0M180.3 182.3h0M250.8 211.2h0M225.7 231.1h0M267.3 197.2h0M257.7 229.7h0M261.1 202.5h0M242.6 210.5h0M264.4 208.6h0M253.3 220.4h0M258.2 210.5h0M202 232.1h0M183.3 193.3h0M274 223.7h0M214.1 216.3h0M289.9 190.1h0M205 220.2h0M274.2 233h0M278.9 227.4h0M257.3 203.8h0M241.8 226.1h0M268.1 216.8h0M201.4 182h0M232.9 203h0M231.8 224.5h0M169.4 209.4h0M267.2 233.1h0M257.5 201.4h0M197.5 236h0M252.8 212.3h0M255.3 223.4h0M267.1 209h0M176.4 202.5h0M260.8 192.2h0M218.1 209h0M280.9 217.3h0M213.3 220.9h0M233.5 204.6h0M235.6 172.1h0M209.4 224.9h0M277.9 233.8h0M236 214.2h0M269.8 224h0M300.3 240.6h0M199.5 205.5h0M248.8 173.5h0M224.1 218.3h0M206.4 241.8h0M233.2 186.8h0M228.8 232.6h0M249.2 194.2h0M243.2 203.8h0M203.8 195.4h0M218.3 202.8h0M252.5 208.7h0M260.8 216.9h0M269.8 194.2h0M250.9 204.6h0M269.2 186.6h0M209.5 241.3h0M241.9 185h0M205.3 193h0M259.8 221.5h0M299.5 211.5h0M231.6 178.9h0M171.3 195.7h0M256.5 198.1h0M263 209.9h0M229 214.7h0M280.6 213.3h0M263 199.5h0M233.1 221.9h0M288.5 215.9h0M250.2 219.3h0M244.5 213.1h0M241.5 214.9h0M298.8 220.1h0M277.7 213.1h0M183 210.1h0M220.5 226.7h0M250.7 213.7h0M256.8 225.4h0M300.5 208.4h0M248.9 197.6h0M320.3 195.6h0M218.5 213.7h0M250.6 188.2h0M239.3 192.6h0M243 188.2h0M307.4 207.7h0M220 202.1h0M254.9 198.7h0M257 224.2h0M224.3 215h0M230.3 238.5h0M206.8 218.3h0M236 222.8h0M216.7 186.4h0M271 226.2h0M292.7 229h0M221 216.9h0M219 205.3h0M266.9 219h0M259.7 187.5h0M220.3 187.9h0M246.3 222.4h0M273.8 207.5h0M209.5 207.7h0M277.2 215.2h0M242.9 200.3h0M196.1 200.9h0M207 222.4h0M257.2 235.3h0M238.6 194h0M243.7 185.1h0M231.1 201.9h0M197.4 210.8h0M265.9 203.2h0M203.4 241.1h0M245.2 202.4h0M263 212.5h0M246.7 196.3h0M237.2 196.4h0M240.1 202h0M301.1 223.6h0M193.4 205h0M223.3 222.9h0M273.6 215h0M267.6 217.4h0M234.4 240.1h0M196.9 218.6h0M250.6 219.5h0M201.6 203.9h0M228.4 181.3h0M196 210.2h0M244.8 242h0M254.4 183.5h0M258.3 227.8h0M299.5 196.5h0M287.6 237.8h0M202.1 214h0M191.8 220.2h0M241.3 205.5h0M254.9 211.7h0M178.1 197.2h0M184 205.7h0M217.3 223.4h0M239.4 176.7h0M220.6 226h0M253.7 214.7h0M256 218.9h0M249.4 211.5h0M190.4 191.9h0M268.2 198.2h0M227 220.9h0M272.5 215.6h0M240.1 201.7h0M297.7 192.1h0M278.4 243.9h0M205.2 230.9h0M236.9 183.2h0M245.6 185.8h0M247.7 203.8h0M260.4 217.3h0M221.8 245.5h0M244.6 209.7h0M268.4 193.1h0M217.5 217.6h0M220 183.7h0M216.1 211.4h0M272.6 206.1h0M210.4 201.7h0M222.6 216.5h0M259.8 187.7h0M237.3 215.7h0M245.9 205.3h0M292 197.9h0M222.4 185.1h0M205.7 197.3h0M257.4 202.8h0M210 228.5h0M197.7 199h0M193.2 171.9h0M177.7 229.7h0M246.8 232.9h0M279.9 243.6h0M204.8 203h0M217.6 234.4h0M235.4 220.1h0M248 214.1h0M261.1 202.8h0M325.7 212.2h0M215.2 203.6h0M241 225.6h0M215.9 239.7h0M231.7 242.8h0M267.3 213.4h0M213.7 219.8h0M235.5 211.5h0M240.6 196.7h0M261.1 189.7h0M231.2 198.6h0M237.2 208.4h0M232.7 211.7h0M218.2 200.9h0M213.2 208.6h0M219.5 182.6h0M192.4 191.2h0M247.1 191h0M217.1 244.5h0M215.3 199.4h0M269.5 205.8h0M229.8 189h0M176.5 230.9h0M240.3 239h0M219.2 210.5h0M213.8 209.5h0M249.9 220.1h0M246.1 200.7h0M243.7 196.1h0M224.3 204.7h0M212.7 180.8h0M254.1 217.5h0M248.7 199.3h0M257.9 211.8h0M261.2 225.8h0M240.3 223.9h0M244.7 236.7h0M204.1 197.3h0M287.3 199.9h0M273.5 214.8h0M274 217.3h0M237.9 184.1h0M275.8 192.5h0M265.6 239h0M223.2 226h0M228.2 216.2h0" stroke="#bebebe" stroke-width="3.8" stroke-linecap="round" fill="none"/>
<path d="M244.8 230h0M223.7 176.1h0M264.8 198h0M216.3 190h0M246 220.5h0M270.1 230.9h0M254.7 228.2h0M204.8 229.3h0M271 198.2h0M225.4 217.6h0M243.4 205.8h0M242 209.2h0M217.4 228.6h0M183.5 230.6h0M208.2 248.4h0M240.5 222.1h0M307.8 233.8h0M317.1 201.4h0M230.4 228.5h0M263 241.2h0M277.5 215.1h0M238.3 247.8h0M210 184.8h0M216.7 228.4h0M272.4 208.2h0M271.3 236.2h0M277 218h0M236.4 217.2h0M193.3 225.2h0M193.8 194h0M232.3 231.2h0M233.8 246h0M215.5 208.3h0M255 222.7h0M291.4 221h0M259.7 241h0M250.7 210.6h0M238.1 199.9h0M241 229.9h0M216.7 229.1h0M225.8 237.1h0M295.9 211.1h0M235.8 247.6h0M233.2 230.3h0M244.2 191.9h0M236.5 190.2h0M226.7 213.3h0M219.5 220.9h0M199.6 229.2h0M268.4 211.7h0M225.8 179.7h0M199.6 246.9h0M259.5 215.1h0M203.6 248.5h0M239.9 191.1h0M193.1 205.3h0M221.9 201.5h0M249.8 213.2h0M190.4 248.8h0M250.8 206.9h0M222.9 215.8h0M226.5 212.1h0M235.6 199.2h0M218.6 208.4h0M244.3 212.1h0M288.5 228.4h0M243 224.1h0M281.6 219.3h0M215.8 178h0M289.8 188.3h0M230.1 237.8h0M239.6 225.7h0M223.4 228.4h0M281.6 221.2h0M229.2 220.4h0M255.3 231.7h0M309 213.8h0M190.8 226.5h0M185.1 214.2h0M265.2 197.7h0M231.4 226.6h0M208.1 208.3h0M222.5 204.4h0M228.8 239.9h0M222.4 205.7h0M184.7 230.9h0M199.6 231.8h0M270.1 206.9h0M263.3 219h0M246.2 190h0M250.8 214.1h0M266.8 236.9h0M287.2 203.7h0M267.6 220.2h0M307.1 212.4h0M223.2 240.2h0M287.3 206.2h0M258.8 224.8h0M220.5 216.4h0M224.4 223.9h0M235.4 229.5h0M242.9 210h0M249.2 202.5h0M238 214.6h0M247.8 223.7h0M217.9 192.6h0M234.7 242.6h0M236.1 209.7h0M233.7 219.2h0M219.7 236.3h0M228.1 219.3h0M212.4 209.9h0M229.2 230.8h0M228.2 233.8h0M190.6 222.5h0M213.7 193.7h0M301.1 227.4h0M269.1 241.6h0M255.6 211.8h0M232.7 233.9h0M213 242h0M223.1 210.2h0M208.1 218.8h0M275.9 204.4h0M206.6 209.4h0M208.1 198.1h0M279.4 218.8h0M214.7 200.3h0M299.2 230.4h0M217.8 228.1h0M199.9 217.5h0M225.8 222.7h0M239.6 192.7h0M236.1 192.6h0M185.9 217.7h0M214.1 226.4h0M222.8 201h0M231.4 207.6h0M223.8 187.5h0M214.9 196.1h0M273.1 189.8h0M249.4 215.1h0M173.2 243.5h0M231.7 216.9h0M287.8 214.1h0M188.8 217.3h0M288.4 195.2h0M215.5 218.9h0M265.2 218.3h0M202.9 222h0" stroke="#d3d3d3" stroke-width="3.8" stroke-linecap="round" fill="none"/>

<g stroke="#80ccec" stroke-width="1.6" fill="none">
<line x1="78" y1="170.35" x2="445" y2="170.35"/>
<line x1="78" y1="250.8" x2="445" y2="250.8"/>
<line x1="146" y1="1" x2="146" y2="421.5"/>
<line x1="327.5" y1="1" x2="327.5" y2="422.5"/>
</g>
<path d="M280.8 21.1h0M305.5 80.3h0M180.7 68.8h0M192.3 75.6h0M199.1 84.5h0M210.2 82.5h0M208.5 88.4h0M197.3 89.8h0M217.7 98.5h0M215 103.1h0M196.5 104.5h0M188.6 108h0M198.2 108.4h0M202.4 108h0M215 108.4h0M269.3 86.8h0M228.7 95.4h0M243.7 102.6h0M251.2 102.2h0M224.2 106.3h0M264.7 109.5h0M272.3 106.3h0M211.6 116.3h0M234.9 114.5h0M241.5 115.1h0M243.7 116.4h0M245.1 118.2h0M240.2 120.4h0M251.2 118.6h0M224.8 118.6h0M226.1 122.2h0M223.9 123.5h0M217.3 122.6h0M229.2 125.7h0M246.4 122.6h0M212.5 128.6h0M216.6 128.6h0M209.1 131.4h0M209.1 134.8h0M230.1 135.4h0M242.9 130.4h0M243.3 135.4h0M236.3 141.1h0M223.5 143.7h0M227.9 141.8h0M248.1 142h0M250.3 140.7h0M253.9 139.3h0M220.4 144.2h0M242 144.2h0M258.6 111.6h0M258.5 120h0M260.8 128.3h0M264.1 134.9h0M266.3 134h0M276.2 136.3h0M275.5 139.3h0M299.8 132.7h0M269.8 141.1h0M298.2 141.5h0M175.2 159.2h0M190.5 150.3h0M193.4 153.2h0M193.9 161.4h0M199.5 159.2h0M199.5 167.4h0M207.7 150.6h0M213.3 153h0M213.3 148.1h0M215.8 149.2h0M220 145.3h0M223.2 144.2h0M222.1 149.2h0M226 147.7h0M228.5 148.1h0M228.1 141.8h0M233.4 146.3h0M209.8 156.2h0M217.5 156.2h0M201 158.3h0M202.4 157.3h0M199.9 159.7h0M195.4 161.5h0M204.5 161.8h0M202 164.3h0M199.9 167.1h0M204.5 167.8h0M204.9 169.6h0M221.8 156.9h0M224.6 157.3h0M220.4 159h0M223.2 159.7h0M227.4 158.7h0M233.4 156.9h0M215.4 163.2h0M219 162.9h0M222.5 161.8h0M214.7 166.4h0M216.1 168.2h0M219 168.2h0M219.6 165.4h0M223.9 164.6h0M226.7 166.8h0M229.5 167.8h0M232.3 167.5h0M233 163.9h0M213.3 168.2h0M234.6 148.1h0M244.8 146.3h0M248.3 143.2h0M251.8 146.7h0M254.6 148.5h0M261 146.3h0M265.9 146.7h0M267.3 144.9h0M246.9 150.9h0M241.6 153h0M237 154.1h0M234.2 155.5h0M232.8 157.3h0M235.6 158.3h0M238.5 156.9h0M240.6 155.8h0M242 158.3h0M246.2 157.3h0M253.9 158.3h0M257.5 153.7h0M259.6 153.4h0M268 154.1h0M258.2 157.6h0M263.8 159.7h0M267.3 160.4h0M237 163.9h0M239.2 161.1h0M234.2 166.8h0M231.4 167.5h0M237.7 167.5h0M240.6 166.8h0M252.5 163.2h0M253.2 166.8h0M253.9 169.6h0M250.4 165.4h0M256.8 162.5h0M259.6 163.9h0M261.7 161.8h0M263.1 166.1h0M258.9 167.5h0M266.6 165.4h0M268.4 163.2h0M268.7 168.2h0M263.1 169.6h0M249.7 169.6h0M243.4 169.6h0M273.5 145.3h0M275.6 145.6h0M280.8 146h0M276.6 150.2h0M291.8 151.3h0M302.3 149.9h0M300.2 152.3h0M271.3 155.8h0M269.2 158.3h0M286.1 156.5h0M293.2 156.9h0M299.5 158.7h0M288.2 158.7h0M288.9 160.8h0M281.9 161.1h0M295.3 160.4h0M304.4 162.9h0M272 162.5h0M266.1 163.9h0M288.9 163.9h0M288.9 166.4h0M297.4 166.1h0M269.2 166.1h0M272.7 166.8h0M276.3 166.1h0M279.1 166.4h0M277.7 168.2h0M267.1 167.8h0M270.6 168.2h0M332 146.3h0M316.5 161.8h0M314.4 167.1h0M312.3 169.2h0M309.2 169.9h0M329.6 173.7h0M330.4 176.2h0M343.6 181.4h0M347.3 180.1h0M334.8 186.3h0M337.4 190.7h0M366.2 188h0M330.4 193.6h0M339.8 194.6h0M331.4 196.8h0M334.5 198.2h0M332.8 200.4h0M349 200.4h0M335.8 203.5h0M327.5 206.1h0M330.6 207h0M336.7 207.9h0M328.8 209.2h0M342 209.2h0M340.7 212.3h0M347.3 210.9h0M327.5 211.4h0M330.6 214h0M328.4 216.2h0M330.6 218.8h0M338 220.4h0M329.2 224.1h0M340.7 225.4h0M341.6 227.2h0M345.5 224.5h0M327 228h0M359.6 230.7h0M330.6 233.8h0M336.7 232.9h0M331.4 236.4h0M344.6 240.8h0M101.9 199h0M143.5 186.5h0M142 188h0M138.7 189.5h0M139.8 189.2h0M142.4 194h0M127.5 202.2h0M124.5 204.4h0M121.9 210.4h0M145.4 202.9h0M143.5 207h0M136.8 209.4h0M140.9 210.6h0M145.4 212.1h0M139.4 213.9h0M146.5 214.7h0M139.8 217.3h0M145.8 218h0M146.1 220.6h0M145.4 222.9h0M141.7 222.5h0M140.5 228.1h0M133.8 230.7h0M143.9 230.7h0M113.7 244.1h0M162.2 250.5h0M169.2 252.6h0M171.3 254.3h0M174.5 252.2h0M171.3 256.8h0M162.2 259.6h0M157.6 261.7h0M176.6 260h0M178 260.3h0M143.2 273.7h0M155.8 276.9h0M181.3 251.2h0M184.2 252.9h0M186.3 254.3h0M189.1 251.2h0M191.9 250.1h0M194 251.9h0M196.1 254.3h0M191.2 256.5h0M193.3 258.6h0M189.8 257.9h0M199 250.8h0M202.5 251.5h0M205.3 252.2h0M198.2 257.9h0M203.2 257.9h0M205.3 255.7h0M212.3 253.6h0M213 257.9h0M175.7 260.7h0M188 261h0M196.1 261h0M199.3 262.1h0M201.8 261.4h0M179.9 266.3h0M193.3 264.9h0M196.8 267h0M195.4 268.8h0M190.1 269.5h0M184.2 270.5h0M184.2 274.1h0M206.7 264.5h0M209.5 265.6h0M212.3 264.9h0M203.9 269.1h0M199.6 271.2h0M196.8 272.6h0M206 271.9h0M210.2 271.2h0M201.8 276.2h0M192.6 279.7h0M202.5 279h0M208.1 278.3h0M211.6 277.6h0M213.4 281.1h0M282.1 251.2h0M284.2 250.8h0M287 250.5h0M289.9 250.5h0M293 250.5h0M283.5 254h0M286.3 253.6h0M289.9 254h0M283.2 256.5h0M300.4 252.2h0M299 254h0M303.6 257.2h0M316.6 253.6h0M309.9 258.6h0M309.2 260.7h0M319.4 259.6h0M281.4 261h0M296.2 262.4h0M290.2 264.5h0M287.7 265.6h0M293.4 268.1h0M280.4 266.3h0M310.3 266.3h0M283.5 269.8h0M284.6 272.3h0M294.8 272.3h0M306.8 271.6h0M291.6 280.4h0M287.7 282.5h0M323.5 260.3h0M351.3 264.8h0M157.6 294.3h0M160.1 301h0M175.7 295.4h0M177 300.7h0M192.5 286.2h0M207 286.2h0M200.4 289.2h0M203.9 289.2h0M204.4 291.4h0M197.3 292.3h0M210.5 292.8h0M215.4 289.2h0M216.7 292.3h0M219.3 291.4h0M222 288.4h0M215.8 281.3h0M218.5 280.9h0M214.9 284h0M222.9 283.5h0M225.5 282.6h0M226.4 286.2h0M230.3 287h0M233 284.4h0M228.1 290.6h0M227.7 292.8h0M225.9 295.8h0M222.4 298.5h0M205.7 296.7h0M215.8 300.7h0M203.5 302.9h0M209.6 303.8h0M201.3 308h0M214 309.9h0M211.8 313.9h0M200 316.1h0M224.6 306.4h0M226.4 308.2h0M231.2 311.7h0M233.9 307.3h0M228.1 318.3h0M230.9 287.5h0M237.9 280.9h0M242.3 280.9h0M247.2 281.3h0M239.2 284.8h0M238.4 286.6h0M237 289.7h0M252.4 282.6h0M260.8 283.5h0M265.2 281.3h0M267.9 282.6h0M273.6 281.8h0M279.3 285.3h0M268.7 285.3h0M270.5 287.5h0M250.7 288.8h0M256.4 288.8h0M261.3 288.4h0M256 292.3h0M267 291.4h0M268.3 290.1h0M272.7 293.6h0M277.1 292.3h0M273.1 296.7h0M242.3 292.8h0M238.8 295.8h0M241 296.7h0M243.6 296.3h0M252.4 296.3h0M248.9 298.9h0M257.7 299.4h0M265.2 296.7h0M243.2 301.1h0M277.1 302.4h0M234.4 307.3h0M240.1 306.8h0M251.6 304.6h0M247.6 307.7h0M255.5 307.7h0M251.6 309.9h0M253.3 311.3h0M231.3 311.7h0M242.8 311.3h0M267.4 309h0M268.7 310.4h0M257.7 314.8h0M255.1 318.7h0M287.8 283.5h0M289.5 287h0M300.5 284.8h0M302.3 284.8h0M305.4 288.4h0M290.4 293.2h0M295.7 295.4h0M297.4 296.3h0M275.9 302.7h0M195.8 325.6h0M198.6 326.2h0M193.4 332.5h0M172.9 335.3h0M203.4 341.6h0M186.5 355.2h0M225.4 332.9h0M241.3 326.7h0M255.3 326.7h0M258.6 327.8h0M251 342h0M235.7 351.9h0M239.9 361.7h0M229.4 363.6h0M226.5 367h0M296.9 330.6h0M277.1 345.7h0M345.6 293.4h0M184.3 249.8h0M186.8 249.8h0M190.7 249.2h0M192.4 250.3h0M199.1 250h0M201 249.8h0M204.2 249.4h0M207.5 249.7h0M210.5 250h0M213.7 249.7h0M217.1 250.6h0M219.5 249.5h0M221.8 249.1h0M224.8 250.4h0M228.6 250.4h0M230.3 250.5h0M234.5 249.6h0M236.8 250.2h0M238.8 249.5h0M242.8 249.2h0M244.7 249.1h0M247.7 249.9h0M250.6 250.2h0M254.2 249.2h0M256.4 249.4h0M260.3 249.5h0M262.2 249.6h0M268 249.4h0M271.1 249.5h0M273.6 249.9h0M277.4 249.6h0M280.8 249.8h0M283.6 249.3h0M286.6 250.3h0M184.6 252.6h0M186.6 253.4h0M193.3 252.4h0M196.4 252h0M199 253.3h0M201.4 253.4h0M203.9 252.3h0M206.9 252.2h0M210.6 252.1h0M214 253.5h0M216.6 252.8h0M218.5 251.9h0M222.4 253.4h0M225.2 252.7h0M227.6 253.5h0M230.9 253.1h0M234.1 253h0M237.3 252.5h0M240.1 253.3h0M242.9 253.3h0M245.5 252.5h0M248.4 252h0M251.9 253.3h0M253.8 253.1h0M256.8 253.2h0M260.2 251.9h0M262.7 252.3h0M268.1 251.9h0M271.7 252.2h0M274.9 253h0M277.8 252.4h0M283.7 253.3h0M286 252.4h0M181.8 256.3h0M183.9 255.5h0M186.8 255.5h0M193.9 255.5h0M195.3 256.2h0M199.2 255.7h0M202.3 254.8h0M204.6 254.8h0M207.2 255h0M216.6 255.1h0M218.7 254.8h0M222.4 255.1h0M224.8 255.9h0M228.1 256h0M231.3 256.2h0M234.4 256h0M236.5 255.8h0M239.3 255.7h0M242.9 256.3h0M245.5 255.1h0M248.7 255.8h0M254.8 255.7h0M256.6 256.3h0M259.6 254.9h0M262.8 256h0M264.8 256.1h0M269 255.1h0M271.9 255h0M277.5 256.3h0M280.8 254.9h0M288.9 255.3h0M182.1 259.1h0M185 259.2h0M187.4 258h0M190.2 258.7h0M193.9 258.5h0M196.5 258.6h0M199.2 257.8h0M204.3 258.5h0M207.5 259h0M210.5 258.2h0M213.6 259.2h0M216.7 257.7h0M218.8 258.8h0M221.9 258.7h0M225.4 257.9h0M227.5 258h0M230.7 258.3h0M233.7 258h0M236.8 258.7h0M240.1 258.7h0M245.9 258.2h0M251.7 257.9h0M257.4 258.4h0M259.2 258.3h0M261.9 258h0M268.5 258.9h0M271.7 258h0M273.7 257.8h0M277.2 258.6h0M283.8 259.2h0M285.2 259.2h0M289.2 258.2h0M190 260.9h0M199.1 261.2h0M201.8 262.2h0M204.3 262.1h0M208 261.9h0M216.7 260.7h0M219.2 260.6h0M222.3 261.6h0M225.7 261.7h0M228.2 261.5h0M230.6 262.2h0M235.8 261.6h0M239.1 261.2h0M248.2 262.1h0M259.8 260.9h0M268.3 261.1h0M274 260.6h0M190.1 263.8h0M193.1 263.7h0M196.3 264.2h0M205.1 263.9h0M208.2 264.8h0M216.7 263.8h0M224.9 264.5h0M228 263.6h0M231.1 264.4h0M233.5 264.3h0M236.3 264.7h0M238.8 263.7h0M242.6 264.7h0M245.2 263.9h0M250.8 264.4h0M256.3 264.9h0M259.1 264.4h0M263 264h0M267.8 264h0M271.7 264h0M274.1 264.7h0M282.9 264.8h0M193.7 266.9h0M196 267.3h0M201.1 267.3h0M204 266.5h0M208.2 266.5h0M209.9 267.6h0M213 266.8h0M216.3 267.6h0M218.9 267.9h0M225.3 267.9h0M228.4 267.5h0M231.3 267.7h0M234.4 267.4h0M236.9 267.7h0M239.4 266.6h0M243.2 267h0M244.8 267.1h0M249 266.5h0M250.5 267.4h0M253.5 266.5h0M257 267.9h0M259.2 266.7h0M262.3 267.5h0M265.2 266.7h0M268 267.6h0M271.5 267.7h0M280.1 266.8h0M186.8 269.6h0M193.3 270.9h0M202.3 269.4h0M205 269.5h0M207.5 270.8h0M213.3 270.8h0M216.8 269.6h0M221.8 269.8h0M227.7 270.4h0M234.2 270.3h0M236.4 270.4h0M239.6 270h0M243.2 270.6h0M245.5 269.8h0M248.3 269.8h0M250.9 270.4h0M265.9 269.6h0M269 270.2h0M271 269.6h0M282.7 270h0M193.7 273.1h0M204.9 272.5h0M210.2 273.7h0M215.7 273.6h0M227.6 273.6h0M230.9 273.5h0M233.8 272.3h0M242.8 272.8h0M245.8 272.2h0M248.1 272.4h0M259.2 273.7h0M181.5 275.7h0M199 276.5h0M205.4 275.1h0M207.3 275.6h0M211.1 276.4h0M213.2 276h0M215.5 276.5h0M222.1 275.4h0M233.2 276.1h0M243 276.2h0M245.6 276.6h0M247.5 275.5h0M251.4 275.4h0M259.9 275.5h0M263.4 276.2h0M270.7 276.1h0M273.9 276.4h0M276.9 276.3h0M199.4 279.3h0M210 278.2h0M213.4 278.7h0M215.9 279.3h0M219.9 278.9h0M222.6 278.4h0M233.2 278.4h0M238.8 278.7h0M241.9 279.6h0M253.4 278.6h0M256.8 278.1h0M262.3 278.4h0M271.6 278.1h0M274.5 278.1h0M192.7 280.9h0M209.8 282.3h0M213.8 281.7h0M216.1 281.3h0M218.6 281.9h0M224.4 282h0M228.3 282h0M239 281h0M253.6 281.9h0M256.8 281.5h0M279.4 281.5h0M285.6 281.3h0M199.6 283.9h0M205.5 284h0M207.2 284.9h0M221.9 285.2h0M228.6 285.1h0M236.7 284.2h0M241.8 283.9h0M244.7 284.9h0M259.4 284.9h0M274.6 284.2h0M286.6 285.4h0M289.1 284h0M183.8 287.2h0M201.2 287h0M207 287.2h0M216.1 287.1h0M218.5 288.1h0M234 287.7h0M241.9 286.7h0M265.4 287.8h0M280.7 287.2h0M181.3 290.3h0M216.3 290.5h0M237.4 290.8h0M259.9 291h0M262.3 290.6h0M280.7 290.9h0M286.1 291h0" stroke="#000" stroke-width="3.8" stroke-linecap="round" fill="none"/>
<path d="M213.6 65.4h0M193.1 79.1h0M213 87h0M210.2 91.7h0M186.8 90.4h0M192.6 93.2h0M192.6 106.1h0M238.2 85h0M234.2 105.6h0M228.4 107h0M259.1 105.2h0M179.7 121.2h0M194.8 126.8h0M204.1 131.1h0M203.1 134.2h0M226.1 114.2h0M231.8 113.4h0M232.7 117.8h0M238.9 118.6h0M222.6 121.3h0M231 121.7h0M231.4 123.9h0M230.5 125.2h0M206.9 124.5h0M238 128.3h0M223.9 130.7h0M227.4 131h0M227 133h0M239.3 136.7h0M251.7 131.2h0M215.6 143.7h0M227.9 142.9h0M268.7 125.1h0M260.6 142h0M266.3 142.4h0M272.4 141.5h0M290.9 142.7h0M184.2 166.1h0M203.3 148.5h0M215.4 144.4h0M210.5 152.3h0M227.7 143.2h0M230.6 152.7h0M210.8 166.6h0M227.7 162.9h0M224.6 167.1h0M245.1 148.5h0M252.9 150.6h0M251.5 154.1h0M245.1 154.8h0M261 156.5h0M263.5 157.3h0M265.9 156.2h0M248.3 161.1h0M242 162.5h0M243.4 164.6h0M244.8 166.8h0M246.9 168.5h0M234.9 162.9h0M298.8 146.7h0M286.1 151.3h0M285.1 152.3h0M275.6 161.1h0M284 165.4h0M336.3 194.6h0M342 201.3h0M358.3 201.3h0M329.2 203.9h0M333.2 223.2h0M350.4 224.1h0M329.2 242.6h0M141.3 215.1h0M134.2 218.8h0M140.5 226.2h0M179.4 264.2h0M190.1 253.3h0M200.7 256.5h0M209.9 251.2h0M209.9 255.4h0M208.8 258.6h0M180.6 263.8h0M185.2 266.7h0M191.9 274.4h0M194.7 279.3h0M207.7 280h0M210.7 250.8h0M216.7 251.2h0M210.7 255.7h0M217 260.3h0M229.7 250.8h0M235 250.8h0M238.5 250.8h0M244.5 251.2h0M248.4 255h0M248.4 259.3h0M229.7 257.2h0M231.1 259.6h0M230.4 262.1h0M228.7 265.6h0M235.4 267h0M230.4 270.5h0M217.4 270.5h0M248.4 273h0M245.2 276.9h0M232.2 280.4h0M273.9 249.4h0M276.7 252.9h0M272.8 256.5h0M274.9 265.3h0M259.4 267.4h0M261.2 273.4h0M276.3 279.7h0M284.4 263.5h0M297.3 252.6h0M285.3 263.1h0M289.9 267h0M315.2 264.9h0M301.8 276.9h0M345.3 261.4h0M180.5 284.8h0M212.7 291.9h0M222.9 293.2h0M232.5 281.3h0M259.9 292.3h0M263.9 301.1h0M262.6 302.9h0M214.8 329h0M211.4 339.6h0M238 356.9h0" stroke="#e0151b" stroke-width="3.8" stroke-linecap="round" fill="none"/>

<rect x="77.4" y="1.1" width="310.8" height="380.3" fill="none" stroke="#000" stroke-width="2.4"/>
<g stroke="#000" stroke-width="2">
<line x1="71" y1="358.1" x2="77.4" y2="358.1"/>
<line x1="71" y1="309.4" x2="77.4" y2="309.4"/>
<line x1="71" y1="260.6" x2="77.4" y2="260.6"/>
<line x1="71" y1="211.8" x2="77.4" y2="211.8"/>
<line x1="71" y1="163.0" x2="77.4" y2="163.0"/>
<line x1="71" y1="114.2" x2="77.4" y2="114.2"/>
<line x1="71" y1="65.5" x2="77.4" y2="65.5"/>
<line x1="71" y1="16.7" x2="77.4" y2="16.7"/>
</g>
<g font-size="15" text-anchor="end" fill="#000" stroke="#000" style="stroke-width:0.5px">
<text x="64.4" y="22.6">4</text>
<text x="64.4" y="118.9">2</text>
<text x="64.4" y="217.2">0</text>
<text x="64.4" y="316.1">−2</text>
</g>
<g font-size="17.4" text-anchor="middle" fill="#000" stroke="#000">
<text transform="translate(13.2,213) rotate(-90)">Gene expression</text>
<text transform="translate(36.3,210) rotate(-90)">log2 (tumor/normal)</text>
</g>
<g fill="none" stroke="#222" stroke-width="0.9">
<rect x="394.1" y="207.55" width="84.90" height="4.95"/>
<rect x="394.1" y="202.60" width="77.10" height="4.95"/>
<rect x="394.1" y="197.65" width="63.80" height="4.95"/>
<rect x="394.1" y="192.70" width="48.70" height="4.95"/>
<rect x="394.1" y="187.75" width="32.90" height="4.95"/>
<rect x="394.1" y="182.80" width="18.80" height="4.95"/>
<rect x="394.1" y="177.85" width="12.60" height="4.95"/>
<rect x="394.1" y="172.90" width="8.50" height="4.95"/>
<rect x="394.1" y="167.95" width="5.20" height="4.95"/>
<rect x="394.1" y="163.00" width="3.80" height="4.95"/>
<rect x="394.1" y="158.05" width="3.30" height="4.95"/>
<rect x="394.1" y="153.10" width="2.40" height="4.95"/>
<rect x="394.1" y="148.15" width="1.50" height="4.95"/>
<rect x="394.1" y="143.20" width="1.10" height="4.95"/>
<rect x="394.1" y="212.50" width="80.50" height="4.95"/>
<rect x="394.1" y="217.45" width="63.60" height="4.95"/>
<rect x="394.1" y="222.40" width="48.20" height="4.95"/>
<rect x="394.1" y="227.35" width="38.30" height="4.95"/>
<rect x="394.1" y="232.30" width="24.20" height="4.95"/>
<rect x="394.1" y="237.25" width="16.50" height="4.95"/>
<rect x="394.1" y="242.20" width="10.40" height="4.95"/>
<rect x="394.1" y="247.15" width="9.30" height="4.95"/>
<rect x="394.1" y="252.10" width="7.60" height="4.95"/>
<rect x="394.1" y="257.05" width="5.40" height="4.95"/>
<rect x="394.1" y="262.00" width="4.30" height="4.95"/>
<rect x="394.1" y="266.95" width="3.70" height="4.95"/>
<rect x="394.1" y="271.90" width="3.20" height="4.95"/>
<rect x="394.1" y="276.85" width="2.40" height="4.95"/>
<rect x="394.1" y="281.80" width="1.70" height="4.95"/>
<rect x="394.1" y="286.75" width="1.30" height="4.95"/>
<rect x="394.1" y="291.70" width="1.00" height="4.95"/>
<rect x="394.1" y="296.65" width="0.80" height="4.95"/>
<rect x="394.1" y="301.60" width="0.70" height="4.95"/>
</g>
<path d="M394.50 17.00C394.50 34.17 394.47 98.67 394.50 120.00C394.53 141.33 394.58 138.83 394.70 145.00C394.82 151.17 394.98 153.75 395.20 157.00C395.42 160.25 395.60 162.30 396.00 164.50C396.40 166.70 396.97 168.57 397.60 170.20C398.23 171.83 398.85 172.97 399.80 174.30C400.75 175.63 401.87 176.93 403.30 178.20C404.73 179.47 406.45 180.78 408.40 181.90C410.35 183.02 412.43 183.78 415.00 184.90C417.57 186.02 420.87 187.45 423.80 188.60C426.73 189.75 429.67 190.80 432.60 191.80C435.53 192.80 438.47 193.62 441.40 194.60C444.33 195.58 447.27 196.62 450.20 197.70C453.13 198.78 456.53 200.08 459.00 201.10C461.47 202.12 463.10 202.93 465.00 203.80C466.90 204.67 469.02 205.53 470.40 206.30C471.78 207.07 472.65 207.77 473.30 208.40C473.95 209.03 474.35 209.38 474.30 210.10C474.25 210.82 473.80 211.77 473.00 212.70C472.20 213.63 470.83 214.75 469.50 215.70C468.17 216.65 466.78 217.58 465.00 218.40C463.22 219.22 460.77 219.93 458.80 220.60C456.83 221.27 455.32 221.70 453.20 222.40C451.08 223.10 448.45 223.98 446.10 224.80C443.75 225.62 441.45 226.47 439.10 227.30C436.75 228.13 434.35 228.93 432.00 229.80C429.65 230.67 427.13 231.55 425.00 232.50C422.87 233.45 421.48 234.32 419.20 235.50C416.92 236.68 413.77 238.23 411.30 239.60C408.83 240.97 406.23 242.38 404.40 243.70C402.57 245.02 401.43 246.22 400.30 247.50C399.17 248.78 398.32 249.98 397.60 251.40C396.88 252.82 396.42 254.23 396.00 256.00C395.58 257.77 395.33 259.33 395.10 262.00C394.87 264.67 394.70 267.33 394.60 272.00C394.50 276.67 394.52 273.17 394.50 290.00C394.48 306.83 394.50 359.17 394.50 373.00" fill="none" stroke="#000" stroke-width="2.2" stroke-linecap="round" stroke-linejoin="round"/>
<g stroke="#000" stroke-width="2"><line x1="393.1" y1="381.3" x2="478.7" y2="381.3"/>
<line x1="394.1" y1="381.3" x2="394.1" y2="385"/>
<line x1="428.8" y1="381.3" x2="428.8" y2="385"/>
<line x1="463.4" y1="381.3" x2="463.4" y2="385"/>
</g>
<g font-size="10.3" text-anchor="middle" fill="#000" stroke="#000" style="stroke-width:0.6px">
<text x="394.1" y="395.8">0.0</text>
<text x="428.8" y="395.8">0.5</text>
<text x="463.4" y="395.8">1.0</text>
</g>
<text x="482.4" y="383.3" font-size="9.9" fill="#000" stroke="#000">Density</text>
<g fill="#3db4e3" stroke="#3db4e3" font-size="12.8"><text x="450.2" y="174.2">0.852</text><text x="450.2" y="254.9">-0.782</text></g>
<g fill="none" stroke="#222" stroke-width="0.9">
<rect x="138.20" y="387.4" width="4.88" height="2.31"/>
<rect x="143.09" y="387.4" width="4.88" height="3.38"/>
<rect x="147.97" y="387.4" width="4.88" height="4.15"/>
<rect x="152.86" y="387.4" width="4.88" height="6.34"/>
<rect x="157.74" y="387.4" width="4.88" height="7.90"/>
<rect x="162.62" y="387.4" width="4.88" height="11.80"/>
<rect x="167.51" y="387.4" width="4.88" height="15.03"/>
<rect x="172.40" y="387.4" width="4.88" height="18.30"/>
<rect x="177.28" y="387.4" width="4.88" height="23.82"/>
<rect x="182.17" y="387.4" width="4.88" height="28.59"/>
<rect x="187.05" y="387.4" width="4.88" height="34.18"/>
<rect x="191.94" y="387.4" width="4.88" height="41.59"/>
<rect x="196.82" y="387.4" width="4.88" height="45.06"/>
<rect x="201.71" y="387.4" width="4.88" height="55.63"/>
<rect x="206.59" y="387.4" width="4.88" height="61.75"/>
<rect x="211.48" y="387.4" width="4.88" height="67.90"/>
<rect x="216.36" y="387.4" width="4.88" height="70.45"/>
<rect x="221.25" y="387.4" width="4.88" height="75.32"/>
<rect x="226.13" y="387.4" width="4.88" height="81.52"/>
<rect x="231.02" y="387.4" width="4.88" height="76.39"/>
<rect x="235.90" y="387.4" width="4.88" height="85.01"/>
<rect x="240.79" y="387.4" width="4.88" height="80.42"/>
<rect x="245.67" y="387.4" width="4.88" height="76.81"/>
<rect x="250.56" y="387.4" width="4.88" height="71.79"/>
<rect x="255.44" y="387.4" width="4.88" height="69.19"/>
<rect x="260.33" y="387.4" width="4.88" height="64.08"/>
<rect x="265.21" y="387.4" width="4.88" height="58.80"/>
<rect x="270.10" y="387.4" width="4.88" height="49.78"/>
<rect x="274.98" y="387.4" width="4.88" height="44.90"/>
<rect x="279.87" y="387.4" width="4.88" height="37.88"/>
<rect x="284.75" y="387.4" width="4.88" height="30.43"/>
<rect x="289.63" y="387.4" width="4.88" height="25.58"/>
<rect x="294.52" y="387.4" width="4.88" height="18.62"/>
<rect x="299.40" y="387.4" width="4.88" height="16.71"/>
<rect x="304.29" y="387.4" width="4.88" height="11.71"/>
<rect x="309.18" y="387.4" width="4.88" height="8.53"/>
<rect x="314.06" y="387.4" width="4.88" height="6.89"/>
<rect x="318.95" y="387.4" width="4.88" height="4.58"/>
<rect x="323.83" y="387.4" width="4.88" height="3.02"/>
<rect x="328.72" y="387.4" width="4.88" height="2.33"/>
<rect x="333.60" y="387.4" width="4.88" height="2.36"/>
</g>
<path d="M90.50 387.42 L92.50 387.43 L94.50 387.43 L96.50 387.44 L98.50 387.45 L100.50 387.47 L102.50 387.48 L104.50 387.50 L106.50 387.52 L108.50 387.55 L110.50 387.58 L112.50 387.62 L114.50 387.66 L116.50 387.71 L118.50 387.78 L120.50 387.85 L122.50 387.94 L124.50 388.04 L126.50 388.16 L128.50 388.30 L130.50 388.46 L132.50 388.64 L134.50 388.85 L136.50 389.10 L138.50 389.38 L140.50 389.69 L142.50 390.05 L144.50 390.46 L146.50 390.92 L148.50 391.44 L150.50 392.01 L152.50 392.66 L154.50 393.37 L156.50 394.17 L158.50 395.04 L160.50 396.00 L162.50 397.05 L164.50 398.20 L166.50 399.45 L168.50 400.80 L170.50 402.26 L172.50 403.82 L174.50 405.49 L176.50 407.28 L178.50 409.17 L180.50 411.17 L182.50 413.27 L184.50 415.48 L186.50 417.78 L188.50 420.17 L190.50 422.64 L192.50 425.18 L194.50 427.78 L196.50 430.43 L198.50 433.11 L200.50 435.81 L202.50 438.51 L204.50 441.20 L206.50 443.86 L208.50 446.47 L210.50 449.01 L212.50 451.46 L214.50 453.81 L216.50 456.04 L218.50 458.12 L220.50 460.05 L222.50 461.80 L224.50 463.36 L226.50 464.71 L228.50 465.85 L230.50 466.77 L232.50 467.45 L234.50 467.89 L236.50 468.09 L238.50 468.04 L240.50 467.73 L242.50 467.18 L244.50 466.38 L246.50 465.34 L248.50 464.07 L250.50 462.58 L252.50 460.89 L254.50 459.01 L256.50 456.96 L258.50 454.76 L260.50 452.42 L262.50 449.97 L264.50 447.41 L266.50 444.78 L268.50 442.09 L270.50 439.37 L272.50 436.62 L274.50 433.87 L276.50 431.14 L278.50 428.44 L280.50 425.78 L282.50 423.19 L284.50 420.66 L286.50 418.21 L288.50 415.86 L290.50 413.60 L292.50 411.44 L294.50 409.40 L296.50 407.46 L298.50 405.64 L300.50 403.93 L302.50 402.33 L304.50 400.84 L306.50 399.47 L308.50 398.20 L310.50 397.03 L312.50 395.97 L314.50 394.99 L316.50 394.11 L318.50 393.31 L320.50 392.59 L322.50 391.94 L324.50 391.36 L326.50 390.85 L328.50 390.39 L330.50 389.98 L332.50 389.63 L334.50 389.31 L336.50 389.04 L338.50 388.80 L340.50 388.59 L342.50 388.41 L344.50 388.25 L346.50 388.12 L348.50 388.00 L350.50 387.91 L352.50 387.82 L354.50 387.75 L356.50 387.69 L358.50 387.64 L360.50 387.60 L362.50 387.56 L364.50 387.53 L366.50 387.51 L368.50 387.49 L370.50 387.47 L372.50 387.46 L374.50 387.45 L376.50 387.44 L377.20 387.43" fill="none" stroke="#000" stroke-width="2.2" stroke-linecap="round" stroke-linejoin="round"/>
<g fill="#3db4e3" stroke="#3db4e3" font-size="12.8" text-anchor="middle"><text x="150.8" y="435.8">-0.184</text><text x="329.6" y="435.8">0.186</text></g>
<g stroke="#000" stroke-width="2.4"><line x1="76" y1="387.4" x2="76" y2="474.4"/>
<line x1="66.5" y1="387.4" x2="76" y2="387.4"/>
<line x1="70.5" y1="401.9" x2="76" y2="401.9"/>
<line x1="66.5" y1="416.4" x2="76" y2="416.4"/>
<line x1="70.5" y1="430.9" x2="76" y2="430.9"/>
<line x1="66.5" y1="445.4" x2="76" y2="445.4"/>
<line x1="70.5" y1="459.9" x2="76" y2="459.9"/>
<line x1="66.5" y1="474.4" x2="76" y2="474.4"/>
</g>
<g font-size="9.8" text-anchor="end" fill="#000" stroke="#000" style="stroke-width:0.6px">
<text x="63.8" y="390.9">0</text>
<text x="63.8" y="419.9">2</text>
<text x="63.8" y="448.9">4</text>
<text x="63.8" y="477.9">6</text>
</g>
<text transform="translate(46.3,431) rotate(-90)" font-size="12.3" text-anchor="middle" fill="#000" stroke="#000" style="stroke-width:0.6px">Density</text>
<g stroke="#000" stroke-width="2.2"><line x1="91" y1="484.2" x2="377.2" y2="484.2"/>
<line x1="138.7" y1="484.2" x2="138.7" y2="489.7"/>
<line x1="236.4" y1="484.2" x2="236.4" y2="489.7"/>
<line x1="334.1" y1="484.2" x2="334.1" y2="489.7"/>
</g>
<g font-size="15" text-anchor="middle" fill="#000" stroke="#000" style="stroke-width:0.5px">
<text x="135.3" y="510.4">−0.2</text>
<text x="236" y="510.4">0.0</text>
<text x="333.8" y="510.4">0.2</text>
</g>
<text x="236.2" y="535.6" font-size="17.3" text-anchor="middle" fill="#000" stroke="#000">Correlation coefficient Rho</text>
<rect x="388.2" y="405" width="178.8" height="131" fill="#fff" stroke="#000" stroke-width="2"/>
<circle cx="401.6" cy="420.9" r="3.4" fill="#f80000"/>
<circle cx="401.6" cy="457.2" r="3.4" fill="#000"/>
<circle cx="401.6" cy="477.7" r="3.4" fill="#b4b4b4"/>
<circle cx="401.6" cy="517.7" r="3.4" fill="#d3d3d3"/>
<g font-size="17" fill="#000" stroke="#000">
<text x="415.5" y="424.9"><tspan font-style="italic">TelNet</tspan> genes,</text>
<text x="415.5" y="441.5">with p-value &lt; 0.01</text>
<text x="415.5" y="461.4">other <tspan font-style="italic">TelNet</tspan> genes</text>
<text x="415.5" y="482.1">genes</text>
<text x="415.5" y="502">with p-value &lt; 0.01</text>
<text x="415.5" y="522.2">other genes</text>
</g>
<g font-size="8.8" font-style="italic" font-weight="bold" style="stroke-width:0.25px">
<g fill="#d81e1e" stroke="#d81e1e">
<text x="89" y="184.2">GIGYF2</text>
<text x="80.2" y="218.6">ERCC5</text>
<text x="83.8" y="236.6">CTNNA1</text>
<text x="353" y="183.1">SUMO3</text>
<text x="351" y="260.7">ARL4D</text>
</g>
<g fill="#000" stroke="#000">
<text x="336.8" y="144">PLAU</text>
<text x="93.8" y="270.5">NOSTRIN</text>
<text x="351" y="280.8">PTGER3</text>
<text x="351" y="302.9">NTN1</text>
</g>
</g>
<g stroke-width="0.7" fill="none">
<g stroke="#d81e1e">
<line x1="121.6" y1="182.2" x2="138.2" y2="210.5"/>
<line x1="110.8" y1="215.2" x2="132.5" y2="218.2"/>
<line x1="118.8" y1="233.5" x2="139.4" y2="226.6"/>
<line x1="352.6" y1="181.9" x2="337.6" y2="193.8"/>
<line x1="349.6" y1="258.4" x2="345.3" y2="261.4"/>
</g>
<g stroke="#000">
<line x1="337.2" y1="139.5" x2="332" y2="146.3"/>
<line x1="133.2" y1="267.4" x2="143.2" y2="273.7"/>
<line x1="351.3" y1="264.8" x2="354.4" y2="274.2"/>
<line x1="345.6" y1="293.4" x2="350.8" y2="297.8"/>
</g>
</g>

</svg></body></html>
